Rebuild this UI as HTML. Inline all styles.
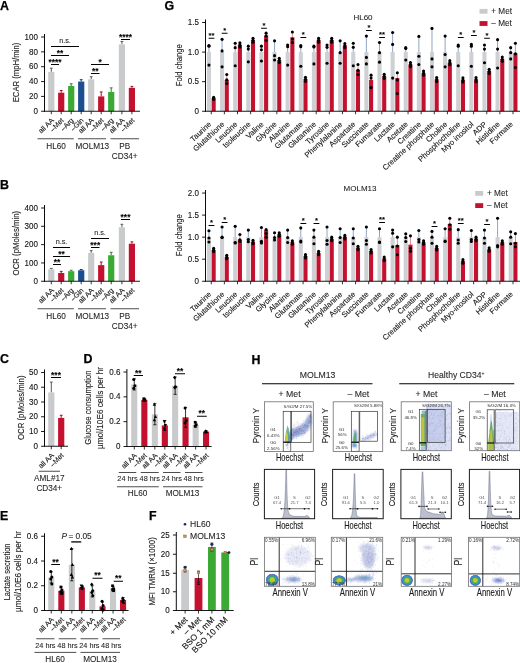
<!DOCTYPE html>
<html><head><meta charset="utf-8"><title>Figure</title>
<style>
html,body{margin:0;padding:0;background:#fff}
svg{display:block}
svg{font-family:"Liberation Sans",sans-serif;fill:#231f20}
</style></head><body>
<svg width="520" height="663" viewBox="0 0 520 663">
<rect width="520" height="663" fill="#fff"/>
<text transform="translate(0.1 10.4)" font-size="12.4" font-weight="bold" fill="#000" stroke="#000" stroke-width="0.25">A</text>
<line x1="51.3" y1="68.19" x2="51.3" y2="71.9" stroke="#58595b" stroke-width="1"/>
<line x1="49.9" y1="68.19" x2="52.7" y2="68.19" stroke="#58595b" stroke-width="1"/>
<rect x="48.2" y="71.9" width="6.2" height="39.35" fill="#c9cacc"/>
<line x1="61.2" y1="90.46" x2="61.2" y2="92.69" stroke="#9d0e26" stroke-width="1"/>
<line x1="59.8" y1="90.46" x2="62.6" y2="90.46" stroke="#9d0e26" stroke-width="1"/>
<rect x="58.1" y="92.69" width="6.2" height="18.56" fill="#c4112f"/>
<line x1="71.2" y1="83.78" x2="71.2" y2="86" stroke="#2c8229" stroke-width="1"/>
<line x1="69.8" y1="83.78" x2="72.6" y2="83.78" stroke="#2c8229" stroke-width="1"/>
<rect x="68.1" y="86" width="6.2" height="25.25" fill="#3aaa35"/>
<line x1="81.2" y1="79.69" x2="81.2" y2="81.55" stroke="#143c70" stroke-width="1"/>
<line x1="79.8" y1="79.69" x2="82.6" y2="79.69" stroke="#143c70" stroke-width="1"/>
<rect x="78.1" y="81.55" width="6.2" height="29.7" fill="#1b4f91"/>
<line x1="91.2" y1="76.72" x2="91.2" y2="79.32" stroke="#58595b" stroke-width="1"/>
<line x1="89.8" y1="76.72" x2="92.6" y2="76.72" stroke="#58595b" stroke-width="1"/>
<rect x="88.1" y="79.32" width="6.2" height="31.93" fill="#c9cacc"/>
<line x1="101.2" y1="91.95" x2="101.2" y2="96.4" stroke="#9d0e26" stroke-width="1"/>
<line x1="99.8" y1="91.95" x2="102.6" y2="91.95" stroke="#9d0e26" stroke-width="1"/>
<rect x="98.1" y="96.4" width="6.2" height="14.85" fill="#c4112f"/>
<line x1="111.2" y1="87.86" x2="111.2" y2="91.94" stroke="#2c8229" stroke-width="1"/>
<line x1="109.8" y1="87.86" x2="112.6" y2="87.86" stroke="#2c8229" stroke-width="1"/>
<rect x="108.1" y="91.94" width="6.2" height="19.31" fill="#3aaa35"/>
<line x1="121.9" y1="41.45" x2="121.9" y2="44.42" stroke="#58595b" stroke-width="1"/>
<line x1="120.5" y1="41.45" x2="123.3" y2="41.45" stroke="#58595b" stroke-width="1"/>
<rect x="118.8" y="44.42" width="6.2" height="66.83" fill="#c9cacc"/>
<line x1="131.9" y1="86.38" x2="131.9" y2="87.86" stroke="#9d0e26" stroke-width="1"/>
<line x1="130.5" y1="86.38" x2="133.3" y2="86.38" stroke="#9d0e26" stroke-width="1"/>
<rect x="128.8" y="87.86" width="6.2" height="23.39" fill="#c4112f"/>
<line x1="44.5" y1="34" x2="44.5" y2="111.7" stroke="#000" stroke-width="0.95"/>
<line x1="41.1" y1="111.25" x2="44.5" y2="111.25" stroke="#000" stroke-width="0.9"/>
<text transform="translate(38 113.9) scale(0.97 1)" font-size="8.3" text-anchor="end" fill="#111" stroke="#111" stroke-width="0.1">0</text>
<line x1="41.1" y1="96.4" x2="44.5" y2="96.4" stroke="#000" stroke-width="0.9"/>
<text transform="translate(38 99.05) scale(0.97 1)" font-size="8.3" text-anchor="end" fill="#111" stroke="#111" stroke-width="0.1">20</text>
<line x1="41.1" y1="81.55" x2="44.5" y2="81.55" stroke="#000" stroke-width="0.9"/>
<text transform="translate(38 84.2) scale(0.97 1)" font-size="8.3" text-anchor="end" fill="#111" stroke="#111" stroke-width="0.1">40</text>
<line x1="41.1" y1="66.7" x2="44.5" y2="66.7" stroke="#000" stroke-width="0.9"/>
<text transform="translate(38 69.35) scale(0.97 1)" font-size="8.3" text-anchor="end" fill="#111" stroke="#111" stroke-width="0.1">60</text>
<line x1="41.1" y1="51.85" x2="44.5" y2="51.85" stroke="#000" stroke-width="0.9"/>
<text transform="translate(38 54.5) scale(0.97 1)" font-size="8.3" text-anchor="end" fill="#111" stroke="#111" stroke-width="0.1">80</text>
<line x1="41.1" y1="37" x2="44.5" y2="37" stroke="#000" stroke-width="0.9"/>
<text transform="translate(38 39.65) scale(0.97 1)" font-size="8.3" text-anchor="end" fill="#111" stroke="#111" stroke-width="0.1">100</text>
<line x1="44.05" y1="111.25" x2="140" y2="111.25" stroke="#000" stroke-width="0.9"/>
<line x1="51.3" y1="111.25" x2="51.3" y2="114.25" stroke="#000" stroke-width="0.8"/>
<line x1="61.2" y1="111.25" x2="61.2" y2="114.25" stroke="#000" stroke-width="0.8"/>
<line x1="71.2" y1="111.25" x2="71.2" y2="114.25" stroke="#000" stroke-width="0.8"/>
<line x1="81.2" y1="111.25" x2="81.2" y2="114.25" stroke="#000" stroke-width="0.8"/>
<line x1="91.2" y1="111.25" x2="91.2" y2="114.25" stroke="#000" stroke-width="0.8"/>
<line x1="101.2" y1="111.25" x2="101.2" y2="114.25" stroke="#000" stroke-width="0.8"/>
<line x1="111.2" y1="111.25" x2="111.2" y2="114.25" stroke="#000" stroke-width="0.8"/>
<line x1="121.9" y1="111.25" x2="121.9" y2="114.25" stroke="#000" stroke-width="0.8"/>
<line x1="131.9" y1="111.25" x2="131.9" y2="114.25" stroke="#000" stroke-width="0.8"/>
<text transform="translate(54.3 120.85) rotate(-45)" font-size="7.2" text-anchor="end" fill="#111" stroke="#111" stroke-width="0.1">all AA</text>
<text transform="translate(64.2 120.85) rotate(-45)" font-size="7.2" text-anchor="end" fill="#111" stroke="#111" stroke-width="0.1">–Met</text>
<text transform="translate(74.2 120.85) rotate(-45)" font-size="7.2" text-anchor="end" fill="#111" stroke="#111" stroke-width="0.1">–Arg</text>
<text transform="translate(84.2 120.85) rotate(-45)" font-size="7.2" text-anchor="end" fill="#111" stroke="#111" stroke-width="0.1">–Gln</text>
<text transform="translate(94.2 120.85) rotate(-45)" font-size="7.2" text-anchor="end" fill="#111" stroke="#111" stroke-width="0.1">all AA</text>
<text transform="translate(104.2 120.85) rotate(-45)" font-size="7.2" text-anchor="end" fill="#111" stroke="#111" stroke-width="0.1">–Met</text>
<text transform="translate(114.2 120.85) rotate(-45)" font-size="7.2" text-anchor="end" fill="#111" stroke="#111" stroke-width="0.1">–Arg</text>
<text transform="translate(124.9 120.85) rotate(-45)" font-size="7.2" text-anchor="end" fill="#111" stroke="#111" stroke-width="0.1">all AA</text>
<text transform="translate(134.9 120.85) rotate(-45)" font-size="7.2" text-anchor="end" fill="#111" stroke="#111" stroke-width="0.1">–Met</text>
<line x1="37.5" y1="138.75" x2="73.75" y2="138.75" stroke="#000" stroke-width="0.7"/>
<line x1="78" y1="138.75" x2="106" y2="138.75" stroke="#000" stroke-width="0.7"/>
<line x1="110.5" y1="138.75" x2="139" y2="138.75" stroke="#000" stroke-width="0.7"/>
<text transform="translate(56 148.65)" font-size="8.2" text-anchor="middle" stroke="#231f20" stroke-width="0.09">HL60</text>
<text transform="translate(92.3 148.65)" font-size="8.2" text-anchor="middle" stroke="#231f20" stroke-width="0.09">MOLM13</text>
<text transform="translate(124.7 148.65)" font-size="8.2" text-anchor="middle" stroke="#231f20" stroke-width="0.09">PB</text>
<text transform="translate(124.7 158.65)" font-size="8.2" text-anchor="middle" stroke="#231f20" stroke-width="0.09">CD34+</text>
<text transform="translate(18.85 72.53) rotate(-90) scale(0.83 1)" font-size="9.3" text-anchor="middle" fill="#1a1a1a" stroke="#1a1a1a" stroke-width="0.12">ECAR (mpH/min)</text>
<line x1="51" y1="64.5" x2="59" y2="64.5" stroke="#000" stroke-width="1"/>
<text transform="translate(55 64.6)" font-size="8.4" text-anchor="middle" font-weight="bold" fill="#000" stroke="#000" stroke-width="0.09">****</text>
<line x1="51" y1="55.5" x2="69" y2="55.5" stroke="#000" stroke-width="1"/>
<text transform="translate(60 55.6)" font-size="8.4" text-anchor="middle" font-weight="bold" fill="#000" stroke="#000" stroke-width="0.09">**</text>
<line x1="51" y1="46.5" x2="79" y2="46.5" stroke="#000" stroke-width="1"/>
<text transform="translate(65 43.4)" font-size="7.3" text-anchor="middle" stroke="#231f20" stroke-width="0.09">n.s.</text>
<line x1="91" y1="73.5" x2="99.5" y2="73.5" stroke="#000" stroke-width="1"/>
<text transform="translate(95.25 73.6)" font-size="8.4" text-anchor="middle" font-weight="bold" fill="#000" stroke="#000" stroke-width="0.09">**</text>
<line x1="91" y1="64.5" x2="109" y2="64.5" stroke="#000" stroke-width="1"/>
<text transform="translate(100 64.6)" font-size="8.4" text-anchor="middle" font-weight="bold" fill="#000" stroke="#000" stroke-width="0.09">*</text>
<line x1="121" y1="39.5" x2="130" y2="39.5" stroke="#000" stroke-width="1"/>
<text transform="translate(125.5 39.6)" font-size="8.4" text-anchor="middle" font-weight="bold" fill="#000" stroke="#000" stroke-width="0.09">****</text>
<text transform="translate(0.1 189)" font-size="12.4" font-weight="bold" fill="#000" stroke="#000" stroke-width="0.25">B</text>
<line x1="51.3" y1="268.43" x2="51.3" y2="269.35" stroke="#58595b" stroke-width="1"/>
<line x1="49.9" y1="268.43" x2="52.7" y2="268.43" stroke="#58595b" stroke-width="1"/>
<rect x="48.2" y="269.35" width="6.2" height="11.9" fill="#c9cacc"/>
<line x1="61.2" y1="271.36" x2="61.2" y2="273.01" stroke="#9d0e26" stroke-width="1"/>
<line x1="59.8" y1="271.36" x2="62.6" y2="271.36" stroke="#9d0e26" stroke-width="1"/>
<rect x="58.1" y="273.01" width="6.2" height="8.24" fill="#c4112f"/>
<line x1="71.2" y1="270.26" x2="71.2" y2="271.18" stroke="#2c8229" stroke-width="1"/>
<line x1="69.8" y1="270.26" x2="72.6" y2="270.26" stroke="#2c8229" stroke-width="1"/>
<rect x="68.1" y="271.18" width="6.2" height="10.07" fill="#3aaa35"/>
<line x1="81.2" y1="269.53" x2="81.2" y2="270.26" stroke="#143c70" stroke-width="1"/>
<line x1="79.8" y1="269.53" x2="82.6" y2="269.53" stroke="#143c70" stroke-width="1"/>
<rect x="78.1" y="270.26" width="6.2" height="10.99" fill="#1b4f91"/>
<line x1="91.2" y1="250.67" x2="91.2" y2="252.87" stroke="#58595b" stroke-width="1"/>
<line x1="89.8" y1="250.67" x2="92.6" y2="250.67" stroke="#58595b" stroke-width="1"/>
<rect x="88.1" y="252.87" width="6.2" height="28.38" fill="#c9cacc"/>
<line x1="101.2" y1="262.02" x2="101.2" y2="265.13" stroke="#9d0e26" stroke-width="1"/>
<line x1="99.8" y1="262.02" x2="102.6" y2="262.02" stroke="#9d0e26" stroke-width="1"/>
<rect x="98.1" y="265.13" width="6.2" height="16.12" fill="#c4112f"/>
<line x1="111.2" y1="252.32" x2="111.2" y2="255.25" stroke="#2c8229" stroke-width="1"/>
<line x1="109.8" y1="252.32" x2="112.6" y2="252.32" stroke="#2c8229" stroke-width="1"/>
<rect x="108.1" y="255.25" width="6.2" height="26" fill="#3aaa35"/>
<line x1="121.9" y1="224.3" x2="121.9" y2="227.23" stroke="#58595b" stroke-width="1"/>
<line x1="120.5" y1="224.3" x2="123.3" y2="224.3" stroke="#58595b" stroke-width="1"/>
<rect x="118.8" y="227.23" width="6.2" height="54.02" fill="#c9cacc"/>
<line x1="131.9" y1="241.88" x2="131.9" y2="243.71" stroke="#9d0e26" stroke-width="1"/>
<line x1="130.5" y1="241.88" x2="133.3" y2="241.88" stroke="#9d0e26" stroke-width="1"/>
<rect x="128.8" y="243.71" width="6.2" height="37.54" fill="#c4112f"/>
<line x1="44.5" y1="205" x2="44.5" y2="281.7" stroke="#000" stroke-width="0.95"/>
<line x1="41.1" y1="281.25" x2="44.5" y2="281.25" stroke="#000" stroke-width="0.9"/>
<text transform="translate(38 283.9) scale(0.97 1)" font-size="8.3" text-anchor="end" fill="#111" stroke="#111" stroke-width="0.1">0</text>
<line x1="41.1" y1="262.94" x2="44.5" y2="262.94" stroke="#000" stroke-width="0.9"/>
<text transform="translate(38 265.58) scale(0.97 1)" font-size="8.3" text-anchor="end" fill="#111" stroke="#111" stroke-width="0.1">100</text>
<line x1="41.1" y1="244.62" x2="44.5" y2="244.62" stroke="#000" stroke-width="0.9"/>
<text transform="translate(38 247.27) scale(0.97 1)" font-size="8.3" text-anchor="end" fill="#111" stroke="#111" stroke-width="0.1">200</text>
<line x1="41.1" y1="226.31" x2="44.5" y2="226.31" stroke="#000" stroke-width="0.9"/>
<text transform="translate(38 228.96) scale(0.97 1)" font-size="8.3" text-anchor="end" fill="#111" stroke="#111" stroke-width="0.1">300</text>
<line x1="41.1" y1="208" x2="44.5" y2="208" stroke="#000" stroke-width="0.9"/>
<text transform="translate(38 210.65) scale(0.97 1)" font-size="8.3" text-anchor="end" fill="#111" stroke="#111" stroke-width="0.1">400</text>
<line x1="44.05" y1="281.25" x2="140" y2="281.25" stroke="#000" stroke-width="0.9"/>
<line x1="51.3" y1="281.25" x2="51.3" y2="284.25" stroke="#000" stroke-width="0.8"/>
<line x1="61.2" y1="281.25" x2="61.2" y2="284.25" stroke="#000" stroke-width="0.8"/>
<line x1="71.2" y1="281.25" x2="71.2" y2="284.25" stroke="#000" stroke-width="0.8"/>
<line x1="81.2" y1="281.25" x2="81.2" y2="284.25" stroke="#000" stroke-width="0.8"/>
<line x1="91.2" y1="281.25" x2="91.2" y2="284.25" stroke="#000" stroke-width="0.8"/>
<line x1="101.2" y1="281.25" x2="101.2" y2="284.25" stroke="#000" stroke-width="0.8"/>
<line x1="111.2" y1="281.25" x2="111.2" y2="284.25" stroke="#000" stroke-width="0.8"/>
<line x1="121.9" y1="281.25" x2="121.9" y2="284.25" stroke="#000" stroke-width="0.8"/>
<line x1="131.9" y1="281.25" x2="131.9" y2="284.25" stroke="#000" stroke-width="0.8"/>
<text transform="translate(54.3 290.85) rotate(-45)" font-size="7.2" text-anchor="end" fill="#111" stroke="#111" stroke-width="0.1">all AA</text>
<text transform="translate(64.2 290.85) rotate(-45)" font-size="7.2" text-anchor="end" fill="#111" stroke="#111" stroke-width="0.1">–Met</text>
<text transform="translate(74.2 290.85) rotate(-45)" font-size="7.2" text-anchor="end" fill="#111" stroke="#111" stroke-width="0.1">–Arg</text>
<text transform="translate(84.2 290.85) rotate(-45)" font-size="7.2" text-anchor="end" fill="#111" stroke="#111" stroke-width="0.1">–Gln</text>
<text transform="translate(94.2 290.85) rotate(-45)" font-size="7.2" text-anchor="end" fill="#111" stroke="#111" stroke-width="0.1">all AA</text>
<text transform="translate(104.2 290.85) rotate(-45)" font-size="7.2" text-anchor="end" fill="#111" stroke="#111" stroke-width="0.1">–Met</text>
<text transform="translate(114.2 290.85) rotate(-45)" font-size="7.2" text-anchor="end" fill="#111" stroke="#111" stroke-width="0.1">–Arg</text>
<text transform="translate(124.9 290.85) rotate(-45)" font-size="7.2" text-anchor="end" fill="#111" stroke="#111" stroke-width="0.1">all AA</text>
<text transform="translate(134.9 290.85) rotate(-45)" font-size="7.2" text-anchor="end" fill="#111" stroke="#111" stroke-width="0.1">–Met</text>
<line x1="37.5" y1="308.75" x2="73.75" y2="308.75" stroke="#000" stroke-width="0.7"/>
<line x1="78" y1="308.75" x2="106" y2="308.75" stroke="#000" stroke-width="0.7"/>
<line x1="110.5" y1="308.75" x2="139" y2="308.75" stroke="#000" stroke-width="0.7"/>
<text transform="translate(56 318.65)" font-size="8.2" text-anchor="middle" stroke="#231f20" stroke-width="0.09">HL60</text>
<text transform="translate(92.3 318.65)" font-size="8.2" text-anchor="middle" stroke="#231f20" stroke-width="0.09">MOLM13</text>
<text transform="translate(124.7 318.65)" font-size="8.2" text-anchor="middle" stroke="#231f20" stroke-width="0.09">PB</text>
<text transform="translate(124.7 328.65)" font-size="8.2" text-anchor="middle" stroke="#231f20" stroke-width="0.09">CD34+</text>
<text transform="translate(18.85 243.12) rotate(-90) scale(0.84 1)" font-size="9.3" text-anchor="middle" fill="#1a1a1a" stroke="#1a1a1a" stroke-width="0.12">OCR (pMoles/min)</text>
<line x1="53" y1="264.5" x2="61" y2="264.5" stroke="#000" stroke-width="1"/>
<text transform="translate(57 264.6)" font-size="8.4" text-anchor="middle" font-weight="bold" fill="#000" stroke="#000" stroke-width="0.09">**</text>
<line x1="53" y1="256.5" x2="70" y2="256.5" stroke="#000" stroke-width="1"/>
<text transform="translate(61.5 256.6)" font-size="8.4" text-anchor="middle" font-weight="bold" fill="#000" stroke="#000" stroke-width="0.09">**</text>
<line x1="53" y1="247.5" x2="70" y2="247.5" stroke="#000" stroke-width="1"/>
<text transform="translate(61.5 244.4)" font-size="7.3" text-anchor="middle" stroke="#231f20" stroke-width="0.09">n.s.</text>
<line x1="91" y1="247.5" x2="99.5" y2="247.5" stroke="#000" stroke-width="1"/>
<text transform="translate(95.25 247.6)" font-size="8.4" text-anchor="middle" font-weight="bold" fill="#000" stroke="#000" stroke-width="0.09">***</text>
<line x1="91" y1="238.5" x2="109" y2="238.5" stroke="#000" stroke-width="1"/>
<text transform="translate(100 235.4)" font-size="7.3" text-anchor="middle" stroke="#231f20" stroke-width="0.09">n.s.</text>
<line x1="121" y1="219.5" x2="130" y2="219.5" stroke="#000" stroke-width="1"/>
<text transform="translate(125.5 219.6)" font-size="8.4" text-anchor="middle" font-weight="bold" fill="#000" stroke="#000" stroke-width="0.09">***</text>
<text transform="translate(0.1 363.2)" font-size="12.4" font-weight="bold" fill="#000" stroke="#000" stroke-width="0.25">C</text>
<line x1="51.3" y1="382.09" x2="51.3" y2="392.41" stroke="#58595b" stroke-width="1"/>
<line x1="49.9" y1="382.09" x2="52.7" y2="382.09" stroke="#58595b" stroke-width="1"/>
<rect x="48.2" y="392.41" width="6.2" height="53.84" fill="#c9cacc"/>
<line x1="61.2" y1="415.28" x2="61.2" y2="417.93" stroke="#9d0e26" stroke-width="1"/>
<line x1="59.8" y1="415.28" x2="62.6" y2="415.28" stroke="#9d0e26" stroke-width="1"/>
<rect x="58.1" y="417.93" width="6.2" height="28.32" fill="#c4112f"/>
<line x1="44.5" y1="369.5" x2="44.5" y2="446.7" stroke="#000" stroke-width="0.95"/>
<line x1="41.1" y1="446.25" x2="44.5" y2="446.25" stroke="#000" stroke-width="0.9"/>
<text transform="translate(38 448.9) scale(0.97 1)" font-size="8.3" text-anchor="end" fill="#111" stroke="#111" stroke-width="0.1">0</text>
<line x1="41.1" y1="431.5" x2="44.5" y2="431.5" stroke="#000" stroke-width="0.9"/>
<text transform="translate(38 434.15) scale(0.97 1)" font-size="8.3" text-anchor="end" fill="#111" stroke="#111" stroke-width="0.1">10</text>
<line x1="41.1" y1="416.75" x2="44.5" y2="416.75" stroke="#000" stroke-width="0.9"/>
<text transform="translate(38 419.4) scale(0.97 1)" font-size="8.3" text-anchor="end" fill="#111" stroke="#111" stroke-width="0.1">20</text>
<line x1="41.1" y1="402" x2="44.5" y2="402" stroke="#000" stroke-width="0.9"/>
<text transform="translate(38 404.65) scale(0.97 1)" font-size="8.3" text-anchor="end" fill="#111" stroke="#111" stroke-width="0.1">30</text>
<line x1="41.1" y1="387.25" x2="44.5" y2="387.25" stroke="#000" stroke-width="0.9"/>
<text transform="translate(38 389.9) scale(0.97 1)" font-size="8.3" text-anchor="end" fill="#111" stroke="#111" stroke-width="0.1">40</text>
<line x1="41.1" y1="372.5" x2="44.5" y2="372.5" stroke="#000" stroke-width="0.9"/>
<text transform="translate(38 375.15) scale(0.97 1)" font-size="8.3" text-anchor="end" fill="#111" stroke="#111" stroke-width="0.1">50</text>
<line x1="44.05" y1="446.25" x2="68" y2="446.25" stroke="#000" stroke-width="0.9"/>
<line x1="51.3" y1="446.25" x2="51.3" y2="449.25" stroke="#000" stroke-width="0.8"/>
<line x1="61.2" y1="446.25" x2="61.2" y2="449.25" stroke="#000" stroke-width="0.8"/>
<text transform="translate(54.3 455.85) rotate(-45)" font-size="7.2" text-anchor="end" fill="#111" stroke="#111" stroke-width="0.1">all AA</text>
<text transform="translate(64.2 455.85) rotate(-45)" font-size="7.2" text-anchor="end" fill="#111" stroke="#111" stroke-width="0.1">–Met</text>
<line x1="38.75" y1="471.25" x2="60" y2="471.25" stroke="#000" stroke-width="0.7"/>
<text transform="translate(49.3 481)" font-size="8.2" text-anchor="middle" stroke="#231f20" stroke-width="0.09">AML#17</text>
<text transform="translate(49.3 490.8)" font-size="8.2" text-anchor="middle" stroke="#231f20" stroke-width="0.09">CD34+</text>
<text transform="translate(23.85 407.75) rotate(-90) scale(0.84 1)" font-size="9.3" text-anchor="middle" fill="#1a1a1a" stroke="#1a1a1a" stroke-width="0.12">OCR (pMoles/min)</text>
<line x1="51" y1="377.5" x2="61" y2="377.5" stroke="#000" stroke-width="1"/>
<text transform="translate(56 377.6)" font-size="8.4" text-anchor="middle" font-weight="bold" fill="#000" stroke="#000" stroke-width="0.09">***</text>
<text transform="translate(83.6 363.2)" font-size="12.4" font-weight="bold" fill="#000" stroke="#000" stroke-width="0.25">D</text>
<rect x="131.2" y="384.42" width="6.1" height="62.08" fill="#c9cacc"/>
<line x1="134.25" y1="378.83" x2="134.25" y2="390" stroke="#000" stroke-width="0.8"/>
<line x1="132.75" y1="378.83" x2="135.75" y2="378.83" stroke="#000" stroke-width="0.8"/>
<line x1="132.75" y1="390" x2="135.75" y2="390" stroke="#000" stroke-width="0.8"/>
<circle cx="133.75" cy="379.45" r="1.5" fill="#000"/>
<circle cx="134.85" cy="385.66" r="1.5" fill="#000"/>
<circle cx="133.75" cy="388.14" r="1.5" fill="#000"/>
<rect x="141.3" y="399.94" width="6.1" height="46.56" fill="#c4112f"/>
<line x1="144.35" y1="398.45" x2="144.35" y2="401.43" stroke="#000" stroke-width="0.8"/>
<line x1="142.85" y1="398.45" x2="145.85" y2="398.45" stroke="#000" stroke-width="0.8"/>
<line x1="142.85" y1="401.43" x2="145.85" y2="401.43" stroke="#000" stroke-width="0.8"/>
<rect x="142.5" y="397.35" width="2.7" height="2.7" fill="#000"/>
<rect x="143.6" y="398.59" width="2.7" height="2.7" fill="#000"/>
<rect x="142.5" y="399.21" width="2.7" height="2.7" fill="#000"/>
<rect x="151.8" y="414.22" width="6.1" height="32.28" fill="#c9cacc"/>
<line x1="154.85" y1="403.66" x2="154.85" y2="424.77" stroke="#000" stroke-width="0.8"/>
<line x1="153.35" y1="403.66" x2="156.35" y2="403.66" stroke="#000" stroke-width="0.8"/>
<line x1="153.35" y1="424.77" x2="156.35" y2="424.77" stroke="#000" stroke-width="0.8"/>
<path d="M154.35 402.48L156 405.63L152.7 405.63Z" fill="#000"/>
<path d="M155.45 414.9L157.1 418.05L153.8 418.05Z" fill="#000"/>
<path d="M154.35 418L156 421.15L152.7 421.15Z" fill="#000"/>
<rect x="161.8" y="425.39" width="6.1" height="21.11" fill="#c4112f"/>
<line x1="164.85" y1="420.43" x2="164.85" y2="430.36" stroke="#000" stroke-width="0.8"/>
<line x1="163.35" y1="420.43" x2="166.35" y2="420.43" stroke="#000" stroke-width="0.8"/>
<line x1="163.35" y1="430.36" x2="166.35" y2="430.36" stroke="#000" stroke-width="0.8"/>
<path d="M164.35 423.47L166 420.32L162.7 420.32Z" fill="#000"/>
<path d="M165.45 427.19L167.1 424.04L163.8 424.04Z" fill="#000"/>
<path d="M164.35 430.92L166 427.77L162.7 427.77Z" fill="#000"/>
<rect x="172.1" y="385.66" width="6.1" height="60.84" fill="#c9cacc"/>
<line x1="175.15" y1="376.97" x2="175.15" y2="394.35" stroke="#000" stroke-width="0.8"/>
<line x1="173.65" y1="376.97" x2="176.65" y2="376.97" stroke="#000" stroke-width="0.8"/>
<line x1="173.65" y1="394.35" x2="176.65" y2="394.35" stroke="#000" stroke-width="0.8"/>
<path d="M174.65 375.64L176.3 377.59L174.65 379.54L173 377.59Z" fill="#000"/>
<path d="M175.75 384.95L177.4 386.9L175.75 388.85L174.1 386.9Z" fill="#000"/>
<path d="M174.65 385.57L176.3 387.52L174.65 389.47L173 387.52Z" fill="#000"/>
<rect x="182.5" y="417.32" width="6.1" height="29.18" fill="#c4112f"/>
<line x1="185.55" y1="407.39" x2="185.55" y2="427.25" stroke="#000" stroke-width="0.8"/>
<line x1="184.05" y1="407.39" x2="187.05" y2="407.39" stroke="#000" stroke-width="0.8"/>
<line x1="184.05" y1="427.25" x2="187.05" y2="427.25" stroke="#000" stroke-width="0.8"/>
<circle cx="185.05" cy="408.01" r="1.5" fill="#000"/>
<circle cx="186.15" cy="420.43" r="1.5" fill="#000"/>
<circle cx="185.05" cy="422.91" r="1.5" fill="#000"/>
<rect x="192.6" y="424.77" width="6.1" height="21.73" fill="#c9cacc"/>
<line x1="195.65" y1="422.29" x2="195.65" y2="427.25" stroke="#000" stroke-width="0.8"/>
<line x1="194.15" y1="422.29" x2="197.15" y2="422.29" stroke="#000" stroke-width="0.8"/>
<line x1="194.15" y1="427.25" x2="197.15" y2="427.25" stroke="#000" stroke-width="0.8"/>
<rect x="193.8" y="420.94" width="2.7" height="2.7" fill="#000"/>
<rect x="194.9" y="423.42" width="2.7" height="2.7" fill="#000"/>
<rect x="193.8" y="424.66" width="2.7" height="2.7" fill="#000"/>
<rect x="203" y="431.6" width="6.1" height="14.9" fill="#c4112f"/>
<line x1="206.05" y1="430.61" x2="206.05" y2="432.59" stroke="#000" stroke-width="0.8"/>
<line x1="204.55" y1="430.61" x2="207.55" y2="430.61" stroke="#000" stroke-width="0.8"/>
<line x1="204.55" y1="432.59" x2="207.55" y2="432.59" stroke="#000" stroke-width="0.8"/>
<path d="M205.55 429.18L207.2 432.33L203.9 432.33Z" fill="#000"/>
<path d="M206.65 429.8L208.3 432.95L205 432.95Z" fill="#000"/>
<path d="M205.55 430.42L207.2 433.57L203.9 433.57Z" fill="#000"/>
<line x1="126.9" y1="369" x2="126.9" y2="446.95" stroke="#000" stroke-width="0.95"/>
<line x1="123.5" y1="446.5" x2="126.9" y2="446.5" stroke="#000" stroke-width="0.9"/>
<text transform="translate(120.4 449.15) scale(0.97 1)" font-size="8.3" text-anchor="end" fill="#111" stroke="#111" stroke-width="0.1">0</text>
<line x1="123.5" y1="421.67" x2="126.9" y2="421.67" stroke="#000" stroke-width="0.9"/>
<text transform="translate(120.4 424.31) scale(0.97 1)" font-size="8.3" text-anchor="end" fill="#111" stroke="#111" stroke-width="0.1">0.2</text>
<line x1="123.5" y1="396.83" x2="126.9" y2="396.83" stroke="#000" stroke-width="0.9"/>
<text transform="translate(120.4 399.48) scale(0.97 1)" font-size="8.3" text-anchor="end" fill="#111" stroke="#111" stroke-width="0.1">0.4</text>
<line x1="123.5" y1="372" x2="126.9" y2="372" stroke="#000" stroke-width="0.9"/>
<text transform="translate(120.4 374.65) scale(0.97 1)" font-size="8.3" text-anchor="end" fill="#111" stroke="#111" stroke-width="0.1">0.6</text>
<line x1="126.45" y1="446.5" x2="211.6" y2="446.5" stroke="#000" stroke-width="0.9"/>
<line x1="134.25" y1="446.5" x2="134.25" y2="449.5" stroke="#000" stroke-width="0.8"/>
<line x1="144.35" y1="446.5" x2="144.35" y2="449.5" stroke="#000" stroke-width="0.8"/>
<line x1="154.85" y1="446.5" x2="154.85" y2="449.5" stroke="#000" stroke-width="0.8"/>
<line x1="164.85" y1="446.5" x2="164.85" y2="449.5" stroke="#000" stroke-width="0.8"/>
<line x1="175.15" y1="446.5" x2="175.15" y2="449.5" stroke="#000" stroke-width="0.8"/>
<line x1="185.55" y1="446.5" x2="185.55" y2="449.5" stroke="#000" stroke-width="0.8"/>
<line x1="195.65" y1="446.5" x2="195.65" y2="449.5" stroke="#000" stroke-width="0.8"/>
<line x1="206.05" y1="446.5" x2="206.05" y2="449.5" stroke="#000" stroke-width="0.8"/>
<text transform="translate(137.25 456.1) rotate(-45)" font-size="7.2" text-anchor="end" fill="#111" stroke="#111" stroke-width="0.1">all AA</text>
<text transform="translate(147.35 456.1) rotate(-45)" font-size="7.2" text-anchor="end" fill="#111" stroke="#111" stroke-width="0.1">–Met</text>
<text transform="translate(157.85 456.1) rotate(-45)" font-size="7.2" text-anchor="end" fill="#111" stroke="#111" stroke-width="0.1">all AA</text>
<text transform="translate(167.85 456.1) rotate(-45)" font-size="7.2" text-anchor="end" fill="#111" stroke="#111" stroke-width="0.1">–Met</text>
<text transform="translate(178.15 456.1) rotate(-45)" font-size="7.2" text-anchor="end" fill="#111" stroke="#111" stroke-width="0.1">all AA</text>
<text transform="translate(188.55 456.1) rotate(-45)" font-size="7.2" text-anchor="end" fill="#111" stroke="#111" stroke-width="0.1">–Met</text>
<text transform="translate(198.65 456.1) rotate(-45)" font-size="7.2" text-anchor="end" fill="#111" stroke="#111" stroke-width="0.1">all AA</text>
<text transform="translate(209.05 456.1) rotate(-45)" font-size="7.2" text-anchor="end" fill="#111" stroke="#111" stroke-width="0.1">–Met</text>
<line x1="118.75" y1="472.5" x2="136.25" y2="472.5" stroke="#000" stroke-width="0.7"/>
<line x1="140.75" y1="472.5" x2="158.75" y2="472.5" stroke="#000" stroke-width="0.7"/>
<line x1="163" y1="472.5" x2="180.5" y2="472.5" stroke="#000" stroke-width="0.7"/>
<line x1="185" y1="472.5" x2="202.5" y2="472.5" stroke="#000" stroke-width="0.7"/>
<text transform="translate(127.5 481.4)" font-size="7.3" text-anchor="middle" stroke="#231f20" stroke-width="0.09">24 hrs</text>
<text transform="translate(149.75 481.4)" font-size="7.3" text-anchor="middle" stroke="#231f20" stroke-width="0.09">48 hrs</text>
<text transform="translate(171.75 481.4)" font-size="7.3" text-anchor="middle" stroke="#231f20" stroke-width="0.09">24 hrs</text>
<text transform="translate(193.75 481.4)" font-size="7.3" text-anchor="middle" stroke="#231f20" stroke-width="0.09">48 hrs</text>
<line x1="117" y1="486.75" x2="158.75" y2="486.75" stroke="#000" stroke-width="0.7"/>
<line x1="163" y1="486.75" x2="202.5" y2="486.75" stroke="#000" stroke-width="0.7"/>
<text transform="translate(137.5 495.95)" font-size="8.2" text-anchor="middle" stroke="#231f20" stroke-width="0.09">HL60</text>
<text transform="translate(182.5 495.95)" font-size="8.2" text-anchor="middle" stroke="#231f20" stroke-width="0.09">MOLM13</text>
<text transform="translate(90.8 407.6) rotate(-90) scale(0.8 1)" font-size="9.7" text-anchor="middle" fill="#1a1a1a" stroke="#1a1a1a" stroke-width="0.12">Glucose consumption</text>
<text transform="translate(102.9 408) rotate(-90) scale(0.85 1)" font-size="9.7" text-anchor="middle" fill="#1a1a1a" stroke="#1a1a1a" stroke-width="0.12">µmol/10E6 cells per hr</text>
<line x1="133.75" y1="375.5" x2="143" y2="375.5" stroke="#000" stroke-width="1"/>
<text transform="translate(138.38 375.6)" font-size="8.4" text-anchor="middle" font-weight="bold" fill="#000" stroke="#000" stroke-width="0.09">**</text>
<line x1="175" y1="373.75" x2="185" y2="373.75" stroke="#000" stroke-width="1"/>
<text transform="translate(180 373.85)" font-size="8.4" text-anchor="middle" font-weight="bold" fill="#000" stroke="#000" stroke-width="0.09">**</text>
<line x1="197" y1="416.25" x2="206.75" y2="416.25" stroke="#000" stroke-width="1"/>
<text transform="translate(201.88 416.35)" font-size="8.4" text-anchor="middle" font-weight="bold" fill="#000" stroke="#000" stroke-width="0.09">**</text>
<text transform="translate(0.1 519.6)" font-size="12.4" font-weight="bold" fill="#000" stroke="#000" stroke-width="0.25">E</text>
<rect x="48.2" y="577.46" width="6.1" height="33.04" fill="#c9cacc"/>
<line x1="51.25" y1="571.89" x2="51.25" y2="583.03" stroke="#000" stroke-width="0.8"/>
<line x1="49.75" y1="571.89" x2="52.75" y2="571.89" stroke="#000" stroke-width="0.8"/>
<line x1="49.75" y1="583.03" x2="52.75" y2="583.03" stroke="#000" stroke-width="0.8"/>
<circle cx="50.75" cy="571.52" r="1.5" fill="#000"/>
<circle cx="51.85" cy="577.09" r="1.5" fill="#000"/>
<circle cx="50.75" cy="578.94" r="1.5" fill="#000"/>
<circle cx="51.85" cy="583.89" r="1.5" fill="#000"/>
<rect x="58.3" y="590.7" width="6.1" height="19.8" fill="#c4112f"/>
<line x1="61.35" y1="586.99" x2="61.35" y2="594.41" stroke="#000" stroke-width="0.8"/>
<line x1="59.85" y1="586.99" x2="62.85" y2="586.99" stroke="#000" stroke-width="0.8"/>
<line x1="59.85" y1="594.41" x2="62.85" y2="594.41" stroke="#000" stroke-width="0.8"/>
<rect x="59.5" y="585.64" width="2.7" height="2.7" fill="#000"/>
<rect x="60.6" y="588.73" width="2.7" height="2.7" fill="#000"/>
<rect x="59.5" y="590.59" width="2.7" height="2.7" fill="#000"/>
<rect x="60.6" y="591.82" width="2.7" height="2.7" fill="#000"/>
<rect x="68.8" y="564.71" width="6.1" height="45.79" fill="#c9cacc"/>
<line x1="71.85" y1="548.62" x2="71.85" y2="580.8" stroke="#000" stroke-width="0.8"/>
<line x1="70.35" y1="548.62" x2="73.35" y2="548.62" stroke="#000" stroke-width="0.8"/>
<line x1="70.35" y1="580.8" x2="73.35" y2="580.8" stroke="#000" stroke-width="0.8"/>
<path d="M71.35 546.83L73 549.98L69.7 549.98Z" fill="#000"/>
<path d="M72.45 562.91L74.1 566.06L70.8 566.06Z" fill="#000"/>
<path d="M71.35 572.81L73 575.96L69.7 575.96Z" fill="#000"/>
<path d="M72.45 575.29L74.1 578.44L70.8 578.44Z" fill="#000"/>
<rect x="78.8" y="587.48" width="6.1" height="23.02" fill="#c4112f"/>
<line x1="81.85" y1="585.63" x2="81.85" y2="589.34" stroke="#000" stroke-width="0.8"/>
<line x1="80.35" y1="585.63" x2="83.35" y2="585.63" stroke="#000" stroke-width="0.8"/>
<line x1="80.35" y1="589.34" x2="83.35" y2="589.34" stroke="#000" stroke-width="0.8"/>
<path d="M81.35 587.55L83 584.4L79.7 584.4Z" fill="#000"/>
<path d="M82.45 588.79L84.1 585.64L80.8 585.64Z" fill="#000"/>
<path d="M81.35 590.02L83 586.88L79.7 586.88Z" fill="#000"/>
<path d="M82.45 590.64L84.1 587.49L80.8 587.49Z" fill="#000"/>
<rect x="89.2" y="591.32" width="6.1" height="19.18" fill="#c9cacc"/>
<line x1="92.25" y1="585.75" x2="92.25" y2="596.89" stroke="#000" stroke-width="0.8"/>
<line x1="90.75" y1="585.75" x2="93.75" y2="585.75" stroke="#000" stroke-width="0.8"/>
<line x1="90.75" y1="596.89" x2="93.75" y2="596.89" stroke="#000" stroke-width="0.8"/>
<path d="M91.75 582.56L93.4 584.51L91.75 586.46L90.1 584.51Z" fill="#000"/>
<path d="M92.85 588.75L94.5 590.7L92.85 592.65L91.2 590.7Z" fill="#000"/>
<path d="M91.75 590.61L93.4 592.56L91.75 594.51L90.1 592.56Z" fill="#000"/>
<path d="M92.85 593.7L94.5 595.65L92.85 597.6L91.2 595.65Z" fill="#000"/>
<rect x="99.5" y="606.29" width="6.1" height="4.21" fill="#c4112f"/>
<line x1="102.55" y1="601.96" x2="102.55" y2="610.62" stroke="#000" stroke-width="0.8"/>
<line x1="101.05" y1="601.96" x2="104.05" y2="601.96" stroke="#000" stroke-width="0.8"/>
<line x1="101.05" y1="610.62" x2="104.05" y2="610.62" stroke="#000" stroke-width="0.8"/>
<circle cx="102.05" cy="601.22" r="1.5" fill="#000"/>
<circle cx="103.15" cy="605.55" r="1.5" fill="#000"/>
<circle cx="102.05" cy="608.64" r="1.5" fill="#000"/>
<circle cx="103.15" cy="609.88" r="1.5" fill="#000"/>
<rect x="110" y="588.72" width="6.1" height="21.78" fill="#c9cacc"/>
<line x1="113.05" y1="586.25" x2="113.05" y2="591.2" stroke="#000" stroke-width="0.8"/>
<line x1="111.55" y1="586.25" x2="114.55" y2="586.25" stroke="#000" stroke-width="0.8"/>
<line x1="111.55" y1="591.2" x2="114.55" y2="591.2" stroke="#000" stroke-width="0.8"/>
<rect x="111.2" y="584.4" width="2.7" height="2.7" fill="#000"/>
<rect x="112.3" y="587.49" width="2.7" height="2.7" fill="#000"/>
<rect x="111.2" y="588.11" width="2.7" height="2.7" fill="#000"/>
<rect x="112.3" y="589.35" width="2.7" height="2.7" fill="#000"/>
<rect x="120" y="599.98" width="6.1" height="10.52" fill="#c4112f"/>
<line x1="123.05" y1="597.51" x2="123.05" y2="602.46" stroke="#000" stroke-width="0.8"/>
<line x1="121.55" y1="597.51" x2="124.55" y2="597.51" stroke="#000" stroke-width="0.8"/>
<line x1="121.55" y1="602.46" x2="124.55" y2="602.46" stroke="#000" stroke-width="0.8"/>
<path d="M122.55 596.33L124.2 599.48L120.9 599.48Z" fill="#000"/>
<path d="M123.65 597.56L125.3 600.71L122 600.71Z" fill="#000"/>
<path d="M122.55 598.8L124.2 601.95L120.9 601.95Z" fill="#000"/>
<path d="M123.65 600.66L125.3 603.81L122 603.81Z" fill="#000"/>
<line x1="44.5" y1="533.25" x2="44.5" y2="610.95" stroke="#000" stroke-width="0.95"/>
<line x1="41.1" y1="610.5" x2="44.5" y2="610.5" stroke="#000" stroke-width="0.9"/>
<text transform="translate(38 613.15) scale(0.97 1)" font-size="8.3" text-anchor="end" fill="#111" stroke="#111" stroke-width="0.1">0</text>
<line x1="41.1" y1="585.75" x2="44.5" y2="585.75" stroke="#000" stroke-width="0.9"/>
<text transform="translate(38 588.4) scale(0.97 1)" font-size="8.3" text-anchor="end" fill="#111" stroke="#111" stroke-width="0.1">0.2</text>
<line x1="41.1" y1="561" x2="44.5" y2="561" stroke="#000" stroke-width="0.9"/>
<text transform="translate(38 563.65) scale(0.97 1)" font-size="8.3" text-anchor="end" fill="#111" stroke="#111" stroke-width="0.1">0.4</text>
<line x1="41.1" y1="536.25" x2="44.5" y2="536.25" stroke="#000" stroke-width="0.9"/>
<text transform="translate(38 538.9) scale(0.97 1)" font-size="8.3" text-anchor="end" fill="#111" stroke="#111" stroke-width="0.1">0.6</text>
<line x1="44.05" y1="610.5" x2="128.6" y2="610.5" stroke="#000" stroke-width="0.9"/>
<line x1="51.25" y1="610.5" x2="51.25" y2="613.5" stroke="#000" stroke-width="0.8"/>
<line x1="61.35" y1="610.5" x2="61.35" y2="613.5" stroke="#000" stroke-width="0.8"/>
<line x1="71.85" y1="610.5" x2="71.85" y2="613.5" stroke="#000" stroke-width="0.8"/>
<line x1="81.85" y1="610.5" x2="81.85" y2="613.5" stroke="#000" stroke-width="0.8"/>
<line x1="92.25" y1="610.5" x2="92.25" y2="613.5" stroke="#000" stroke-width="0.8"/>
<line x1="102.55" y1="610.5" x2="102.55" y2="613.5" stroke="#000" stroke-width="0.8"/>
<line x1="113.05" y1="610.5" x2="113.05" y2="613.5" stroke="#000" stroke-width="0.8"/>
<line x1="123.05" y1="610.5" x2="123.05" y2="613.5" stroke="#000" stroke-width="0.8"/>
<text transform="translate(54.25 620.1) rotate(-45)" font-size="7.2" text-anchor="end" fill="#111" stroke="#111" stroke-width="0.1">all AA</text>
<text transform="translate(64.35 620.1) rotate(-45)" font-size="7.2" text-anchor="end" fill="#111" stroke="#111" stroke-width="0.1">–Met</text>
<text transform="translate(74.85 620.1) rotate(-45)" font-size="7.2" text-anchor="end" fill="#111" stroke="#111" stroke-width="0.1">all AA</text>
<text transform="translate(84.85 620.1) rotate(-45)" font-size="7.2" text-anchor="end" fill="#111" stroke="#111" stroke-width="0.1">–Met</text>
<text transform="translate(95.25 620.1) rotate(-45)" font-size="7.2" text-anchor="end" fill="#111" stroke="#111" stroke-width="0.1">all AA</text>
<text transform="translate(105.55 620.1) rotate(-45)" font-size="7.2" text-anchor="end" fill="#111" stroke="#111" stroke-width="0.1">–Met</text>
<text transform="translate(116.05 620.1) rotate(-45)" font-size="7.2" text-anchor="end" fill="#111" stroke="#111" stroke-width="0.1">all AA</text>
<text transform="translate(126.05 620.1) rotate(-45)" font-size="7.2" text-anchor="end" fill="#111" stroke="#111" stroke-width="0.1">–Met</text>
<line x1="36.25" y1="638.75" x2="54.5" y2="638.75" stroke="#000" stroke-width="0.7"/>
<line x1="58.75" y1="638.75" x2="76.25" y2="638.75" stroke="#000" stroke-width="0.7"/>
<line x1="80.5" y1="638.75" x2="98.25" y2="638.75" stroke="#000" stroke-width="0.7"/>
<line x1="102.5" y1="638.75" x2="120" y2="638.75" stroke="#000" stroke-width="0.7"/>
<text transform="translate(45.38 647.65)" font-size="7.3" text-anchor="middle" stroke="#231f20" stroke-width="0.09">24 hrs</text>
<text transform="translate(67.5 647.65)" font-size="7.3" text-anchor="middle" stroke="#231f20" stroke-width="0.09">48 hrs</text>
<text transform="translate(89.38 647.65)" font-size="7.3" text-anchor="middle" stroke="#231f20" stroke-width="0.09">24 hrs</text>
<text transform="translate(111.25 647.65)" font-size="7.3" text-anchor="middle" stroke="#231f20" stroke-width="0.09">48 hrs</text>
<line x1="34.5" y1="652.4" x2="76.25" y2="652.4" stroke="#000" stroke-width="0.7"/>
<line x1="80.5" y1="652.4" x2="120" y2="652.4" stroke="#000" stroke-width="0.7"/>
<text transform="translate(55 661.6)" font-size="8.2" text-anchor="middle" stroke="#231f20" stroke-width="0.09">HL60</text>
<text transform="translate(100 661.6)" font-size="8.2" text-anchor="middle" stroke="#231f20" stroke-width="0.09">MOLM13</text>
<text transform="translate(10.3 571.9) rotate(-90) scale(0.77 1)" font-size="9.7" text-anchor="middle" fill="#1a1a1a" stroke="#1a1a1a" stroke-width="0.12">Lactate secretion</text>
<text transform="translate(21.4 571.5) rotate(-90) scale(0.84 1)" font-size="9.7" text-anchor="middle" fill="#1a1a1a" stroke="#1a1a1a" stroke-width="0.12">µmol/10E6 cells per hr</text>
<line x1="51.25" y1="564.5" x2="60" y2="564.5" stroke="#000" stroke-width="1"/>
<text transform="translate(55.62 564.6)" font-size="8.4" text-anchor="middle" font-weight="bold" fill="#000" stroke="#000" stroke-width="0.09">**</text>
<line x1="92.5" y1="578.25" x2="102.5" y2="578.25" stroke="#000" stroke-width="1"/>
<text transform="translate(97.5 578.35)" font-size="8.4" text-anchor="middle" font-weight="bold" fill="#000" stroke="#000" stroke-width="0.09">**</text>
<line x1="113.75" y1="581.25" x2="123" y2="581.25" stroke="#000" stroke-width="1"/>
<text transform="translate(118.38 581.35)" font-size="8.4" text-anchor="middle" font-weight="bold" fill="#000" stroke="#000" stroke-width="0.09">**</text>
<line x1="71.25" y1="541.9" x2="81.25" y2="541.9" stroke="#000" stroke-width="1.3"/>
<text transform="translate(61.6 539.4)" font-size="8.3" font-style="italic" stroke="#231f20" stroke-width="0.09">P</text>
<text transform="translate(68.4 539.4)" font-size="8.3" stroke="#231f20" stroke-width="0.09">= 0.05</text>
<text transform="translate(148.9 519.6)" font-size="12.4" font-weight="bold" fill="#000" stroke="#000" stroke-width="0.25">F</text>
<rect x="181.2" y="570" width="7.8" height="40.5" fill="#c9cacc"/>
<rect x="194.6" y="578" width="7.8" height="32.5" fill="#c4112f"/>
<rect x="208" y="547" width="7.8" height="63.5" fill="#3aaa35"/>
<rect x="221.3" y="552.5" width="7.8" height="58" fill="#3aaa35"/>
<line x1="176.3" y1="532" x2="176.3" y2="610.95" stroke="#000" stroke-width="0.95"/>
<line x1="172.9" y1="610.5" x2="176.3" y2="610.5" stroke="#000" stroke-width="0.9"/>
<text transform="translate(169.8 613.15) scale(0.97 1)" font-size="8.3" text-anchor="end" fill="#111" stroke="#111" stroke-width="0.1">0</text>
<line x1="172.9" y1="591.75" x2="176.3" y2="591.75" stroke="#000" stroke-width="0.9"/>
<text transform="translate(169.8 594.4) scale(0.97 1)" font-size="8.3" text-anchor="end" fill="#111" stroke="#111" stroke-width="0.1">10</text>
<line x1="172.9" y1="573.25" x2="176.3" y2="573.25" stroke="#000" stroke-width="0.9"/>
<text transform="translate(169.8 575.9) scale(0.97 1)" font-size="8.3" text-anchor="end" fill="#111" stroke="#111" stroke-width="0.1">15</text>
<line x1="172.9" y1="554.25" x2="176.3" y2="554.25" stroke="#000" stroke-width="0.9"/>
<text transform="translate(169.8 556.9) scale(0.97 1)" font-size="8.3" text-anchor="end" fill="#111" stroke="#111" stroke-width="0.1">20</text>
<line x1="172.9" y1="535" x2="176.3" y2="535" stroke="#000" stroke-width="0.9"/>
<text transform="translate(169.8 537.65) scale(0.97 1)" font-size="8.3" text-anchor="end" fill="#111" stroke="#111" stroke-width="0.1">25</text>
<line x1="175.85" y1="610.5" x2="233.75" y2="610.5" stroke="#000" stroke-width="0.9"/>
<line x1="185.1" y1="610.5" x2="185.1" y2="613.5" stroke="#000" stroke-width="0.8"/>
<line x1="198.5" y1="610.5" x2="198.5" y2="613.5" stroke="#000" stroke-width="0.8"/>
<line x1="211.9" y1="610.5" x2="211.9" y2="613.5" stroke="#000" stroke-width="0.8"/>
<line x1="225.2" y1="610.5" x2="225.2" y2="613.5" stroke="#000" stroke-width="0.8"/>
<line x1="185.1" y1="566.5" x2="185.1" y2="572" stroke="#000" stroke-width="0.6"/>
<line x1="183.6" y1="566.5" x2="186.6" y2="566.5" stroke="#000" stroke-width="0.6"/>
<line x1="183.6" y1="572" x2="186.6" y2="572" stroke="#000" stroke-width="0.6"/>
<circle cx="185.1" cy="567.3" r="1.5" fill="#1c2557"/>
<rect x="183.8" y="568.9" width="2.6" height="2.6" fill="#d9924a" stroke="#6b5230" stroke-width="0.4"/>
<line x1="198.5" y1="571" x2="198.5" y2="584.5" stroke="#000" stroke-width="0.6"/>
<line x1="197" y1="571" x2="200" y2="571" stroke="#000" stroke-width="0.6"/>
<line x1="197" y1="584.5" x2="200" y2="584.5" stroke="#000" stroke-width="0.6"/>
<circle cx="198.5" cy="582.5" r="1.5" fill="#1c2557"/>
<rect x="197.2" y="571.2" width="2.6" height="2.6" fill="#d9924a" stroke="#6b5230" stroke-width="0.4"/>
<line x1="211.9" y1="543" x2="211.9" y2="551" stroke="#000" stroke-width="0.6"/>
<line x1="210.4" y1="543" x2="213.4" y2="543" stroke="#000" stroke-width="0.6"/>
<line x1="210.4" y1="551" x2="213.4" y2="551" stroke="#000" stroke-width="0.6"/>
<circle cx="211.9" cy="544.3" r="1.5" fill="#1c2557"/>
<rect x="210.6" y="548.2" width="2.6" height="2.6" fill="#d9924a" stroke="#6b5230" stroke-width="0.4"/>
<line x1="225.2" y1="552.5" x2="229.5" y2="552.5" stroke="#000" stroke-width="0.6"/>
<rect x="224" y="551.3" width="2.6" height="2.6" fill="#d9924a" stroke="#6b5230" stroke-width="0.4"/>
<circle cx="229" cy="552.6" r="1.4" fill="#1c2557"/>
<text transform="translate(188.3 620.3) rotate(-45)" font-size="8.6" text-anchor="end" fill="#111" stroke="#111" stroke-width="0.1">+ Met</text>
<text transform="translate(201.7 620.3) rotate(-45)" font-size="8.6" text-anchor="end" fill="#111" stroke="#111" stroke-width="0.1">– Met</text>
<text transform="translate(215.1 620.3) rotate(-45)" font-size="8.6" text-anchor="end" fill="#111" stroke="#111" stroke-width="0.1">BSO 1 mM</text>
<text transform="translate(228.4 620.3) rotate(-45)" font-size="8.6" text-anchor="end" fill="#111" stroke="#111" stroke-width="0.1">BSO 10 mM</text>
<text transform="translate(155.05 571.35) rotate(-90) scale(0.87 1)" font-size="9" text-anchor="middle" fill="#1a1a1a" stroke="#1a1a1a" stroke-width="0.12">MFI TMRM (×1000)</text>
<circle cx="185" cy="524.3" r="1.3" fill="#1c2557"/>
<text transform="translate(190 527.2)" font-size="8.6" stroke="#231f20" stroke-width="0.09">HL60</text>
<rect x="183.7" y="535" width="2.6" height="2.6" fill="#d9924a" stroke="#6b5230" stroke-width="0.4"/>
<text transform="translate(190 539.4)" font-size="8.6" stroke="#231f20" stroke-width="0.09">MOLM13</text>
<text transform="translate(164.6 10.2)" font-size="12.4" font-weight="bold" fill="#000" stroke="#000" stroke-width="0.25">G</text>
<rect x="206.9" y="52.08" width="4.1" height="59.17" fill="#cfd0d3"/>
<rect x="211.6" y="98.23" width="4.1" height="13.02" fill="#c4112f"/>
<line x1="208.95" y1="45.57" x2="208.95" y2="52.08" stroke="#5f7fa8" stroke-width="0.7"/>
<line x1="207.75" y1="45.57" x2="210.15" y2="45.57" stroke="#5f7fa8" stroke-width="0.7"/>
<line x1="213.65" y1="96.75" x2="213.65" y2="98.23" stroke="#c4112f" stroke-width="0.5"/>
<circle cx="208.95" cy="45.57" r="1.55" fill="#000"/>
<circle cx="208.95" cy="46.16" r="1.55" fill="#000"/>
<circle cx="208.95" cy="65.1" r="1.55" fill="#000"/>
<circle cx="213.65" cy="97.35" r="1.55" fill="#000"/>
<circle cx="213.65" cy="98.23" r="1.55" fill="#000"/>
<circle cx="213.65" cy="99.42" r="1.55" fill="#000"/>
<rect x="220.02" y="52.08" width="4.1" height="59.17" fill="#cfd0d3"/>
<rect x="224.72" y="79.89" width="4.1" height="31.36" fill="#c4112f"/>
<line x1="222.07" y1="39.36" x2="222.07" y2="52.08" stroke="#5f7fa8" stroke-width="0.7"/>
<line x1="220.87" y1="39.36" x2="223.27" y2="39.36" stroke="#5f7fa8" stroke-width="0.7"/>
<line x1="226.77" y1="73.96" x2="226.77" y2="79.89" stroke="#c4112f" stroke-width="0.5"/>
<circle cx="222.07" cy="39.36" r="1.55" fill="#000"/>
<circle cx="222.07" cy="50.9" r="1.55" fill="#000"/>
<circle cx="222.07" cy="66.87" r="1.55" fill="#000"/>
<circle cx="226.77" cy="74.56" r="1.55" fill="#000"/>
<circle cx="226.77" cy="79.89" r="1.55" fill="#000"/>
<circle cx="226.77" cy="83.44" r="1.55" fill="#000"/>
<rect x="233.14" y="52.08" width="4.1" height="59.17" fill="#cfd0d3"/>
<rect x="237.84" y="44.98" width="4.1" height="66.27" fill="#c4112f"/>
<line x1="235.19" y1="43.2" x2="235.19" y2="52.08" stroke="#5f7fa8" stroke-width="0.7"/>
<line x1="233.99" y1="43.2" x2="236.39" y2="43.2" stroke="#5f7fa8" stroke-width="0.7"/>
<line x1="239.89" y1="42.31" x2="239.89" y2="44.98" stroke="#c4112f" stroke-width="0.5"/>
<circle cx="235.19" cy="43.2" r="1.55" fill="#000"/>
<circle cx="235.19" cy="47.64" r="1.55" fill="#000"/>
<circle cx="235.19" cy="65.69" r="1.55" fill="#000"/>
<circle cx="239.89" cy="42.91" r="1.55" fill="#000"/>
<circle cx="239.89" cy="44.98" r="1.55" fill="#000"/>
<circle cx="239.89" cy="47.05" r="1.55" fill="#000"/>
<rect x="246.26" y="52.08" width="4.1" height="59.17" fill="#cfd0d3"/>
<rect x="250.96" y="40.25" width="4.1" height="71" fill="#c4112f"/>
<line x1="248.31" y1="46.16" x2="248.31" y2="52.08" stroke="#5f7fa8" stroke-width="0.7"/>
<line x1="247.11" y1="46.16" x2="249.51" y2="46.16" stroke="#5f7fa8" stroke-width="0.7"/>
<line x1="253.01" y1="37.58" x2="253.01" y2="40.25" stroke="#c4112f" stroke-width="0.5"/>
<circle cx="248.31" cy="46.16" r="1.55" fill="#000"/>
<circle cx="248.31" cy="49.12" r="1.55" fill="#000"/>
<circle cx="248.31" cy="61.84" r="1.55" fill="#000"/>
<circle cx="253.01" cy="38.18" r="1.55" fill="#000"/>
<circle cx="253.01" cy="40.25" r="1.55" fill="#000"/>
<circle cx="253.01" cy="42.32" r="1.55" fill="#000"/>
<rect x="259.38" y="52.08" width="4.1" height="59.17" fill="#cfd0d3"/>
<rect x="264.08" y="35.51" width="4.1" height="75.74" fill="#c4112f"/>
<line x1="261.43" y1="46.16" x2="261.43" y2="52.08" stroke="#5f7fa8" stroke-width="0.7"/>
<line x1="260.23" y1="46.16" x2="262.63" y2="46.16" stroke="#5f7fa8" stroke-width="0.7"/>
<line x1="266.13" y1="32.55" x2="266.13" y2="35.51" stroke="#c4112f" stroke-width="0.5"/>
<circle cx="261.43" cy="46.16" r="1.55" fill="#000"/>
<circle cx="261.43" cy="49.71" r="1.55" fill="#000"/>
<circle cx="261.43" cy="60.96" r="1.55" fill="#000"/>
<circle cx="266.13" cy="33.15" r="1.55" fill="#000"/>
<circle cx="266.13" cy="36.1" r="1.55" fill="#000"/>
<circle cx="266.13" cy="40.25" r="1.55" fill="#000"/>
<rect x="272.5" y="52.08" width="4.1" height="59.17" fill="#cfd0d3"/>
<rect x="277.2" y="60.36" width="4.1" height="50.89" fill="#c4112f"/>
<line x1="274.55" y1="40.84" x2="274.55" y2="52.08" stroke="#5f7fa8" stroke-width="0.7"/>
<line x1="273.35" y1="40.84" x2="275.75" y2="40.84" stroke="#5f7fa8" stroke-width="0.7"/>
<line x1="279.25" y1="57.69" x2="279.25" y2="60.36" stroke="#c4112f" stroke-width="0.5"/>
<circle cx="274.55" cy="40.84" r="1.55" fill="#000"/>
<circle cx="274.55" cy="55.63" r="1.55" fill="#000"/>
<circle cx="274.55" cy="60.07" r="1.55" fill="#000"/>
<circle cx="279.25" cy="58.29" r="1.55" fill="#000"/>
<circle cx="279.25" cy="60.36" r="1.55" fill="#000"/>
<circle cx="279.25" cy="62.43" r="1.55" fill="#000"/>
<rect x="285.62" y="52.08" width="4.1" height="59.17" fill="#cfd0d3"/>
<rect x="290.32" y="37.29" width="4.1" height="73.96" fill="#c4112f"/>
<line x1="287.67" y1="44.98" x2="287.67" y2="52.08" stroke="#5f7fa8" stroke-width="0.7"/>
<line x1="286.47" y1="44.98" x2="288.87" y2="44.98" stroke="#5f7fa8" stroke-width="0.7"/>
<line x1="292.37" y1="31.36" x2="292.37" y2="37.29" stroke="#c4112f" stroke-width="0.5"/>
<circle cx="287.67" cy="44.98" r="1.55" fill="#000"/>
<circle cx="287.67" cy="46.75" r="1.55" fill="#000"/>
<circle cx="287.67" cy="65.1" r="1.55" fill="#000"/>
<circle cx="292.37" cy="31.96" r="1.55" fill="#000"/>
<circle cx="292.37" cy="39.06" r="1.55" fill="#000"/>
<circle cx="292.37" cy="42.61" r="1.55" fill="#000"/>
<rect x="298.74" y="52.08" width="4.1" height="59.17" fill="#cfd0d3"/>
<rect x="303.44" y="79.3" width="4.1" height="31.95" fill="#c4112f"/>
<line x1="300.79" y1="45.57" x2="300.79" y2="52.08" stroke="#5f7fa8" stroke-width="0.7"/>
<line x1="299.59" y1="45.57" x2="301.99" y2="45.57" stroke="#5f7fa8" stroke-width="0.7"/>
<line x1="305.49" y1="76.63" x2="305.49" y2="79.3" stroke="#c4112f" stroke-width="0.5"/>
<circle cx="300.79" cy="45.57" r="1.55" fill="#000"/>
<circle cx="300.79" cy="46.75" r="1.55" fill="#000"/>
<circle cx="300.79" cy="66.28" r="1.55" fill="#000"/>
<circle cx="305.49" cy="77.23" r="1.55" fill="#000"/>
<circle cx="305.49" cy="79.3" r="1.55" fill="#000"/>
<circle cx="305.49" cy="81.37" r="1.55" fill="#000"/>
<rect x="311.86" y="52.08" width="4.1" height="59.17" fill="#cfd0d3"/>
<rect x="316.56" y="40.25" width="4.1" height="71" fill="#c4112f"/>
<line x1="313.91" y1="46.16" x2="313.91" y2="52.08" stroke="#5f7fa8" stroke-width="0.7"/>
<line x1="312.71" y1="46.16" x2="315.11" y2="46.16" stroke="#5f7fa8" stroke-width="0.7"/>
<line x1="318.61" y1="37.58" x2="318.61" y2="40.25" stroke="#c4112f" stroke-width="0.5"/>
<circle cx="313.91" cy="46.16" r="1.55" fill="#000"/>
<circle cx="313.91" cy="47.05" r="1.55" fill="#000"/>
<circle cx="313.91" cy="63.91" r="1.55" fill="#000"/>
<circle cx="318.61" cy="38.18" r="1.55" fill="#000"/>
<circle cx="318.61" cy="40.25" r="1.55" fill="#000"/>
<circle cx="318.61" cy="42.32" r="1.55" fill="#000"/>
<rect x="324.98" y="52.08" width="4.1" height="59.17" fill="#cfd0d3"/>
<rect x="329.68" y="40.25" width="4.1" height="71" fill="#c4112f"/>
<line x1="327.03" y1="44.98" x2="327.03" y2="52.08" stroke="#5f7fa8" stroke-width="0.7"/>
<line x1="325.83" y1="44.98" x2="328.23" y2="44.98" stroke="#5f7fa8" stroke-width="0.7"/>
<line x1="331.73" y1="37.58" x2="331.73" y2="40.25" stroke="#c4112f" stroke-width="0.5"/>
<circle cx="327.03" cy="44.98" r="1.55" fill="#000"/>
<circle cx="327.03" cy="47.35" r="1.55" fill="#000"/>
<circle cx="327.03" cy="63.32" r="1.55" fill="#000"/>
<circle cx="331.73" cy="38.18" r="1.55" fill="#000"/>
<circle cx="331.73" cy="40.25" r="1.55" fill="#000"/>
<circle cx="331.73" cy="42.32" r="1.55" fill="#000"/>
<rect x="338.1" y="52.08" width="4.1" height="59.17" fill="#cfd0d3"/>
<rect x="342.8" y="45.57" width="4.1" height="65.68" fill="#c4112f"/>
<line x1="340.15" y1="40.84" x2="340.15" y2="52.08" stroke="#5f7fa8" stroke-width="0.7"/>
<line x1="338.95" y1="40.84" x2="341.35" y2="40.84" stroke="#5f7fa8" stroke-width="0.7"/>
<line x1="344.85" y1="42.9" x2="344.85" y2="45.57" stroke="#c4112f" stroke-width="0.5"/>
<circle cx="340.15" cy="40.84" r="1.55" fill="#000"/>
<circle cx="340.15" cy="52.67" r="1.55" fill="#000"/>
<circle cx="340.15" cy="63.32" r="1.55" fill="#000"/>
<circle cx="344.85" cy="43.5" r="1.55" fill="#000"/>
<circle cx="344.85" cy="45.57" r="1.55" fill="#000"/>
<circle cx="344.85" cy="47.64" r="1.55" fill="#000"/>
<rect x="351.22" y="52.08" width="4.1" height="59.17" fill="#cfd0d3"/>
<rect x="355.92" y="69.83" width="4.1" height="41.42" fill="#c4112f"/>
<line x1="353.27" y1="43.2" x2="353.27" y2="52.08" stroke="#5f7fa8" stroke-width="0.7"/>
<line x1="352.07" y1="43.2" x2="354.47" y2="43.2" stroke="#5f7fa8" stroke-width="0.7"/>
<line x1="357.97" y1="63.91" x2="357.97" y2="69.83" stroke="#c4112f" stroke-width="0.5"/>
<circle cx="353.27" cy="43.2" r="1.55" fill="#000"/>
<circle cx="353.27" cy="47.35" r="1.55" fill="#000"/>
<circle cx="353.27" cy="65.69" r="1.55" fill="#000"/>
<circle cx="357.97" cy="64.51" r="1.55" fill="#000"/>
<circle cx="357.97" cy="70.42" r="1.55" fill="#000"/>
<circle cx="357.97" cy="74.56" r="1.55" fill="#000"/>
<rect x="364.34" y="52.08" width="4.1" height="59.17" fill="#cfd0d3"/>
<rect x="369.04" y="79.89" width="4.1" height="31.36" fill="#c4112f"/>
<line x1="366.39" y1="36.1" x2="366.39" y2="52.08" stroke="#5f7fa8" stroke-width="0.7"/>
<line x1="365.19" y1="36.1" x2="367.59" y2="36.1" stroke="#5f7fa8" stroke-width="0.7"/>
<line x1="371.09" y1="74.56" x2="371.09" y2="79.89" stroke="#c4112f" stroke-width="0.5"/>
<circle cx="366.39" cy="36.1" r="1.55" fill="#000"/>
<circle cx="366.39" cy="57.41" r="1.55" fill="#000"/>
<circle cx="366.39" cy="63.91" r="1.55" fill="#000"/>
<circle cx="371.09" cy="75.16" r="1.55" fill="#000"/>
<circle cx="371.09" cy="78.11" r="1.55" fill="#000"/>
<circle cx="371.09" cy="87.58" r="1.55" fill="#000"/>
<rect x="377.46" y="52.08" width="4.1" height="59.17" fill="#cfd0d3"/>
<rect x="382.16" y="76.34" width="4.1" height="34.91" fill="#c4112f"/>
<line x1="379.51" y1="42.61" x2="379.51" y2="52.08" stroke="#5f7fa8" stroke-width="0.7"/>
<line x1="378.31" y1="42.61" x2="380.71" y2="42.61" stroke="#5f7fa8" stroke-width="0.7"/>
<line x1="384.21" y1="73.67" x2="384.21" y2="76.34" stroke="#c4112f" stroke-width="0.5"/>
<circle cx="379.51" cy="42.61" r="1.55" fill="#000"/>
<circle cx="379.51" cy="52.67" r="1.55" fill="#000"/>
<circle cx="379.51" cy="62.14" r="1.55" fill="#000"/>
<circle cx="384.21" cy="74.27" r="1.55" fill="#000"/>
<circle cx="384.21" cy="76.34" r="1.55" fill="#000"/>
<circle cx="384.21" cy="78.41" r="1.55" fill="#000"/>
<rect x="390.58" y="52.08" width="4.1" height="59.17" fill="#cfd0d3"/>
<rect x="395.28" y="78.11" width="4.1" height="33.14" fill="#c4112f"/>
<line x1="392.63" y1="32.55" x2="392.63" y2="52.08" stroke="#5f7fa8" stroke-width="0.7"/>
<line x1="391.43" y1="32.55" x2="393.83" y2="32.55" stroke="#5f7fa8" stroke-width="0.7"/>
<line x1="397.33" y1="72.19" x2="397.33" y2="78.11" stroke="#c4112f" stroke-width="0.5"/>
<circle cx="392.63" cy="32.55" r="1.55" fill="#000"/>
<circle cx="392.63" cy="44.39" r="1.55" fill="#000"/>
<circle cx="392.63" cy="78.11" r="1.55" fill="#000"/>
<circle cx="397.33" cy="72.79" r="1.55" fill="#000"/>
<circle cx="397.33" cy="79.89" r="1.55" fill="#000"/>
<circle cx="397.33" cy="93.5" r="1.55" fill="#000"/>
<rect x="403.7" y="52.08" width="4.1" height="59.17" fill="#cfd0d3"/>
<rect x="408.4" y="64.51" width="4.1" height="46.74" fill="#c4112f"/>
<line x1="405.75" y1="47.64" x2="405.75" y2="52.08" stroke="#5f7fa8" stroke-width="0.7"/>
<line x1="404.55" y1="47.64" x2="406.95" y2="47.64" stroke="#5f7fa8" stroke-width="0.7"/>
<line x1="410.45" y1="61.83" x2="410.45" y2="64.51" stroke="#c4112f" stroke-width="0.5"/>
<circle cx="405.75" cy="47.64" r="1.55" fill="#000"/>
<circle cx="405.75" cy="48.53" r="1.55" fill="#000"/>
<circle cx="405.75" cy="60.07" r="1.55" fill="#000"/>
<circle cx="410.45" cy="62.43" r="1.55" fill="#000"/>
<circle cx="410.45" cy="64.51" r="1.55" fill="#000"/>
<circle cx="410.45" cy="66.58" r="1.55" fill="#000"/>
<rect x="416.82" y="52.08" width="4.1" height="59.17" fill="#cfd0d3"/>
<rect x="421.52" y="73.09" width="4.1" height="38.16" fill="#c4112f"/>
<line x1="418.87" y1="36.4" x2="418.87" y2="52.08" stroke="#5f7fa8" stroke-width="0.7"/>
<line x1="417.67" y1="36.4" x2="420.07" y2="36.4" stroke="#5f7fa8" stroke-width="0.7"/>
<line x1="423.57" y1="70.41" x2="423.57" y2="73.09" stroke="#c4112f" stroke-width="0.5"/>
<circle cx="418.87" cy="36.4" r="1.55" fill="#000"/>
<circle cx="418.87" cy="56.22" r="1.55" fill="#000"/>
<circle cx="418.87" cy="64.51" r="1.55" fill="#000"/>
<circle cx="423.57" cy="71.01" r="1.55" fill="#000"/>
<circle cx="423.57" cy="73.09" r="1.55" fill="#000"/>
<circle cx="423.57" cy="75.16" r="1.55" fill="#000"/>
<rect x="429.94" y="52.08" width="4.1" height="59.17" fill="#cfd0d3"/>
<rect x="434.64" y="79.53" width="4.1" height="31.72" fill="#c4112f"/>
<line x1="431.99" y1="28.41" x2="431.99" y2="52.08" stroke="#5f7fa8" stroke-width="0.7"/>
<line x1="430.79" y1="28.41" x2="433.19" y2="28.41" stroke="#5f7fa8" stroke-width="0.7"/>
<line x1="436.69" y1="76.86" x2="436.69" y2="79.53" stroke="#c4112f" stroke-width="0.5"/>
<circle cx="431.99" cy="28.41" r="1.55" fill="#000"/>
<circle cx="431.99" cy="58.88" r="1.55" fill="#000"/>
<circle cx="431.99" cy="66.87" r="1.55" fill="#000"/>
<circle cx="436.69" cy="77.46" r="1.55" fill="#000"/>
<circle cx="436.69" cy="79.53" r="1.55" fill="#000"/>
<circle cx="436.69" cy="81.61" r="1.55" fill="#000"/>
<rect x="443.06" y="52.08" width="4.1" height="59.17" fill="#cfd0d3"/>
<rect x="447.76" y="62.73" width="4.1" height="48.52" fill="#c4112f"/>
<line x1="445.11" y1="36.1" x2="445.11" y2="52.08" stroke="#5f7fa8" stroke-width="0.7"/>
<line x1="443.91" y1="36.1" x2="446.31" y2="36.1" stroke="#5f7fa8" stroke-width="0.7"/>
<line x1="449.81" y1="60.06" x2="449.81" y2="62.73" stroke="#c4112f" stroke-width="0.5"/>
<circle cx="445.11" cy="36.1" r="1.55" fill="#000"/>
<circle cx="445.11" cy="54.45" r="1.55" fill="#000"/>
<circle cx="445.11" cy="66.87" r="1.55" fill="#000"/>
<circle cx="449.81" cy="60.66" r="1.55" fill="#000"/>
<circle cx="449.81" cy="62.73" r="1.55" fill="#000"/>
<circle cx="449.81" cy="64.8" r="1.55" fill="#000"/>
<rect x="456.18" y="52.08" width="4.1" height="59.17" fill="#cfd0d3"/>
<rect x="460.88" y="79.89" width="4.1" height="31.36" fill="#c4112f"/>
<line x1="458.23" y1="44.98" x2="458.23" y2="52.08" stroke="#5f7fa8" stroke-width="0.7"/>
<line x1="457.03" y1="44.98" x2="459.43" y2="44.98" stroke="#5f7fa8" stroke-width="0.7"/>
<line x1="462.93" y1="77.22" x2="462.93" y2="79.89" stroke="#c4112f" stroke-width="0.5"/>
<circle cx="458.23" cy="44.98" r="1.55" fill="#000"/>
<circle cx="458.23" cy="46.16" r="1.55" fill="#000"/>
<circle cx="458.23" cy="65.69" r="1.55" fill="#000"/>
<circle cx="462.93" cy="77.82" r="1.55" fill="#000"/>
<circle cx="462.93" cy="79.89" r="1.55" fill="#000"/>
<circle cx="462.93" cy="81.96" r="1.55" fill="#000"/>
<rect x="469.3" y="52.08" width="4.1" height="59.17" fill="#cfd0d3"/>
<rect x="474" y="79.59" width="4.1" height="31.66" fill="#c4112f"/>
<line x1="471.35" y1="44.39" x2="471.35" y2="52.08" stroke="#5f7fa8" stroke-width="0.7"/>
<line x1="470.15" y1="44.39" x2="472.55" y2="44.39" stroke="#5f7fa8" stroke-width="0.7"/>
<line x1="476.05" y1="76.92" x2="476.05" y2="79.59" stroke="#c4112f" stroke-width="0.5"/>
<circle cx="471.35" cy="44.39" r="1.55" fill="#000"/>
<circle cx="471.35" cy="46.16" r="1.55" fill="#000"/>
<circle cx="471.35" cy="66.28" r="1.55" fill="#000"/>
<circle cx="476.05" cy="77.52" r="1.55" fill="#000"/>
<circle cx="476.05" cy="79.59" r="1.55" fill="#000"/>
<circle cx="476.05" cy="81.66" r="1.55" fill="#000"/>
<rect x="482.42" y="52.08" width="4.1" height="59.17" fill="#cfd0d3"/>
<rect x="487.12" y="71.31" width="4.1" height="39.94" fill="#c4112f"/>
<line x1="484.47" y1="44.98" x2="484.47" y2="52.08" stroke="#5f7fa8" stroke-width="0.7"/>
<line x1="483.27" y1="44.98" x2="485.67" y2="44.98" stroke="#5f7fa8" stroke-width="0.7"/>
<line x1="489.17" y1="68.64" x2="489.17" y2="71.31" stroke="#c4112f" stroke-width="0.5"/>
<circle cx="484.47" cy="44.98" r="1.55" fill="#000"/>
<circle cx="484.47" cy="49.12" r="1.55" fill="#000"/>
<circle cx="484.47" cy="62.73" r="1.55" fill="#000"/>
<circle cx="489.17" cy="69.24" r="1.55" fill="#000"/>
<circle cx="489.17" cy="71.31" r="1.55" fill="#000"/>
<circle cx="489.17" cy="73.38" r="1.55" fill="#000"/>
<rect x="495.54" y="52.08" width="4.1" height="59.17" fill="#cfd0d3"/>
<rect x="500.24" y="59.18" width="4.1" height="52.07" fill="#c4112f"/>
<line x1="497.59" y1="39.65" x2="497.59" y2="52.08" stroke="#5f7fa8" stroke-width="0.7"/>
<line x1="496.39" y1="39.65" x2="498.79" y2="39.65" stroke="#5f7fa8" stroke-width="0.7"/>
<line x1="502.29" y1="56.51" x2="502.29" y2="59.18" stroke="#c4112f" stroke-width="0.5"/>
<circle cx="497.59" cy="39.65" r="1.55" fill="#000"/>
<circle cx="497.59" cy="49.12" r="1.55" fill="#000"/>
<circle cx="497.59" cy="68.06" r="1.55" fill="#000"/>
<circle cx="502.29" cy="57.11" r="1.55" fill="#000"/>
<circle cx="502.29" cy="59.18" r="1.55" fill="#000"/>
<circle cx="502.29" cy="61.25" r="1.55" fill="#000"/>
<rect x="508.66" y="52.08" width="4.1" height="59.17" fill="#cfd0d3"/>
<rect x="513.36" y="53.26" width="4.1" height="57.99" fill="#c4112f"/>
<line x1="510.71" y1="47.64" x2="510.71" y2="52.08" stroke="#5f7fa8" stroke-width="0.7"/>
<line x1="509.51" y1="47.64" x2="511.91" y2="47.64" stroke="#5f7fa8" stroke-width="0.7"/>
<line x1="515.41" y1="42.6" x2="515.41" y2="53.26" stroke="#c4112f" stroke-width="0.5"/>
<circle cx="510.71" cy="47.64" r="1.55" fill="#000"/>
<circle cx="510.71" cy="52.67" r="1.55" fill="#000"/>
<circle cx="510.71" cy="58.88" r="1.55" fill="#000"/>
<circle cx="515.41" cy="43.2" r="1.55" fill="#000"/>
<circle cx="515.41" cy="53.86" r="1.55" fill="#000"/>
<circle cx="515.41" cy="67.46" r="1.55" fill="#000"/>
<line x1="205.5" y1="19.5" x2="205.5" y2="111.7" stroke="#000" stroke-width="0.95"/>
<line x1="202.1" y1="111.25" x2="205.5" y2="111.25" stroke="#000" stroke-width="0.9"/>
<text transform="translate(199 113.9) scale(0.97 1)" font-size="8.3" text-anchor="end" fill="#111" stroke="#111" stroke-width="0.1">0</text>
<line x1="202.1" y1="81.66" x2="205.5" y2="81.66" stroke="#000" stroke-width="0.9"/>
<text transform="translate(199 84.31) scale(0.97 1)" font-size="8.3" text-anchor="end" fill="#111" stroke="#111" stroke-width="0.1">0.5</text>
<line x1="202.1" y1="52.08" x2="205.5" y2="52.08" stroke="#000" stroke-width="0.9"/>
<text transform="translate(199 54.73) scale(0.97 1)" font-size="8.3" text-anchor="end" fill="#111" stroke="#111" stroke-width="0.1">1.0</text>
<line x1="202.1" y1="22.5" x2="205.5" y2="22.5" stroke="#000" stroke-width="0.9"/>
<text transform="translate(199 25.14) scale(0.97 1)" font-size="8.3" text-anchor="end" fill="#111" stroke="#111" stroke-width="0.1">1.5</text>
<line x1="205.05" y1="111.25" x2="520" y2="111.25" stroke="#000" stroke-width="0.9"/>
<line x1="211.25" y1="111.25" x2="211.25" y2="114.25" stroke="#000" stroke-width="0.8"/>
<line x1="224.37" y1="111.25" x2="224.37" y2="114.25" stroke="#000" stroke-width="0.8"/>
<line x1="237.49" y1="111.25" x2="237.49" y2="114.25" stroke="#000" stroke-width="0.8"/>
<line x1="250.61" y1="111.25" x2="250.61" y2="114.25" stroke="#000" stroke-width="0.8"/>
<line x1="263.73" y1="111.25" x2="263.73" y2="114.25" stroke="#000" stroke-width="0.8"/>
<line x1="276.85" y1="111.25" x2="276.85" y2="114.25" stroke="#000" stroke-width="0.8"/>
<line x1="289.97" y1="111.25" x2="289.97" y2="114.25" stroke="#000" stroke-width="0.8"/>
<line x1="303.09" y1="111.25" x2="303.09" y2="114.25" stroke="#000" stroke-width="0.8"/>
<line x1="316.21" y1="111.25" x2="316.21" y2="114.25" stroke="#000" stroke-width="0.8"/>
<line x1="329.33" y1="111.25" x2="329.33" y2="114.25" stroke="#000" stroke-width="0.8"/>
<line x1="342.45" y1="111.25" x2="342.45" y2="114.25" stroke="#000" stroke-width="0.8"/>
<line x1="355.57" y1="111.25" x2="355.57" y2="114.25" stroke="#000" stroke-width="0.8"/>
<line x1="368.69" y1="111.25" x2="368.69" y2="114.25" stroke="#000" stroke-width="0.8"/>
<line x1="381.81" y1="111.25" x2="381.81" y2="114.25" stroke="#000" stroke-width="0.8"/>
<line x1="394.93" y1="111.25" x2="394.93" y2="114.25" stroke="#000" stroke-width="0.8"/>
<line x1="408.05" y1="111.25" x2="408.05" y2="114.25" stroke="#000" stroke-width="0.8"/>
<line x1="421.17" y1="111.25" x2="421.17" y2="114.25" stroke="#000" stroke-width="0.8"/>
<line x1="434.29" y1="111.25" x2="434.29" y2="114.25" stroke="#000" stroke-width="0.8"/>
<line x1="447.41" y1="111.25" x2="447.41" y2="114.25" stroke="#000" stroke-width="0.8"/>
<line x1="460.53" y1="111.25" x2="460.53" y2="114.25" stroke="#000" stroke-width="0.8"/>
<line x1="473.65" y1="111.25" x2="473.65" y2="114.25" stroke="#000" stroke-width="0.8"/>
<line x1="486.77" y1="111.25" x2="486.77" y2="114.25" stroke="#000" stroke-width="0.8"/>
<line x1="499.89" y1="111.25" x2="499.89" y2="114.25" stroke="#000" stroke-width="0.8"/>
<line x1="513.01" y1="111.25" x2="513.01" y2="114.25" stroke="#000" stroke-width="0.8"/>
<text transform="translate(211.65 124.95) rotate(-43)" font-size="7.7" text-anchor="end" fill="#111" stroke="#111" stroke-width="0.1">Taurine</text>
<text transform="translate(224.77 124.95) rotate(-43)" font-size="7.7" text-anchor="end" fill="#111" stroke="#111" stroke-width="0.1">Glutathione</text>
<text transform="translate(237.89 124.95) rotate(-43)" font-size="7.7" text-anchor="end" fill="#111" stroke="#111" stroke-width="0.1">Leucine</text>
<text transform="translate(251.01 124.95) rotate(-43)" font-size="7.7" text-anchor="end" fill="#111" stroke="#111" stroke-width="0.1">Isoleucine</text>
<text transform="translate(264.13 124.95) rotate(-43)" font-size="7.7" text-anchor="end" fill="#111" stroke="#111" stroke-width="0.1">Valine</text>
<text transform="translate(277.25 124.95) rotate(-43)" font-size="7.7" text-anchor="end" fill="#111" stroke="#111" stroke-width="0.1">Glycine</text>
<text transform="translate(290.37 124.95) rotate(-43)" font-size="7.7" text-anchor="end" fill="#111" stroke="#111" stroke-width="0.1">Alanine</text>
<text transform="translate(303.49 124.95) rotate(-43)" font-size="7.7" text-anchor="end" fill="#111" stroke="#111" stroke-width="0.1">Glutamate</text>
<text transform="translate(316.61 124.95) rotate(-43)" font-size="7.7" text-anchor="end" fill="#111" stroke="#111" stroke-width="0.1">Glutamine</text>
<text transform="translate(329.73 124.95) rotate(-43)" font-size="7.7" text-anchor="end" fill="#111" stroke="#111" stroke-width="0.1">Tyrosine</text>
<text transform="translate(342.85 124.95) rotate(-43)" font-size="7.7" text-anchor="end" fill="#111" stroke="#111" stroke-width="0.1">Phenylalanine</text>
<text transform="translate(355.97 124.95) rotate(-43)" font-size="7.7" text-anchor="end" fill="#111" stroke="#111" stroke-width="0.1">Aspartate</text>
<text transform="translate(369.09 124.95) rotate(-43)" font-size="7.7" text-anchor="end" fill="#111" stroke="#111" stroke-width="0.1">Succinate</text>
<text transform="translate(382.21 124.95) rotate(-43)" font-size="7.7" text-anchor="end" fill="#111" stroke="#111" stroke-width="0.1">Fumarate</text>
<text transform="translate(395.33 124.95) rotate(-43)" font-size="7.7" text-anchor="end" fill="#111" stroke="#111" stroke-width="0.1">Lactate</text>
<text transform="translate(408.45 124.95) rotate(-43)" font-size="7.7" text-anchor="end" fill="#111" stroke="#111" stroke-width="0.1">Acetate</text>
<text transform="translate(421.57 124.95) rotate(-43)" font-size="7.7" text-anchor="end" fill="#111" stroke="#111" stroke-width="0.1">Creatine</text>
<text transform="translate(434.69 124.95) rotate(-43)" font-size="7.7" text-anchor="end" fill="#111" stroke="#111" stroke-width="0.1">Creatine phosphate</text>
<text transform="translate(447.81 124.95) rotate(-43)" font-size="7.7" text-anchor="end" fill="#111" stroke="#111" stroke-width="0.1">Choline</text>
<text transform="translate(460.93 124.95) rotate(-43)" font-size="7.7" text-anchor="end" fill="#111" stroke="#111" stroke-width="0.1">Phosphocholine</text>
<text transform="translate(474.05 124.95) rotate(-43)" font-size="7.7" text-anchor="end" fill="#111" stroke="#111" stroke-width="0.1">Myo inositol</text>
<text transform="translate(487.17 124.95) rotate(-43)" font-size="7.7" text-anchor="end" fill="#111" stroke="#111" stroke-width="0.1">ADP</text>
<text transform="translate(500.29 124.95) rotate(-43)" font-size="7.7" text-anchor="end" fill="#111" stroke="#111" stroke-width="0.1">Histidine</text>
<text transform="translate(513.41 124.95) rotate(-43)" font-size="7.7" text-anchor="end" fill="#111" stroke="#111" stroke-width="0.1">Formate</text>
<text transform="translate(363 20.1)" font-size="8" text-anchor="middle" stroke="#231f20" stroke-width="0.09">HL60</text>
<text transform="translate(181.8 65.25) rotate(-90) scale(0.82 1)" font-size="9.3" text-anchor="middle" fill="#1a1a1a" stroke="#1a1a1a" stroke-width="0.12">Fold change</text>
<line x1="208.6" y1="38.25" x2="214.4" y2="38.25" stroke="#000" stroke-width="1"/>
<text transform="translate(211.5 37.95)" font-size="7.6" text-anchor="middle" font-weight="bold" fill="#000" stroke="#000" stroke-width="0.09">**</text>
<line x1="221.72" y1="33.25" x2="227.52" y2="33.25" stroke="#000" stroke-width="1"/>
<text transform="translate(224.62 32.95)" font-size="7.6" text-anchor="middle" font-weight="bold" fill="#000" stroke="#000" stroke-width="0.09">*</text>
<line x1="261.08" y1="28.25" x2="266.88" y2="28.25" stroke="#000" stroke-width="1"/>
<text transform="translate(263.98 27.95)" font-size="7.6" text-anchor="middle" font-weight="bold" fill="#000" stroke="#000" stroke-width="0.09">*</text>
<line x1="300.44" y1="37.5" x2="306.24" y2="37.5" stroke="#000" stroke-width="1"/>
<text transform="translate(303.34 37.2)" font-size="7.6" text-anchor="middle" font-weight="bold" fill="#000" stroke="#000" stroke-width="0.09">*</text>
<line x1="366.04" y1="30.5" x2="371.84" y2="30.5" stroke="#000" stroke-width="1"/>
<text transform="translate(368.94 30.2)" font-size="7.6" text-anchor="middle" font-weight="bold" fill="#000" stroke="#000" stroke-width="0.09">*</text>
<line x1="379.16" y1="37.5" x2="384.96" y2="37.5" stroke="#000" stroke-width="1"/>
<text transform="translate(382.06 37.2)" font-size="7.6" text-anchor="middle" font-weight="bold" fill="#000" stroke="#000" stroke-width="0.09">**</text>
<line x1="457.88" y1="37.5" x2="463.68" y2="37.5" stroke="#000" stroke-width="1"/>
<text transform="translate(460.78 37.2)" font-size="7.6" text-anchor="middle" font-weight="bold" fill="#000" stroke="#000" stroke-width="0.09">*</text>
<line x1="471" y1="35.5" x2="476.8" y2="35.5" stroke="#000" stroke-width="1"/>
<text transform="translate(473.9 35.2)" font-size="7.6" text-anchor="middle" font-weight="bold" fill="#000" stroke="#000" stroke-width="0.09">*</text>
<line x1="484.12" y1="38.25" x2="489.92" y2="38.25" stroke="#000" stroke-width="1"/>
<text transform="translate(487.02 37.95)" font-size="7.6" text-anchor="middle" font-weight="bold" fill="#000" stroke="#000" stroke-width="0.09">*</text>
<rect x="479.5" y="8.9" width="8" height="4.8" fill="#c9cacc"/>
<text transform="translate(491.3 13.7)" font-size="8.2" stroke="#231f20" stroke-width="0.09">+ Met</text>
<rect x="479.5" y="21.1" width="8" height="4.8" fill="#c4112f"/>
<text transform="translate(491.3 25.9)" font-size="8.2" stroke="#231f20" stroke-width="0.09">– Met</text>
<rect x="206.9" y="237.15" width="4.1" height="44.1" fill="#cfd0d3"/>
<rect x="211.6" y="249.94" width="4.1" height="31.31" fill="#c4112f"/>
<line x1="208.95" y1="230.76" x2="208.95" y2="237.15" stroke="#5f7fa8" stroke-width="0.7"/>
<line x1="207.75" y1="230.76" x2="210.15" y2="230.76" stroke="#5f7fa8" stroke-width="0.7"/>
<line x1="213.65" y1="247.58" x2="213.65" y2="249.94" stroke="#c4112f" stroke-width="0.5"/>
<circle cx="208.95" cy="230.76" r="1.55" fill="#000"/>
<circle cx="208.95" cy="238.03" r="1.55" fill="#000"/>
<circle cx="208.95" cy="242" r="1.55" fill="#000"/>
<circle cx="213.65" cy="248.18" r="1.55" fill="#000"/>
<circle cx="213.65" cy="249.94" r="1.55" fill="#000"/>
<circle cx="213.65" cy="251.7" r="1.55" fill="#000"/>
<rect x="220.02" y="237.15" width="4.1" height="44.1" fill="#cfd0d3"/>
<rect x="224.72" y="257" width="4.1" height="24.25" fill="#c4112f"/>
<line x1="222.07" y1="227.01" x2="222.07" y2="237.15" stroke="#5f7fa8" stroke-width="0.7"/>
<line x1="220.87" y1="227.01" x2="223.27" y2="227.01" stroke="#5f7fa8" stroke-width="0.7"/>
<line x1="226.77" y1="254.63" x2="226.77" y2="257" stroke="#c4112f" stroke-width="0.5"/>
<circle cx="222.07" cy="227.01" r="1.55" fill="#000"/>
<circle cx="222.07" cy="237.15" r="1.55" fill="#000"/>
<circle cx="222.07" cy="237.59" r="1.55" fill="#000"/>
<circle cx="226.77" cy="255.23" r="1.55" fill="#000"/>
<circle cx="226.77" cy="257" r="1.55" fill="#000"/>
<circle cx="226.77" cy="258.76" r="1.55" fill="#000"/>
<rect x="233.14" y="237.15" width="4.1" height="44.1" fill="#cfd0d3"/>
<rect x="237.84" y="239.58" width="4.1" height="41.67" fill="#c4112f"/>
<line x1="235.19" y1="226.35" x2="235.19" y2="237.15" stroke="#5f7fa8" stroke-width="0.7"/>
<line x1="233.99" y1="226.35" x2="236.39" y2="226.35" stroke="#5f7fa8" stroke-width="0.7"/>
<line x1="239.89" y1="233.9" x2="239.89" y2="239.58" stroke="#c4112f" stroke-width="0.5"/>
<circle cx="235.19" cy="226.35" r="1.55" fill="#000"/>
<circle cx="235.19" cy="242.44" r="1.55" fill="#000"/>
<circle cx="235.19" cy="242.88" r="1.55" fill="#000"/>
<circle cx="239.89" cy="234.5" r="1.55" fill="#000"/>
<circle cx="239.89" cy="239.8" r="1.55" fill="#000"/>
<circle cx="239.89" cy="241.56" r="1.55" fill="#000"/>
<rect x="246.26" y="237.15" width="4.1" height="44.1" fill="#cfd0d3"/>
<rect x="250.96" y="242" width="4.1" height="39.25" fill="#c4112f"/>
<line x1="248.31" y1="230.09" x2="248.31" y2="237.15" stroke="#5f7fa8" stroke-width="0.7"/>
<line x1="247.11" y1="230.09" x2="249.51" y2="230.09" stroke="#5f7fa8" stroke-width="0.7"/>
<line x1="253.01" y1="239.64" x2="253.01" y2="242" stroke="#c4112f" stroke-width="0.5"/>
<circle cx="248.31" cy="230.09" r="1.55" fill="#000"/>
<circle cx="248.31" cy="239.58" r="1.55" fill="#000"/>
<circle cx="248.31" cy="241.78" r="1.55" fill="#000"/>
<circle cx="253.01" cy="240.24" r="1.55" fill="#000"/>
<circle cx="253.01" cy="242" r="1.55" fill="#000"/>
<circle cx="253.01" cy="243.76" r="1.55" fill="#000"/>
<rect x="259.38" y="237.15" width="4.1" height="44.1" fill="#cfd0d3"/>
<rect x="264.08" y="230.09" width="4.1" height="51.16" fill="#c4112f"/>
<line x1="261.43" y1="227.45" x2="261.43" y2="237.15" stroke="#5f7fa8" stroke-width="0.7"/>
<line x1="260.23" y1="227.45" x2="262.63" y2="227.45" stroke="#5f7fa8" stroke-width="0.7"/>
<line x1="266.13" y1="229.05" x2="266.13" y2="230.09" stroke="#c4112f" stroke-width="0.5"/>
<circle cx="261.43" cy="227.45" r="1.55" fill="#000"/>
<circle cx="261.43" cy="241.34" r="1.55" fill="#000"/>
<circle cx="261.43" cy="242.88" r="1.55" fill="#000"/>
<circle cx="266.13" cy="229.65" r="1.55" fill="#000"/>
<circle cx="266.13" cy="233.62" r="1.55" fill="#000"/>
<circle cx="266.13" cy="237.15" r="1.55" fill="#000"/>
<rect x="272.5" y="237.15" width="4.1" height="44.1" fill="#cfd0d3"/>
<rect x="277.2" y="234.5" width="4.1" height="46.75" fill="#c4112f"/>
<line x1="274.55" y1="232.74" x2="274.55" y2="237.15" stroke="#5f7fa8" stroke-width="0.7"/>
<line x1="273.35" y1="232.74" x2="275.75" y2="232.74" stroke="#5f7fa8" stroke-width="0.7"/>
<line x1="279.25" y1="232.14" x2="279.25" y2="234.5" stroke="#c4112f" stroke-width="0.5"/>
<circle cx="274.55" cy="232.74" r="1.55" fill="#000"/>
<circle cx="274.55" cy="237.59" r="1.55" fill="#000"/>
<circle cx="274.55" cy="240.02" r="1.55" fill="#000"/>
<circle cx="279.25" cy="232.74" r="1.55" fill="#000"/>
<circle cx="279.25" cy="234.5" r="1.55" fill="#000"/>
<circle cx="279.25" cy="236.27" r="1.55" fill="#000"/>
<rect x="285.62" y="237.15" width="4.1" height="44.1" fill="#cfd0d3"/>
<rect x="290.32" y="242.44" width="4.1" height="38.81" fill="#c4112f"/>
<line x1="287.67" y1="230.09" x2="287.67" y2="237.15" stroke="#5f7fa8" stroke-width="0.7"/>
<line x1="286.47" y1="230.09" x2="288.87" y2="230.09" stroke="#5f7fa8" stroke-width="0.7"/>
<line x1="292.37" y1="240.08" x2="292.37" y2="242.44" stroke="#c4112f" stroke-width="0.5"/>
<circle cx="287.67" cy="230.09" r="1.55" fill="#000"/>
<circle cx="287.67" cy="237.59" r="1.55" fill="#000"/>
<circle cx="287.67" cy="242.44" r="1.55" fill="#000"/>
<circle cx="292.37" cy="240.68" r="1.55" fill="#000"/>
<circle cx="292.37" cy="242.44" r="1.55" fill="#000"/>
<circle cx="292.37" cy="244.21" r="1.55" fill="#000"/>
<rect x="298.74" y="237.15" width="4.1" height="44.1" fill="#cfd0d3"/>
<rect x="303.44" y="256.25" width="4.1" height="25" fill="#c4112f"/>
<line x1="300.79" y1="227.89" x2="300.79" y2="237.15" stroke="#5f7fa8" stroke-width="0.7"/>
<line x1="299.59" y1="227.89" x2="301.99" y2="227.89" stroke="#5f7fa8" stroke-width="0.7"/>
<line x1="305.49" y1="253.88" x2="305.49" y2="256.25" stroke="#c4112f" stroke-width="0.5"/>
<circle cx="300.79" cy="227.89" r="1.55" fill="#000"/>
<circle cx="300.79" cy="241.12" r="1.55" fill="#000"/>
<circle cx="300.79" cy="242" r="1.55" fill="#000"/>
<circle cx="305.49" cy="254.48" r="1.55" fill="#000"/>
<circle cx="305.49" cy="256.25" r="1.55" fill="#000"/>
<circle cx="305.49" cy="258.01" r="1.55" fill="#000"/>
<rect x="311.86" y="237.15" width="4.1" height="44.1" fill="#cfd0d3"/>
<rect x="316.56" y="253.03" width="4.1" height="28.22" fill="#c4112f"/>
<line x1="313.91" y1="230.09" x2="313.91" y2="237.15" stroke="#5f7fa8" stroke-width="0.7"/>
<line x1="312.71" y1="230.09" x2="315.11" y2="230.09" stroke="#5f7fa8" stroke-width="0.7"/>
<line x1="318.61" y1="250.66" x2="318.61" y2="253.03" stroke="#c4112f" stroke-width="0.5"/>
<circle cx="313.91" cy="230.09" r="1.55" fill="#000"/>
<circle cx="313.91" cy="237.15" r="1.55" fill="#000"/>
<circle cx="313.91" cy="243.76" r="1.55" fill="#000"/>
<circle cx="318.61" cy="251.26" r="1.55" fill="#000"/>
<circle cx="318.61" cy="253.03" r="1.55" fill="#000"/>
<circle cx="318.61" cy="254.79" r="1.55" fill="#000"/>
<rect x="324.98" y="237.15" width="4.1" height="44.1" fill="#cfd0d3"/>
<rect x="329.68" y="238.91" width="4.1" height="42.34" fill="#c4112f"/>
<line x1="327.03" y1="227.01" x2="327.03" y2="237.15" stroke="#5f7fa8" stroke-width="0.7"/>
<line x1="325.83" y1="227.01" x2="328.23" y2="227.01" stroke="#5f7fa8" stroke-width="0.7"/>
<line x1="331.73" y1="236.55" x2="331.73" y2="238.91" stroke="#c4112f" stroke-width="0.5"/>
<circle cx="327.03" cy="227.01" r="1.55" fill="#000"/>
<circle cx="327.03" cy="240.46" r="1.55" fill="#000"/>
<circle cx="327.03" cy="244.21" r="1.55" fill="#000"/>
<circle cx="331.73" cy="237.15" r="1.55" fill="#000"/>
<circle cx="331.73" cy="238.91" r="1.55" fill="#000"/>
<circle cx="331.73" cy="240.68" r="1.55" fill="#000"/>
<rect x="338.1" y="237.15" width="4.1" height="44.1" fill="#cfd0d3"/>
<rect x="342.8" y="237.15" width="4.1" height="44.1" fill="#c4112f"/>
<line x1="340.15" y1="228.77" x2="340.15" y2="237.15" stroke="#5f7fa8" stroke-width="0.7"/>
<line x1="338.95" y1="228.77" x2="341.35" y2="228.77" stroke="#5f7fa8" stroke-width="0.7"/>
<line x1="344.85" y1="234.79" x2="344.85" y2="237.15" stroke="#c4112f" stroke-width="0.5"/>
<circle cx="340.15" cy="228.77" r="1.55" fill="#000"/>
<circle cx="340.15" cy="237.59" r="1.55" fill="#000"/>
<circle cx="340.15" cy="242.44" r="1.55" fill="#000"/>
<circle cx="344.85" cy="235.39" r="1.55" fill="#000"/>
<circle cx="344.85" cy="237.15" r="1.55" fill="#000"/>
<circle cx="344.85" cy="238.91" r="1.55" fill="#000"/>
<rect x="351.22" y="237.15" width="4.1" height="44.1" fill="#cfd0d3"/>
<rect x="355.92" y="247.95" width="4.1" height="33.3" fill="#c4112f"/>
<line x1="353.27" y1="228.77" x2="353.27" y2="237.15" stroke="#5f7fa8" stroke-width="0.7"/>
<line x1="352.07" y1="228.77" x2="354.47" y2="228.77" stroke="#5f7fa8" stroke-width="0.7"/>
<line x1="357.97" y1="245.59" x2="357.97" y2="247.95" stroke="#c4112f" stroke-width="0.5"/>
<circle cx="353.27" cy="228.77" r="1.55" fill="#000"/>
<circle cx="353.27" cy="238.03" r="1.55" fill="#000"/>
<circle cx="353.27" cy="243.76" r="1.55" fill="#000"/>
<circle cx="357.97" cy="246.19" r="1.55" fill="#000"/>
<circle cx="357.97" cy="247.95" r="1.55" fill="#000"/>
<circle cx="357.97" cy="249.72" r="1.55" fill="#000"/>
<rect x="364.34" y="237.15" width="4.1" height="44.1" fill="#cfd0d3"/>
<rect x="369.04" y="251.26" width="4.1" height="29.99" fill="#c4112f"/>
<line x1="366.39" y1="227.01" x2="366.39" y2="237.15" stroke="#5f7fa8" stroke-width="0.7"/>
<line x1="365.19" y1="227.01" x2="367.59" y2="227.01" stroke="#5f7fa8" stroke-width="0.7"/>
<line x1="371.09" y1="248.9" x2="371.09" y2="251.26" stroke="#c4112f" stroke-width="0.5"/>
<circle cx="366.39" cy="227.01" r="1.55" fill="#000"/>
<circle cx="366.39" cy="240.46" r="1.55" fill="#000"/>
<circle cx="366.39" cy="244.21" r="1.55" fill="#000"/>
<circle cx="371.09" cy="249.5" r="1.55" fill="#000"/>
<circle cx="371.09" cy="251.26" r="1.55" fill="#000"/>
<circle cx="371.09" cy="253.03" r="1.55" fill="#000"/>
<rect x="377.46" y="237.15" width="4.1" height="44.1" fill="#cfd0d3"/>
<rect x="382.16" y="258.76" width="4.1" height="22.49" fill="#c4112f"/>
<line x1="379.51" y1="228.77" x2="379.51" y2="237.15" stroke="#5f7fa8" stroke-width="0.7"/>
<line x1="378.31" y1="228.77" x2="380.71" y2="228.77" stroke="#5f7fa8" stroke-width="0.7"/>
<line x1="384.21" y1="256.39" x2="384.21" y2="258.76" stroke="#c4112f" stroke-width="0.5"/>
<circle cx="379.51" cy="228.77" r="1.55" fill="#000"/>
<circle cx="379.51" cy="242" r="1.55" fill="#000"/>
<circle cx="379.51" cy="242.44" r="1.55" fill="#000"/>
<circle cx="384.21" cy="257" r="1.55" fill="#000"/>
<circle cx="384.21" cy="258.76" r="1.55" fill="#000"/>
<circle cx="384.21" cy="260.52" r="1.55" fill="#000"/>
<rect x="390.58" y="237.15" width="4.1" height="44.1" fill="#cfd0d3"/>
<rect x="395.28" y="245.09" width="4.1" height="36.16" fill="#c4112f"/>
<line x1="392.63" y1="230.09" x2="392.63" y2="237.15" stroke="#5f7fa8" stroke-width="0.7"/>
<line x1="391.43" y1="230.09" x2="393.83" y2="230.09" stroke="#5f7fa8" stroke-width="0.7"/>
<line x1="397.33" y1="236.55" x2="397.33" y2="245.09" stroke="#c4112f" stroke-width="0.5"/>
<circle cx="392.63" cy="230.09" r="1.55" fill="#000"/>
<circle cx="392.63" cy="233.18" r="1.55" fill="#000"/>
<circle cx="392.63" cy="246.85" r="1.55" fill="#000"/>
<circle cx="397.33" cy="237.15" r="1.55" fill="#000"/>
<circle cx="397.33" cy="245.97" r="1.55" fill="#000"/>
<circle cx="397.33" cy="254.79" r="1.55" fill="#000"/>
<rect x="403.7" y="237.15" width="4.1" height="44.1" fill="#cfd0d3"/>
<rect x="408.4" y="244.65" width="4.1" height="36.6" fill="#c4112f"/>
<line x1="405.75" y1="233.84" x2="405.75" y2="237.15" stroke="#5f7fa8" stroke-width="0.7"/>
<line x1="404.55" y1="233.84" x2="406.95" y2="233.84" stroke="#5f7fa8" stroke-width="0.7"/>
<line x1="410.45" y1="235.23" x2="410.45" y2="244.65" stroke="#c4112f" stroke-width="0.5"/>
<circle cx="405.75" cy="233.84" r="1.55" fill="#000"/>
<circle cx="405.75" cy="237.59" r="1.55" fill="#000"/>
<circle cx="405.75" cy="241.56" r="1.55" fill="#000"/>
<circle cx="410.45" cy="235.83" r="1.55" fill="#000"/>
<circle cx="410.45" cy="248.18" r="1.55" fill="#000"/>
<circle cx="410.45" cy="251.26" r="1.55" fill="#000"/>
<rect x="416.82" y="237.15" width="4.1" height="44.1" fill="#cfd0d3"/>
<rect x="421.52" y="242.44" width="4.1" height="38.81" fill="#c4112f"/>
<line x1="418.87" y1="230.53" x2="418.87" y2="237.15" stroke="#5f7fa8" stroke-width="0.7"/>
<line x1="417.67" y1="230.53" x2="420.07" y2="230.53" stroke="#5f7fa8" stroke-width="0.7"/>
<line x1="423.57" y1="240.08" x2="423.57" y2="242.44" stroke="#c4112f" stroke-width="0.5"/>
<circle cx="418.87" cy="230.53" r="1.55" fill="#000"/>
<circle cx="418.87" cy="239.58" r="1.55" fill="#000"/>
<circle cx="418.87" cy="242" r="1.55" fill="#000"/>
<circle cx="423.57" cy="240.68" r="1.55" fill="#000"/>
<circle cx="423.57" cy="242.44" r="1.55" fill="#000"/>
<circle cx="423.57" cy="244.21" r="1.55" fill="#000"/>
<rect x="429.94" y="237.15" width="4.1" height="44.1" fill="#cfd0d3"/>
<rect x="434.64" y="248.18" width="4.1" height="33.07" fill="#c4112f"/>
<line x1="431.99" y1="231.42" x2="431.99" y2="237.15" stroke="#5f7fa8" stroke-width="0.7"/>
<line x1="430.79" y1="231.42" x2="433.19" y2="231.42" stroke="#5f7fa8" stroke-width="0.7"/>
<line x1="436.69" y1="245.81" x2="436.69" y2="248.18" stroke="#c4112f" stroke-width="0.5"/>
<circle cx="431.99" cy="231.42" r="1.55" fill="#000"/>
<circle cx="431.99" cy="237.15" r="1.55" fill="#000"/>
<circle cx="431.99" cy="243.32" r="1.55" fill="#000"/>
<circle cx="436.69" cy="246.41" r="1.55" fill="#000"/>
<circle cx="436.69" cy="248.18" r="1.55" fill="#000"/>
<circle cx="436.69" cy="249.94" r="1.55" fill="#000"/>
<rect x="443.06" y="237.15" width="4.1" height="44.1" fill="#cfd0d3"/>
<rect x="447.76" y="223.92" width="4.1" height="57.33" fill="#c4112f"/>
<line x1="445.11" y1="228.77" x2="445.11" y2="237.15" stroke="#5f7fa8" stroke-width="0.7"/>
<line x1="443.91" y1="228.77" x2="446.31" y2="228.77" stroke="#5f7fa8" stroke-width="0.7"/>
<line x1="449.81" y1="217.59" x2="449.81" y2="223.92" stroke="#c4112f" stroke-width="0.5"/>
<circle cx="445.11" cy="228.77" r="1.55" fill="#000"/>
<circle cx="445.11" cy="241.12" r="1.55" fill="#000"/>
<circle cx="445.11" cy="241.56" r="1.55" fill="#000"/>
<circle cx="449.81" cy="218.19" r="1.55" fill="#000"/>
<circle cx="449.81" cy="224.8" r="1.55" fill="#000"/>
<circle cx="449.81" cy="229.21" r="1.55" fill="#000"/>
<rect x="456.18" y="237.15" width="4.1" height="44.1" fill="#cfd0d3"/>
<rect x="460.88" y="261.4" width="4.1" height="19.85" fill="#c4112f"/>
<line x1="458.23" y1="229.65" x2="458.23" y2="237.15" stroke="#5f7fa8" stroke-width="0.7"/>
<line x1="457.03" y1="229.65" x2="459.43" y2="229.65" stroke="#5f7fa8" stroke-width="0.7"/>
<line x1="462.93" y1="259.04" x2="462.93" y2="261.4" stroke="#c4112f" stroke-width="0.5"/>
<circle cx="458.23" cy="229.65" r="1.55" fill="#000"/>
<circle cx="458.23" cy="240.02" r="1.55" fill="#000"/>
<circle cx="458.23" cy="243.32" r="1.55" fill="#000"/>
<circle cx="462.93" cy="259.64" r="1.55" fill="#000"/>
<circle cx="462.93" cy="261.4" r="1.55" fill="#000"/>
<circle cx="462.93" cy="263.17" r="1.55" fill="#000"/>
<rect x="469.3" y="237.15" width="4.1" height="44.1" fill="#cfd0d3"/>
<rect x="474" y="238.91" width="4.1" height="42.34" fill="#c4112f"/>
<line x1="471.35" y1="230.53" x2="471.35" y2="237.15" stroke="#5f7fa8" stroke-width="0.7"/>
<line x1="470.15" y1="230.53" x2="472.55" y2="230.53" stroke="#5f7fa8" stroke-width="0.7"/>
<line x1="476.05" y1="236.55" x2="476.05" y2="238.91" stroke="#c4112f" stroke-width="0.5"/>
<circle cx="471.35" cy="230.53" r="1.55" fill="#000"/>
<circle cx="471.35" cy="239.58" r="1.55" fill="#000"/>
<circle cx="471.35" cy="241.56" r="1.55" fill="#000"/>
<circle cx="476.05" cy="237.15" r="1.55" fill="#000"/>
<circle cx="476.05" cy="238.91" r="1.55" fill="#000"/>
<circle cx="476.05" cy="240.68" r="1.55" fill="#000"/>
<rect x="482.42" y="237.15" width="4.1" height="44.1" fill="#cfd0d3"/>
<rect x="487.12" y="249.5" width="4.1" height="31.75" fill="#c4112f"/>
<line x1="484.47" y1="230.09" x2="484.47" y2="237.15" stroke="#5f7fa8" stroke-width="0.7"/>
<line x1="483.27" y1="230.09" x2="485.67" y2="230.09" stroke="#5f7fa8" stroke-width="0.7"/>
<line x1="489.17" y1="247.13" x2="489.17" y2="249.5" stroke="#c4112f" stroke-width="0.5"/>
<circle cx="484.47" cy="230.09" r="1.55" fill="#000"/>
<circle cx="484.47" cy="238.03" r="1.55" fill="#000"/>
<circle cx="484.47" cy="243.32" r="1.55" fill="#000"/>
<circle cx="489.17" cy="247.73" r="1.55" fill="#000"/>
<circle cx="489.17" cy="249.5" r="1.55" fill="#000"/>
<circle cx="489.17" cy="251.26" r="1.55" fill="#000"/>
<rect x="495.54" y="237.15" width="4.1" height="44.1" fill="#cfd0d3"/>
<rect x="500.24" y="242.44" width="4.1" height="38.81" fill="#c4112f"/>
<line x1="497.59" y1="218.19" x2="497.59" y2="237.15" stroke="#5f7fa8" stroke-width="0.7"/>
<line x1="496.39" y1="218.19" x2="498.79" y2="218.19" stroke="#5f7fa8" stroke-width="0.7"/>
<line x1="502.29" y1="240.08" x2="502.29" y2="242.44" stroke="#c4112f" stroke-width="0.5"/>
<circle cx="497.59" cy="218.19" r="1.55" fill="#000"/>
<circle cx="497.59" cy="245.53" r="1.55" fill="#000"/>
<circle cx="497.59" cy="246.85" r="1.55" fill="#000"/>
<circle cx="502.29" cy="240.68" r="1.55" fill="#000"/>
<circle cx="502.29" cy="242.44" r="1.55" fill="#000"/>
<circle cx="502.29" cy="244.21" r="1.55" fill="#000"/>
<rect x="508.66" y="237.15" width="4.1" height="44.1" fill="#cfd0d3"/>
<rect x="513.36" y="242" width="4.1" height="39.25" fill="#c4112f"/>
<line x1="510.71" y1="231.86" x2="510.71" y2="237.15" stroke="#5f7fa8" stroke-width="0.7"/>
<line x1="509.51" y1="231.86" x2="511.91" y2="231.86" stroke="#5f7fa8" stroke-width="0.7"/>
<line x1="515.41" y1="233.02" x2="515.41" y2="242" stroke="#c4112f" stroke-width="0.5"/>
<circle cx="510.71" cy="231.86" r="1.55" fill="#000"/>
<circle cx="510.71" cy="237.15" r="1.55" fill="#000"/>
<circle cx="510.71" cy="243.76" r="1.55" fill="#000"/>
<circle cx="515.41" cy="233.62" r="1.55" fill="#000"/>
<circle cx="515.41" cy="243.32" r="1.55" fill="#000"/>
<circle cx="515.41" cy="246.85" r="1.55" fill="#000"/>
<line x1="205.5" y1="190.05" x2="205.5" y2="281.7" stroke="#000" stroke-width="0.95"/>
<line x1="202.1" y1="281.25" x2="205.5" y2="281.25" stroke="#000" stroke-width="0.9"/>
<text transform="translate(199 283.9) scale(0.97 1)" font-size="8.3" text-anchor="end" fill="#111" stroke="#111" stroke-width="0.1">0</text>
<line x1="202.1" y1="259.2" x2="205.5" y2="259.2" stroke="#000" stroke-width="0.9"/>
<text transform="translate(199 261.85) scale(0.97 1)" font-size="8.3" text-anchor="end" fill="#111" stroke="#111" stroke-width="0.1">0.5</text>
<line x1="202.1" y1="237.15" x2="205.5" y2="237.15" stroke="#000" stroke-width="0.9"/>
<text transform="translate(199 239.8) scale(0.97 1)" font-size="8.3" text-anchor="end" fill="#111" stroke="#111" stroke-width="0.1">1.0</text>
<line x1="202.1" y1="215.1" x2="205.5" y2="215.1" stroke="#000" stroke-width="0.9"/>
<text transform="translate(199 217.75) scale(0.97 1)" font-size="8.3" text-anchor="end" fill="#111" stroke="#111" stroke-width="0.1">1.5</text>
<line x1="202.1" y1="193.05" x2="205.5" y2="193.05" stroke="#000" stroke-width="0.9"/>
<text transform="translate(199 195.7) scale(0.97 1)" font-size="8.3" text-anchor="end" fill="#111" stroke="#111" stroke-width="0.1">2.0</text>
<line x1="205.05" y1="281.25" x2="520" y2="281.25" stroke="#000" stroke-width="0.9"/>
<line x1="211.25" y1="281.25" x2="211.25" y2="284.25" stroke="#000" stroke-width="0.8"/>
<line x1="224.37" y1="281.25" x2="224.37" y2="284.25" stroke="#000" stroke-width="0.8"/>
<line x1="237.49" y1="281.25" x2="237.49" y2="284.25" stroke="#000" stroke-width="0.8"/>
<line x1="250.61" y1="281.25" x2="250.61" y2="284.25" stroke="#000" stroke-width="0.8"/>
<line x1="263.73" y1="281.25" x2="263.73" y2="284.25" stroke="#000" stroke-width="0.8"/>
<line x1="276.85" y1="281.25" x2="276.85" y2="284.25" stroke="#000" stroke-width="0.8"/>
<line x1="289.97" y1="281.25" x2="289.97" y2="284.25" stroke="#000" stroke-width="0.8"/>
<line x1="303.09" y1="281.25" x2="303.09" y2="284.25" stroke="#000" stroke-width="0.8"/>
<line x1="316.21" y1="281.25" x2="316.21" y2="284.25" stroke="#000" stroke-width="0.8"/>
<line x1="329.33" y1="281.25" x2="329.33" y2="284.25" stroke="#000" stroke-width="0.8"/>
<line x1="342.45" y1="281.25" x2="342.45" y2="284.25" stroke="#000" stroke-width="0.8"/>
<line x1="355.57" y1="281.25" x2="355.57" y2="284.25" stroke="#000" stroke-width="0.8"/>
<line x1="368.69" y1="281.25" x2="368.69" y2="284.25" stroke="#000" stroke-width="0.8"/>
<line x1="381.81" y1="281.25" x2="381.81" y2="284.25" stroke="#000" stroke-width="0.8"/>
<line x1="394.93" y1="281.25" x2="394.93" y2="284.25" stroke="#000" stroke-width="0.8"/>
<line x1="408.05" y1="281.25" x2="408.05" y2="284.25" stroke="#000" stroke-width="0.8"/>
<line x1="421.17" y1="281.25" x2="421.17" y2="284.25" stroke="#000" stroke-width="0.8"/>
<line x1="434.29" y1="281.25" x2="434.29" y2="284.25" stroke="#000" stroke-width="0.8"/>
<line x1="447.41" y1="281.25" x2="447.41" y2="284.25" stroke="#000" stroke-width="0.8"/>
<line x1="460.53" y1="281.25" x2="460.53" y2="284.25" stroke="#000" stroke-width="0.8"/>
<line x1="473.65" y1="281.25" x2="473.65" y2="284.25" stroke="#000" stroke-width="0.8"/>
<line x1="486.77" y1="281.25" x2="486.77" y2="284.25" stroke="#000" stroke-width="0.8"/>
<line x1="499.89" y1="281.25" x2="499.89" y2="284.25" stroke="#000" stroke-width="0.8"/>
<line x1="513.01" y1="281.25" x2="513.01" y2="284.25" stroke="#000" stroke-width="0.8"/>
<text transform="translate(211.65 294.95) rotate(-43)" font-size="7.7" text-anchor="end" fill="#111" stroke="#111" stroke-width="0.1">Taurine</text>
<text transform="translate(224.77 294.95) rotate(-43)" font-size="7.7" text-anchor="end" fill="#111" stroke="#111" stroke-width="0.1">Glutathione</text>
<text transform="translate(237.89 294.95) rotate(-43)" font-size="7.7" text-anchor="end" fill="#111" stroke="#111" stroke-width="0.1">Leucine</text>
<text transform="translate(251.01 294.95) rotate(-43)" font-size="7.7" text-anchor="end" fill="#111" stroke="#111" stroke-width="0.1">Isoleucine</text>
<text transform="translate(264.13 294.95) rotate(-43)" font-size="7.7" text-anchor="end" fill="#111" stroke="#111" stroke-width="0.1">Valine</text>
<text transform="translate(277.25 294.95) rotate(-43)" font-size="7.7" text-anchor="end" fill="#111" stroke="#111" stroke-width="0.1">Glycine</text>
<text transform="translate(290.37 294.95) rotate(-43)" font-size="7.7" text-anchor="end" fill="#111" stroke="#111" stroke-width="0.1">Alanine</text>
<text transform="translate(303.49 294.95) rotate(-43)" font-size="7.7" text-anchor="end" fill="#111" stroke="#111" stroke-width="0.1">Glutamate</text>
<text transform="translate(316.61 294.95) rotate(-43)" font-size="7.7" text-anchor="end" fill="#111" stroke="#111" stroke-width="0.1">Glutamine</text>
<text transform="translate(329.73 294.95) rotate(-43)" font-size="7.7" text-anchor="end" fill="#111" stroke="#111" stroke-width="0.1">Tyrosine</text>
<text transform="translate(342.85 294.95) rotate(-43)" font-size="7.7" text-anchor="end" fill="#111" stroke="#111" stroke-width="0.1">Phenylalanine</text>
<text transform="translate(355.97 294.95) rotate(-43)" font-size="7.7" text-anchor="end" fill="#111" stroke="#111" stroke-width="0.1">Aspartate</text>
<text transform="translate(369.09 294.95) rotate(-43)" font-size="7.7" text-anchor="end" fill="#111" stroke="#111" stroke-width="0.1">Succinate</text>
<text transform="translate(382.21 294.95) rotate(-43)" font-size="7.7" text-anchor="end" fill="#111" stroke="#111" stroke-width="0.1">Fumarate</text>
<text transform="translate(395.33 294.95) rotate(-43)" font-size="7.7" text-anchor="end" fill="#111" stroke="#111" stroke-width="0.1">Lactate</text>
<text transform="translate(408.45 294.95) rotate(-43)" font-size="7.7" text-anchor="end" fill="#111" stroke="#111" stroke-width="0.1">Acetate</text>
<text transform="translate(421.57 294.95) rotate(-43)" font-size="7.7" text-anchor="end" fill="#111" stroke="#111" stroke-width="0.1">Creatine</text>
<text transform="translate(434.69 294.95) rotate(-43)" font-size="7.7" text-anchor="end" fill="#111" stroke="#111" stroke-width="0.1">Creatine phosphate</text>
<text transform="translate(447.81 294.95) rotate(-43)" font-size="7.7" text-anchor="end" fill="#111" stroke="#111" stroke-width="0.1">Choline</text>
<text transform="translate(460.93 294.95) rotate(-43)" font-size="7.7" text-anchor="end" fill="#111" stroke="#111" stroke-width="0.1">Phosphocholine</text>
<text transform="translate(474.05 294.95) rotate(-43)" font-size="7.7" text-anchor="end" fill="#111" stroke="#111" stroke-width="0.1">Myo-inositol</text>
<text transform="translate(487.17 294.95) rotate(-43)" font-size="7.7" text-anchor="end" fill="#111" stroke="#111" stroke-width="0.1">ADP</text>
<text transform="translate(500.29 294.95) rotate(-43)" font-size="7.7" text-anchor="end" fill="#111" stroke="#111" stroke-width="0.1">Histidine</text>
<text transform="translate(513.41 294.95) rotate(-43)" font-size="7.7" text-anchor="end" fill="#111" stroke="#111" stroke-width="0.1">Formate</text>
<text transform="translate(360 191.3)" font-size="8" text-anchor="middle" stroke="#231f20" stroke-width="0.09">MOLM13</text>
<text transform="translate(181.8 235.25) rotate(-90) scale(0.82 1)" font-size="9.3" text-anchor="middle" fill="#1a1a1a" stroke="#1a1a1a" stroke-width="0.12">Fold change</text>
<line x1="208.6" y1="225.5" x2="214.4" y2="225.5" stroke="#000" stroke-width="1"/>
<text transform="translate(211.5 225.2)" font-size="7.6" text-anchor="middle" font-weight="bold" fill="#000" stroke="#000" stroke-width="0.09">*</text>
<line x1="221.72" y1="222.5" x2="227.52" y2="222.5" stroke="#000" stroke-width="1"/>
<text transform="translate(224.62 222.2)" font-size="7.6" text-anchor="middle" font-weight="bold" fill="#000" stroke="#000" stroke-width="0.09">*</text>
<line x1="300.44" y1="223.5" x2="306.24" y2="223.5" stroke="#000" stroke-width="1"/>
<text transform="translate(303.34 223.2)" font-size="7.6" text-anchor="middle" font-weight="bold" fill="#000" stroke="#000" stroke-width="0.09">*</text>
<line x1="313.56" y1="223.5" x2="319.36" y2="223.5" stroke="#000" stroke-width="1"/>
<text transform="translate(316.46 223.2)" font-size="7.6" text-anchor="middle" font-weight="bold" fill="#000" stroke="#000" stroke-width="0.09">*</text>
<line x1="379.16" y1="222.5" x2="384.96" y2="222.5" stroke="#000" stroke-width="1"/>
<text transform="translate(382.06 222.2)" font-size="7.6" text-anchor="middle" font-weight="bold" fill="#000" stroke="#000" stroke-width="0.09">**</text>
<line x1="431.64" y1="226.5" x2="437.44" y2="226.5" stroke="#000" stroke-width="1"/>
<text transform="translate(434.54 226.2)" font-size="7.6" text-anchor="middle" font-weight="bold" fill="#000" stroke="#000" stroke-width="0.09">*</text>
<line x1="457.88" y1="223.5" x2="463.68" y2="223.5" stroke="#000" stroke-width="1"/>
<text transform="translate(460.78 223.2)" font-size="7.6" text-anchor="middle" font-weight="bold" fill="#000" stroke="#000" stroke-width="0.09">**</text>
<line x1="484.12" y1="224.5" x2="489.92" y2="224.5" stroke="#000" stroke-width="1"/>
<text transform="translate(487.02 224.2)" font-size="7.6" text-anchor="middle" font-weight="bold" fill="#000" stroke="#000" stroke-width="0.09">*</text>
<rect x="475.2" y="191" width="8" height="4.8" fill="#c9cacc"/>
<text transform="translate(487 195.8)" font-size="8.2" stroke="#231f20" stroke-width="0.09">+ Met</text>
<rect x="475.2" y="203.2" width="8" height="4.8" fill="#c4112f"/>
<text transform="translate(487 208)" font-size="8.2" stroke="#231f20" stroke-width="0.09">– Met</text>
<text transform="translate(251.6 363.8)" font-size="12.4" font-weight="bold" fill="#000" stroke="#000" stroke-width="0.25">H</text>
<text transform="translate(317.5 378)" font-size="8.7" text-anchor="middle" stroke="#231f20" stroke-width="0.09">MOLM13</text>
<line x1="262" y1="383.75" x2="372.5" y2="383.75" stroke="#000" stroke-width="1"/>
<text transform="translate(456.3 378)" font-size="8.6" text-anchor="middle" stroke="#231f20" stroke-width="0.09">Healthy CD34<tspan font-size="5" dy="-3.2">+</tspan></text>
<line x1="399.25" y1="383.75" x2="514.25" y2="383.75" stroke="#000" stroke-width="1"/>
<text transform="translate(289.6 396.8)" font-size="8.7" text-anchor="middle" stroke="#231f20" stroke-width="0.09">+ Met</text>
<text transform="translate(358.4 396.8)" font-size="8.7" text-anchor="middle" stroke="#231f20" stroke-width="0.09">– Met</text>
<text transform="translate(426.4 396.8)" font-size="8.7" text-anchor="middle" stroke="#231f20" stroke-width="0.09">+ Met</text>
<text transform="translate(494.8 396.8)" font-size="8.7" text-anchor="middle" stroke="#231f20" stroke-width="0.09">– Met</text>
<defs>
<radialGradient id="gb"><stop offset="0" stop-color="#d8b436"/><stop offset="0.18" stop-color="#c4cc34"/><stop offset="0.36" stop-color="#9cc83c"/><stop offset="0.5" stop-color="#44a24e"/><stop offset="0.64" stop-color="#2fa6b6"/><stop offset="0.8" stop-color="#4470cc"/><stop offset="0.92" stop-color="#4a58b0" stop-opacity="0.7"/><stop offset="1" stop-color="#4a58b0" stop-opacity="0"/></radialGradient>
<filter id="b1" x="-40%" y="-40%" width="180%" height="180%"><feGaussianBlur stdDeviation="0.55"/></filter>
<filter id="b2" x="-40%" y="-40%" width="180%" height="180%"><feGaussianBlur stdDeviation="1.2"/></filter>
<filter id="b3" x="-40%" y="-40%" width="180%" height="180%"><feGaussianBlur stdDeviation="2"/></filter>
</defs>
<text transform="translate(289.6 461.3) scale(0.71 1)" font-size="10.5" text-anchor="middle" fill="#1a1a1a" stroke="#1a1a1a" stroke-width="0.12">Hoechst</text>
<text transform="translate(258.7 425.6) rotate(-90) scale(0.83 1)" font-size="9.8" text-anchor="middle" fill="#1a1a1a" stroke="#1a1a1a" stroke-width="0.12">Pyronin Y</text>
<text transform="translate(358.4 461.3) scale(0.71 1)" font-size="10.5" text-anchor="middle" fill="#1a1a1a" stroke="#1a1a1a" stroke-width="0.12">Hoechst</text>
<text transform="translate(327.5 425.6) rotate(-90) scale(0.83 1)" font-size="9.8" text-anchor="middle" fill="#1a1a1a" stroke="#1a1a1a" stroke-width="0.12">Pyronin Y</text>
<text transform="translate(426.4 461.3) scale(0.71 1)" font-size="10.5" text-anchor="middle" fill="#1a1a1a" stroke="#1a1a1a" stroke-width="0.12">Hoechst</text>
<text transform="translate(395.5 425.6) rotate(-90) scale(0.83 1)" font-size="9.8" text-anchor="middle" fill="#1a1a1a" stroke="#1a1a1a" stroke-width="0.12">Pyronin Y</text>
<text transform="translate(494.8 461.3) scale(0.71 1)" font-size="10.5" text-anchor="middle" fill="#1a1a1a" stroke="#1a1a1a" stroke-width="0.12">Hoechst</text>
<text transform="translate(463.9 425.6) rotate(-90) scale(0.83 1)" font-size="9.8" text-anchor="middle" fill="#1a1a1a" stroke="#1a1a1a" stroke-width="0.12">Pyronin Y</text>
<clipPath id="c1"><rect x="264.4" y="401.8" width="48.9" height="49.7"/></clipPath>
<g clip-path="url(#c1)">
<g filter="url(#b2)"><path d="M286.5 436 L291 429.5 L297 427 L302.5 424.5 L306 420 L308.5 414.5 L311.5 415 L311.5 423 L309 429.5 L304.5 433.5 L298.5 436 L293 438 L289 443 L286.5 445Z" fill="#7288c6" opacity="0.62"/></g>
<path d="M295.4 435h0.55M288.8 441.5h0.55M300.5 429.4h0.55M299.8 431.3h0.55M287.8 437.8h0.55M289.3 437.5h0.55M297.8 432.1h0.55M292.9 431.7h0.55M302.6 433.4h0.55M297.2 430.1h0.55M310.5 422.1h0.55M294.5 434.4h0.55M290.8 437.2h0.55M306.9 427.1h0.55M291.8 429.8h0.55M296.6 429.5h0.55M300.8 431.1h0.55M292.4 433.8h0.55M303.8 425.7h0.55M301.6 431h0.55M298.5 429.2h0.55M304.2 433.4h0.55M293.4 429.4h0.55M308.2 420.6h0.55M304.9 425h0.55M290.1 445h0.55M297.7 431.4h0.55M299.4 428.7h0.55M287.8 436.1h0.55M301.3 424.9h0.55M308.2 420.4h0.55M301.8 434.3h0.55M301.5 423.7h0.55M309.8 419.9h0.55M299 430.2h0.55M304.3 426.8h0.55M303.1 435.2h0.55M294.4 432.3h0.55M296.9 431.3h0.55M298.7 430.3h0.55M291.4 435.2h0.55M305.8 427h0.55M290.4 435.7h0.55M308.1 425.9h0.55M289 433.4h0.55M308.4 423.2h0.55M307 426.9h0.55M297.6 429.3h0.55M296.2 438.1h0.55M291 429.4h0.55M291.6 434.4h0.55M299.3 433.1h0.55M301.7 429.7h0.55M297.7 431.6h0.55M296.5 424.3h0.55M304.1 424.7h0.55M300 426.7h0.55M288.3 435h0.55M308.8 422.3h0.55M306.5 419h0.55M297.1 430.3h0.55M302.8 430.2h0.55M288.5 440.1h0.55M291.3 435.5h0.55M295.8 432.1h0.55M291 434.9h0.55M289.6 436.1h0.55M308.2 423h0.55M302.3 430.9h0.55M296 434h0.55M296.4 436.4h0.55M310.8 419h0.55M298.8 429.5h0.55M289.6 436.7h0.55M295.8 431.5h0.55M291.2 440.7h0.55M287.3 443.3h0.55M290.9 433.8h0.55M300.6 434.1h0.55M310.5 416.3h0.55M308 422.2h0.55M296.4 429.4h0.55M291.4 434.9h0.55M306.1 422h0.55M295.5 433.2h0.55M310.7 421.1h0.55M307.7 425.7h0.55M305.2 421.2h0.55M292.9 430.1h0.55M287.5 438.9h0.55M287.5 438.8h0.55M304.1 430.5h0.55M310 410h0.55M310.7 417.4h0.55M310 415.9h0.55M292.9 434.9h0.55M292.2 434.8h0.55M308.8 425.4h0.55M307.5 419.5h0.55M306.5 426.2h0.55M289.2 433.3h0.55M306.1 419.8h0.55M305.4 424.6h0.55M306.3 426.1h0.55M295.6 434.9h0.55M297.1 423.2h0.55M297.3 436.5h0.55M291.5 432.5h0.55M290.3 439.9h0.55M306.7 431.2h0.55M290.8 439.4h0.55M303.3 420.6h0.55M296 430.3h0.55M287 439.3h0.55M310.4 413.8h0.55M309.5 415.8h0.55M298.1 435.4h0.55M292.5 428.9h0.55M293.6 432.3h0.55M301.7 432.1h0.55M293.8 431.3h0.55M309 421.3h0.55M296.1 427.7h0.55M308.9 421.9h0.55M297.7 434.7h0.55M300.4 428.3h0.55M300.2 433.8h0.55M291.8 434.3h0.55M286.7 440.9h0.55M299 428.9h0.55M304.8 424.5h0.55M300.1 429.3h0.55M300.9 430.3h0.55M301 428.4h0.55M293.5 432h0.55M299.8 436.1h0.55M301.1 430.4h0.55M298.3 423.8h0.55M302.3 425.5h0.55M304.1 427.9h0.55M298.5 427.3h0.55M309.7 417.7h0.55M304.3 433.5h0.55M293.8 427.3h0.55M301 435.9h0.55M290.6 433.2h0.55M290.2 434.7h0.55M293.3 433.5h0.55M288.8 434.8h0.55M308.7 416.1h0.55M291.1 433.8h0.55M290.8 430.4h0.55M308.4 424.2h0.55M310 417.1h0.55M297.2 421.5h0.55M307.3 425.5h0.55M291.2 431h0.55M295.8 433.7h0.55M292.1 431.3h0.55M287.2 444.4h0.55M300.9 429.4h0.55M295.6 432.4h0.55M302.5 428.2h0.55M310.7 415h0.55M306.3 427.3h0.55M293.9 432.5h0.55M287.8 439.3h0.55M290.4 433.1h0.55M297.8 436.5h0.55M293.8 429.6h0.55M290.9 438.7h0.55M304.3 425.7h0.55M289.3 441.7h0.55M297.9 433h0.55M288.8 442h0.55M306.6 423.8h0.55M289.1 438h0.55M308 422.1h0.55M298.5 428.8h0.55M309.4 423.1h0.55M294 435.5h0.55M293.2 436h0.55M289.8 436.9h0.55M292.3 434.3h0.55M295.1 430.5h0.55M294.5 437.8h0.55M299.6 431.9h0.55M287.2 442.4h0.55M293.5 438.3h0.55M300.8 430.6h0.55M292 426h0.55M289.8 437.7h0.55M307 421.6h0.55M307.3 426.2h0.55M297.1 426.5h0.55M310.6 415.1h0.55M295.8 434.6h0.55M302.8 424.7h0.55M297.4 430.8h0.55M290.4 436.5h0.55M288.8 437.6h0.55M291.3 432h0.55M289.2 440.8h0.55M303.6 422.9h0.55M294.3 432.8h0.55M298.7 433.7h0.55M291.1 432.3h0.55M310.2 417.8h0.55M310.4 413.7h0.55M310.2 415.9h0.55M295 432.3h0.55M296.8 431.8h0.55M299 428.6h0.55M299.7 430.4h0.55M286.7 440.1h0.55M297.2 432.9h0.55M287.9 441.6h0.55M293.1 433.5h0.55M301.6 424.3h0.55M303.3 427.8h0.55M304.6 429.8h0.55M295.4 429.9h0.55M310.7 418.3h0.55M303 433.4h0.55M288 442.2h0.55M302.6 423.3h0.55M305 427.7h0.55M300.2 428.6h0.55M299.7 433.5h0.55M307.1 419.8h0.55M301.6 433.6h0.55M304.1 424.9h0.55M293 434.9h0.55M296.3 432.2h0.55M289.7 438.7h0.55M302.6 425.7h0.55M302.6 427.7h0.55M286.6 436.9h0.55M306.5 425.6h0.55M300.5 426.3h0.55M303.3 433.7h0.55M293.6 435.1h0.55M288.9 437h0.55M292.4 438.7h0.55M305.2 430.7h0.55M296.8 431.1h0.55M299.1 428.5h0.55M302.4 424.3h0.55M303 430.8h0.55M293.6 433.8h0.55M305.3 425.4h0.55M287 443.9h0.55M288.5 437.5h0.55M304.1 432.9h0.55M303.7 427.4h0.55M298.8 434.7h0.55M298.8 436h0.55M292.2 438.2h0.55M310.5 416.2h0.55M298.7 430.7h0.55M307 428.6h0.55M294 432h0.55M292.5 435.5h0.55M301.5 429h0.55M290.7 427.2h0.55M290.5 434.3h0.55M307 418.2h0.55M304.3 427.4h0.55M293.1 436.2h0.55M287.4 437.1h0.55M286.7 436.7h0.55M294.8 432.6h0.55M290.7 433.7h0.55M307.4 426.7h0.55M286.6 440.4h0.55M290.1 429.7h0.55M309.4 417.9h0.55M294.5 425.6h0.55M296.6 422.3h0.55M301.7 437.2h0.55M296.3 429.5h0.55M288.1 439.7h0.55M289.6 438h0.55M309.6 416.6h0.55M293.5 432.6h0.55M292 437.6h0.55M296.6 438.3h0.55M306.8 423.4h0.55M302.7 436h0.55M300.8 426h0.55M304.7 432.5h0.55M298.5 432.6h0.55M305.5 425h0.55M288.1 436.4h0.55M309.4 422.2h0.55M295.9 434.7h0.55M294.7 431.9h0.55M293.8 423.8h0.55M303.3 427.5h0.55M297.1 435.6h0.55M291.4 435.6h0.55M308.9 422.6h0.55M299.6 431.9h0.55M310.9 421.3h0.55M298.4 432.4h0.55M289.3 438.6h0.55M295.8 434.1h0.55M293.7 434.2h0.55M301.3 434h0.55M297.5 427.8h0.55M297.6 428.2h0.55M295.7 431.6h0.55M288.5 436.5h0.55M290.3 444.3h0.55M299.7 426h0.55M292.7 428.5h0.55M294.1 432.8h0.55M298.3 434.4h0.55M310 421.4h0.55M287.3 434.1h0.55M287.6 437.4h0.55M299 424h0.55M301.7 433h0.55M309.4 419.6h0.55M307.1 430.4h0.55M293.5 426h0.55M289.8 438.6h0.55M303.9 431.5h0.55M309.7 417.6h0.55M305.7 421.7h0.55M298.6 430.1h0.55M306.1 425.7h0.55M293.1 437.3h0.55M294.9 430.1h0.55M290.4 435.6h0.55M304.2 432.6h0.55M289.9 439.9h0.55M301.6 431.5h0.55M297 432.4h0.55M286.9 444.4h0.55M294.8 424.4h0.55M303 431.1h0.55M308.4 419.5h0.55M293.5 433.3h0.55M310.1 416.2h0.55M287.3 436.8h0.55M299.6 429h0.55M293.7 429.8h0.55M303.5 430.7h0.55M287.7 438h0.55M295.7 427.7h0.55M292.2 435.9h0.55M306.5 425.4h0.55M292.4 429.5h0.55M310.3 414h0.55M293 438.8h0.55M292.8 433.4h0.55M309.9 414.9h0.55M299.5 431.5h0.55M297.7 433.5h0.55M303.5 430.4h0.55M297.1 431h0.55M292.6 435.1h0.55M288.2 438.1h0.55M288.5 432.6h0.55M308.4 426.3h0.55M305 434.7h0.55M295.5 432.1h0.55M291.9 438.8h0.55M287.6 437h0.55M303.5 426.3h0.55M295.6 434.4h0.55M291.5 437h0.55M296.1 432h0.55M310 423.5h0.55M292.4 439.3h0.55M296.2 434.6h0.55M298 425.7h0.55M288.1 435.3h0.55M309.2 420.5h0.55M292.1 428.9h0.55M287.6 444.5h0.55M297.5 433.5h0.55M287.9 433.6h0.55M287.7 445.9h0.55M293.7 435.7h0.55M305.3 429.2h0.55M294.1 430.9h0.55M310.1 415.3h0.55M304.7 425.7h0.55M295.2 432.2h0.55M305.5 426.8h0.55M309.1 414.8h0.55M287.4 433.5h0.55M293.1 424.9h0.55M310 418.8h0.55M296.9 431.6h0.55M299.5 434.1h0.55M309.4 421.9h0.55M305.1 432.4h0.55M288.1 443.4h0.55M286 445.4h0.55M286.4 448.2h0.55M287.1 445.7h0.55M287.8 449.7h0.55M287 447.2h0.55M288.9 447h0.55M290.3 442.5h0.55M286.9 447.3h0.55M288.4 447.8h0.55M286.6 444.4h0.55M287.2 448.6h0.55M285.4 444.4h0.55M287 442.6h0.55M286.6 445.6h0.55M287.7 445.1h0.55M285.7 445.7h0.55M286.9 445.2h0.55M287 448h0.55M288.8 449.9h0.55M285.8 445.7h0.55M283.3 450.3h0.55M285.9 446.4h0.55M287.8 443.8h0.55" stroke="#5563b4" stroke-width="0.55" fill="none" opacity="0.5"/>
<g filter="url(#b1)"><path d="M284.8 441.6 L285.8 433 L287.3 425.5 L288.6 428 L289.6 435 L289.9 441.6Z" fill="#4fa486" opacity="0.8"/><path d="M285.1 441.4 L285.9 435 L286.9 431.6 L287.8 435 L288.1 441.4Z" fill="#cfcf3c" opacity="0.95"/></g>
</g>
<rect x="283.2" y="411.3" width="7.6" height="40" fill="none" stroke="#262626" stroke-width="0.65"/>
<rect x="291.5" y="411.3" width="19.5" height="31" fill="none" stroke="#262626" stroke-width="0.65"/>
<line x1="283.2" y1="442.2" x2="290.8" y2="442.2" stroke="#0a0a0a" stroke-width="1.3"/>
<text transform="translate(283.6 407.6)" font-size="4.4" fill="#2e2e2e">S/G2/M 27.5%</text>
<text transform="translate(273.1 430.8)" font-size="4.4" text-anchor="middle" fill="#2e2e2e">G1</text>
<text transform="translate(273.3 436.7)" font-size="4.4" text-anchor="middle" fill="#2e2e2e">6.43%</text>
<text transform="translate(273.1 444.1)" font-size="4.4" text-anchor="middle" fill="#2e2e2e">G0</text>
<text transform="translate(273.3 449.5)" font-size="4.4" text-anchor="middle" fill="#2e2e2e">2.56%</text>
<rect x="264.4" y="401.8" width="48.9" height="49.7" fill="none" stroke="#6d6e71" stroke-width="0.8"/>
<clipPath id="c2"><rect x="333.2" y="401.8" width="49.5" height="49.7"/></clipPath>
<g clip-path="url(#c2)">
<g filter="url(#b2)"><path d="M360.5 440 L366 437.5 L372 434 L375.5 432 L376 435.5 L371 438.5 L364 440.5Z" fill="#a9b0de" opacity="0.8"/><path d="M353 441 L354.6 429 L356.8 432 L357.4 441Z" fill="#5f86c8" opacity="0.9"/><rect x="352.2" y="442.8" width="4.2" height="4.2" fill="#4f90c0" opacity="0.9"/></g>
<path d="M376.4 434.5h0.55M373.6 435.4h0.55M373.9 434.5h0.55M365.2 437.7h0.55M362.4 440.8h0.55M369.8 439.9h0.55M375.4 431.3h0.55M367.7 439.2h0.55M364.7 438.9h0.55M362.2 435.5h0.55M370 435h0.55M366.4 436.7h0.55M362.8 439.4h0.55M370.1 437h0.55M370.9 435.5h0.55M365.7 437.9h0.55M371.4 435.8h0.55M363.8 439.8h0.55M373.2 433.9h0.55M362.1 439.1h0.55M366.8 435.1h0.55M362 438.7h0.55M363.1 438.3h0.55M365 436.5h0.55M365.4 439.2h0.55M369.6 435.6h0.55M366.2 434.7h0.55M376.4 434.6h0.55M366.3 438.3h0.55M363.8 441h0.55M360.6 441.3h0.55M373.6 433.3h0.55M367 438.5h0.55M363.1 437.7h0.55M360.7 437.7h0.55M375.1 432.9h0.55M361.9 438.3h0.55M368.6 435.4h0.55M362.8 438.6h0.55M375.3 435.4h0.55M362.2 436.4h0.55M376 433.4h0.55M363.7 441.3h0.55M376.1 435.9h0.55M368.2 440.1h0.55M366.7 438.5h0.55M375 431.5h0.55M363.1 436.8h0.55M373.1 434.8h0.55M374 435.7h0.55M373.8 434.7h0.55M366.9 438.2h0.55M368.8 435.8h0.55M364.5 438.8h0.55M372.1 435.3h0.55M369.5 435.8h0.55M372.6 437.7h0.55M362.4 439.9h0.55M370.1 433.7h0.55M365.4 437.2h0.55M367.2 435.6h0.55M371 434.6h0.55M367.6 436.6h0.55M370.4 435.8h0.55M368.3 436.8h0.55M373 437.2h0.55M367.8 437.6h0.55M362.2 440.9h0.55M362.6 438.5h0.55M367.6 437.2h0.55M354.6 446.5h0.55M354.6 445.9h0.55M354.7 443.1h0.55M354.5 446.5h0.55M353.5 446.5h0.55M355.8 446.2h0.55M358.1 441.3h0.55M354.7 442.8h0.55M351.2 446.8h0.55M355.8 445.9h0.55M355.8 442h0.55M356.3 447.2h0.55M355 445.3h0.55M356 445.5h0.55M355.3 445.5h0.55M351.6 446.4h0.55M355.3 448h0.55M353.7 446.4h0.55M355.9 446.8h0.55M356.9 450.5h0.55M353.6 442.7h0.55M356.3 449.6h0.55M356.4 448.1h0.55M354.1 445.1h0.55M356.1 430.4h0.55M352.8 430h0.55M358 441.7h0.55M354.2 431.1h0.55M355.3 431h0.55M356.6 433.7h0.55M353.7 439.2h0.55M354.3 434.9h0.55M355 432.7h0.55M355.4 431.2h0.55M352.8 425.2h0.55M353.5 431h0.55M355 434.2h0.55M355.7 434.5h0.55M354 431.2h0.55M352.5 433.3h0.55M355.6 436.1h0.55M354.9 433.3h0.55M356.1 434.1h0.55M355.9 436.3h0.55" stroke="#5563b4" stroke-width="0.55" fill="none" opacity="0.45"/>
<g filter="url(#b1)"><path d="M353.1 441.6 L353.8 436 L354.9 432.2 L356 436 L356.5 441.6Z" fill="#58b060"/></g>
</g>
<rect x="351.3" y="411.3" width="7.8" height="40" fill="none" stroke="#262626" stroke-width="0.65"/>
<rect x="359.8" y="411.3" width="17.6" height="29.9" fill="none" stroke="#262626" stroke-width="0.65"/>
<line x1="351.3" y1="442.2" x2="359.1" y2="442.2" stroke="#0a0a0a" stroke-width="1.3"/>
<text transform="translate(354 407.2)" font-size="4.4" fill="#2e2e2e">S/G2/M 5.88%</text>
<text transform="translate(341.6 430.8)" font-size="4.4" text-anchor="middle" fill="#2e2e2e">G1</text>
<text transform="translate(342.2 436.3)" font-size="4.4" text-anchor="middle" fill="#2e2e2e">56%</text>
<text transform="translate(341.6 443.8)" font-size="4.4" text-anchor="middle" fill="#2e2e2e">G0</text>
<text transform="translate(341.6 449)" font-size="4.4" text-anchor="middle" fill="#2e2e2e">25.6%</text>
<rect x="333.2" y="401.8" width="49.5" height="49.7" fill="none" stroke="#6d6e71" stroke-width="0.8"/>
<clipPath id="c3"><rect x="401.2" y="401.8" width="50.1" height="48.9"/></clipPath>
<g clip-path="url(#c3)">
<rect x="426" y="404" width="25" height="47" fill="#dde1f4"/>
<rect x="427.3" y="409.3" width="17.8" height="33" fill="#c9d0ed"/>
<path d="M430 431h0.55M438.8 412.8h0.55M439.8 425.8h0.55M428.3 448h0.55M430.4 410.2h0.55M427.7 433.6h0.55M447 440.5h0.55M434 415.7h0.55M426.6 434h0.55M438.1 419.8h0.55M440.4 424.3h0.55M449 438.2h0.55M430.5 446.4h0.55M426.9 428.5h0.55M434.1 414.4h0.55M427.1 440.4h0.55M426.6 429.4h0.55M449.1 409.8h0.55M429.5 432.2h0.55M436.6 433.8h0.55M445.2 411.4h0.55M431.8 417.4h0.55M427 445.7h0.55M444.3 437.3h0.55M426.5 443.5h0.55M443.2 425.3h0.55M443.1 424.7h0.55M430 408.1h0.55M430.2 404.9h0.55M432.4 439h0.55M441.8 443.6h0.55M442.2 415.8h0.55M437.9 423.9h0.55M444.5 428.1h0.55M430.9 433.8h0.55M449.9 413.4h0.55M447.3 403.7h0.55M430.8 414.3h0.55M443.2 448.3h0.55M443.2 418.7h0.55M447.3 418.8h0.55M430.3 446.6h0.55M440 436.3h0.55M440.9 450h0.55M435.7 443.3h0.55M441.8 444.2h0.55M434.9 437.8h0.55M438.3 417.8h0.55M429.8 432.9h0.55M427.4 446.7h0.55M428.5 404.3h0.55M427.8 447.6h0.55M432.6 409.8h0.55M426.7 405h0.55M441.7 433.4h0.55M441.8 438.4h0.55M427.2 431.3h0.55M433.1 442.2h0.55M445.4 445.8h0.55M427.2 444.7h0.55M448.3 448.3h0.55M427.8 412.9h0.55M427.9 404.7h0.55M446.3 442h0.55M440.1 442.6h0.55M440 416.8h0.55M427.7 407.7h0.55M443.6 412.8h0.55M432.1 423.3h0.55M426.7 415.3h0.55M431.2 437.4h0.55M433.2 418.4h0.55M449.9 427.2h0.55M446.4 432.7h0.55M426.8 422.8h0.55M434.8 440.1h0.55M432.7 436.8h0.55M437.4 413.4h0.55M446.7 407.4h0.55M445.4 411.2h0.55M426.5 412.7h0.55M443.7 449.9h0.55M426.5 426.6h0.55M436.2 441.2h0.55M429.2 426.7h0.55M432.7 442.9h0.55M430.8 448.3h0.55M431.3 413.3h0.55M441.9 426.9h0.55M427.9 433.6h0.55M427.4 440.8h0.55M441.8 440.8h0.55M439.9 420.1h0.55M434 421.9h0.55M447.6 407.1h0.55M447.5 404.2h0.55M429.6 415.6h0.55M447.9 427.1h0.55M433.4 445.4h0.55M430.2 425.1h0.55M437.3 439.2h0.55M443.4 434h0.55M432.7 418.7h0.55M428.7 443.5h0.55M440.8 438.6h0.55M428.9 424.1h0.55M444 430.8h0.55M428.2 425.2h0.55M447.4 414.4h0.55M429.4 417.5h0.55M442 443.5h0.55M428.7 410.5h0.55M430.5 418.7h0.55M437 410.7h0.55M432.3 412.1h0.55M427.8 449.2h0.55M427.8 421.4h0.55M442.9 423.9h0.55M429.4 433.6h0.55M427.8 412.9h0.55M433.7 404.6h0.55M433.9 441h0.55M441.7 427h0.55M440 425.2h0.55M428.4 432h0.55M434.1 438.6h0.55M448.1 423.6h0.55M438.4 439h0.55M434.5 414h0.55M442.5 445.2h0.55M444.1 436.6h0.55M446.4 435.6h0.55M440.3 424.8h0.55M431.9 433.2h0.55M427.7 423.1h0.55M444.3 437.2h0.55M439.9 415h0.55M434.5 424.8h0.55M439.7 422.6h0.55M441.2 447.6h0.55M429.2 434.4h0.55M444.2 421.7h0.55M436.2 449.8h0.55M426.9 429.1h0.55M428.8 440.5h0.55M449.1 427.9h0.55M427.7 430.6h0.55M437.5 437.4h0.55M436.8 433.7h0.55M445.7 428h0.55M434.2 448.5h0.55M429.7 435.8h0.55M433.8 439.6h0.55M432.9 405.7h0.55M431.1 422.2h0.55M426.6 423.1h0.55M434.4 436.5h0.55M432.8 415.7h0.55M430 438.6h0.55M449.1 428.3h0.55M429.9 441.5h0.55M433.8 413.2h0.55M428.2 440.3h0.55M445.1 433.4h0.55M435.7 430h0.55M430 449.3h0.55M432.8 433.7h0.55M445.4 442.2h0.55M435.6 417.1h0.55M437.7 409h0.55M445.8 420h0.55M446.4 415.8h0.55M433.4 415.2h0.55M434.6 411.9h0.55M426.5 437.6h0.55M431.2 414.8h0.55M431.7 426h0.55M434.6 433.6h0.55M440.8 420.4h0.55M448.8 444h0.55M427.1 442.7h0.55M448 440.6h0.55M428.4 442.9h0.55M440 403.7h0.55M426.6 448.7h0.55M440.7 415h0.55M427.8 409.9h0.55M430.2 440.3h0.55M432.7 410.3h0.55M448 441h0.55M428.9 445.8h0.55M439.3 440.5h0.55M441 445.9h0.55M444.5 443.3h0.55M429.5 436.3h0.55M437.3 438.6h0.55M434.9 445.4h0.55M437.9 415.7h0.55M430.2 409.7h0.55M436.3 405.8h0.55M435.6 409.9h0.55M436.2 426.9h0.55M437.5 444.4h0.55M426.5 443.4h0.55M435.6 430h0.55M440.9 443.3h0.55M433.3 423.1h0.55M449.8 406.6h0.55M440.1 433.5h0.55M426.7 432.3h0.55M441.4 447.7h0.55M436.7 426.3h0.55M447.8 404.6h0.55M442.4 433h0.55M432.5 444.4h0.55M433.1 425.8h0.55M437.1 440h0.55M429.7 423.9h0.55M434.5 429.6h0.55M445.6 417.1h0.55M445.7 422.4h0.55M436.5 416h0.55M436.6 449.8h0.55M440.6 441h0.55M432.3 418.2h0.55M431.6 431.1h0.55M440.1 440.6h0.55M426.9 437.7h0.55M447.4 429.2h0.55M427 417.4h0.55M426.5 412.1h0.55M448.5 432.2h0.55M440.7 440.9h0.55M448.2 432.4h0.55M439.6 433.1h0.55M441.8 431.6h0.55M441.4 413.2h0.55M441 425h0.55M443.7 407.9h0.55M429.2 404.8h0.55M444.1 446.9h0.55M440.7 420.7h0.55M445.5 440.8h0.55M438.1 415.4h0.55M431.7 423.2h0.55M432 423.7h0.55M440.3 447.8h0.55M427.1 430.2h0.55M426.9 408.7h0.55M445.1 430.6h0.55M448.4 424.4h0.55M426.6 421.6h0.55M438.9 448h0.55M434.2 407.9h0.55M440.3 413.2h0.55M428.6 403.7h0.55M426.5 435.8h0.55M428.1 449.4h0.55M427.5 444.7h0.55M428.2 403.9h0.55M442.5 414.6h0.55M442.9 412h0.55M427 440.2h0.55M442.3 444.1h0.55M442.8 407h0.55M439.9 437h0.55M435.4 447.8h0.55M430.6 449.3h0.55M442.4 403.5h0.55M426.6 434.2h0.55M445.3 406.8h0.55M431.9 438h0.55M428.9 444.3h0.55M436.1 405.9h0.55M433.2 430.6h0.55M434.9 435.5h0.55M428.5 441.3h0.55M433.1 434h0.55M439.9 423.1h0.55M433.6 440.7h0.55M449.3 440.7h0.55M438.2 417h0.55M427.1 449.7h0.55M442 442.7h0.55M432.3 432.1h0.55M439.1 417.8h0.55M434.6 445.6h0.55M433.4 435.9h0.55M439.2 446h0.55M445.1 416.6h0.55M426.5 415.6h0.55M434.5 431.2h0.55M445.3 445.6h0.55M426.9 443h0.55M445.2 444.6h0.55M438.3 416.1h0.55M446.4 441.7h0.55M441.5 446.9h0.55M432.7 407.1h0.55M437.9 441.3h0.55M429.5 439h0.55M448.8 414.2h0.55M439.3 435.5h0.55M435.6 412.9h0.55M430.6 439.1h0.55M444.6 425.1h0.55M427.5 441.7h0.55M444 414.2h0.55M438.6 446.1h0.55M447.4 428h0.55M435.8 431.3h0.55M429.3 412.2h0.55M429.1 436.7h0.55M433.1 430.1h0.55M434 427.8h0.55M428.6 405.1h0.55M427.8 433.4h0.55M444.5 410.5h0.55M439 419.6h0.55M437 404h0.55M446.8 426.3h0.55M438.2 415.6h0.55M444.2 423.4h0.55M449.3 439.8h0.55M445.4 449.2h0.55M430.6 404.8h0.55M429.5 411.7h0.55M427.5 405.4h0.55M438 444.8h0.55M435.4 448.5h0.55M448.2 406.1h0.55M439.1 422.1h0.55M428.1 449h0.55M430.7 430.1h0.55M440.2 448.9h0.55M441 421.9h0.55M435.1 410.7h0.55M430 404.9h0.55M430.7 419.9h0.55M447.9 446.4h0.55M445.9 405.3h0.55M444.4 437.1h0.55M427.1 410h0.55M443.5 448.1h0.55M441.3 417.3h0.55M438.9 439.4h0.55M427.8 418.5h0.55M430.7 409h0.55M436 411.1h0.55M430.3 409.9h0.55M441.3 403.6h0.55M442.4 412.4h0.55M426.8 447.5h0.55M429.9 447.8h0.55M446.8 445.7h0.55M428.4 424.5h0.55M427.7 447.6h0.55M446.1 433.2h0.55M435.2 419.3h0.55M445.5 425.9h0.55M439.9 409.9h0.55M430 405.7h0.55M442.3 429.6h0.55M428.5 444.8h0.55M430.9 422.8h0.55M428.7 416h0.55M446 419.1h0.55M428.9 426.6h0.55M432 446.4h0.55M428 450h0.55M427.1 446h0.55M441 413.1h0.55M435.9 416.7h0.55M430.7 412.7h0.55M427.7 416.9h0.55M447.7 405.8h0.55M442.7 417.1h0.55M445 419.4h0.55M428.4 403.1h0.55M445.8 428.3h0.55M429.2 423.9h0.55M448.2 413.5h0.55M438.3 409.6h0.55M429.1 440h0.55M442.2 412.4h0.55M427.4 407.2h0.55M439.3 426.8h0.55M431.1 412.9h0.55M439.5 437h0.55M445.2 431h0.55M429.6 406.2h0.55M442.9 422.6h0.55M442.5 405.7h0.55M445.1 419.1h0.55M446.1 444.5h0.55M436.3 403.7h0.55M448.2 425.9h0.55M447 415.8h0.55M429.3 442.9h0.55M433.2 410.8h0.55M433.3 431.6h0.55M426.5 428h0.55M435.1 427.8h0.55M428.1 437.3h0.55M445.3 444.5h0.55M432.1 437.1h0.55M433.5 439.1h0.55M427.1 444.9h0.55M449.5 426.8h0.55M436.8 428.5h0.55M437.4 404h0.55M450 413.7h0.55M429.2 407.9h0.55M430.6 442.2h0.55M426.8 407.6h0.55M441.9 412.4h0.55M426.6 431.8h0.55M438.5 428.1h0.55M442 407.9h0.55M446.9 437.4h0.55M426.9 408.9h0.55M436.3 427h0.55M431.2 408.9h0.55M434.1 409.6h0.55M438.9 444.3h0.55M428.5 430.5h0.55M443.3 410.9h0.55M445.6 448h0.55M433.7 423.2h0.55M446 428.2h0.55M433.8 448.2h0.55M444.1 419.3h0.55M430.3 419.1h0.55M445 446.8h0.55M445.3 443.7h0.55M427 427.8h0.55M449.7 447.8h0.55M430.5 423.3h0.55M440 420.5h0.55M437.3 406.3h0.55M434.8 427.2h0.55M426.7 409.7h0.55M450 440.3h0.55M449 433.4h0.55M445.1 445.4h0.55M447.4 404.6h0.55M440.3 415.8h0.55M441.3 416.1h0.55M437.6 447.4h0.55M439.7 415h0.55M437 423.8h0.55M449.4 416.8h0.55M431.7 434.1h0.55M428.1 431.5h0.55M449.6 427.7h0.55M430.9 425.4h0.55M437.3 410.1h0.55M428.1 409.3h0.55M431.5 422.5h0.55M431.4 414.7h0.55M427.5 429.2h0.55M446 432.3h0.55M438.3 434.2h0.55M429.5 437.1h0.55M435.5 429.3h0.55M439.5 425.5h0.55M431.9 414.6h0.55M430 427.6h0.55M433.5 431.1h0.55M426.6 419.9h0.55M446.7 414.4h0.55M437.9 426.6h0.55M431.5 440.1h0.55M428.7 406.2h0.55M447 424.1h0.55M427.2 421.6h0.55M434.9 438.3h0.55M427.9 413.8h0.55M449.7 438.5h0.55M428.7 419.2h0.55M432.8 435.4h0.55M439.6 443.8h0.55M445.5 427.9h0.55M443 438.7h0.55M443.6 425.8h0.55M444.4 437h0.55M448.3 409.1h0.55M447 403.2h0.55M443.8 431.1h0.55M436.4 449.2h0.55M438.4 423.1h0.55M444.3 444.9h0.55M439.3 421.2h0.55M435.2 425h0.55M442.6 417.1h0.55M433.7 429.7h0.55M433.6 418.5h0.55M444.4 443.8h0.55M436.4 424.3h0.55M429.2 417.6h0.55M428.5 430.6h0.55M438.6 407.2h0.55M448.5 418.5h0.55M446.1 443.2h0.55M449.7 412.8h0.55" stroke="#7d89c8" stroke-width="0.55" fill="none" opacity="0.5"/>
<g filter="url(#b1)"><rect x="421.6" y="410.5" width="3.6" height="5" fill="#6a9fd0" opacity="0.7"/><rect x="420.8" y="414" width="4.4" height="28.4" fill="#6fae68"/><rect x="421.2" y="417.5" width="3.3" height="24.6" fill="#c3c23c"/><rect x="424.7" y="411" width="1.4" height="39" fill="#4a9aa6" opacity="0.8"/><rect x="420.6" y="443.6" width="5" height="2.6" fill="#5fae62"/><rect x="420.6" y="446.4" width="5" height="4" fill="#a9c6e2"/></g>
</g>
<rect x="419.3" y="409.3" width="6.9" height="41.3" fill="none" stroke="#262626" stroke-width="0.65"/>
<rect x="427.3" y="409.3" width="17.8" height="33" fill="none" stroke="#262626" stroke-width="0.65"/>
<line x1="419.3" y1="442.8" x2="426.2" y2="442.8" stroke="#0c2010" stroke-width="1.5"/>
<text transform="translate(421.9 407.1)" font-size="4.4" fill="#2e2e2e">S/G2/M 26.7%</text>
<text transform="translate(410.6 413.1)" font-size="4.4" text-anchor="middle" fill="#2e2e2e">G1</text>
<text transform="translate(410.6 418.5)" font-size="4.4" text-anchor="middle" fill="#2e2e2e">46.8%</text>
<text transform="translate(410.6 445.2)" font-size="4.4" text-anchor="middle" fill="#2e2e2e">G0</text>
<text transform="translate(410.6 449.9)" font-size="4.4" text-anchor="middle" fill="#2e2e2e">7.4%</text>
<rect x="401.2" y="401.8" width="50.1" height="48.9" fill="none" stroke="#6d6e71" stroke-width="0.8"/>
<clipPath id="c4"><rect x="469.6" y="401.8" width="50.1" height="48.9"/></clipPath>
<g clip-path="url(#c4)">
<rect x="494.5" y="412" width="24" height="39" fill="#e4e7f6"/>
<path d="M502.4 409.3h0.55M505.9 434.2h0.55M516 418.3h0.55M505.2 403.1h0.55M504.7 433.1h0.55M509.2 439.3h0.55M500.8 429h0.55M500.7 406.7h0.55M508.9 432.7h0.55M495.7 440h0.55M501.8 430.8h0.55M506.2 411.4h0.55M517.4 434.7h0.55M502.8 427.3h0.55M518.4 441.3h0.55M505 415.6h0.55M496.9 442.4h0.55M517.8 415h0.55M504.6 449.2h0.55M515.3 423.5h0.55M513.1 403.7h0.55M515.1 437.9h0.55M496.7 443.5h0.55M504.5 433.8h0.55M497.2 447.3h0.55M507.7 428.5h0.55M500.7 403.4h0.55M502.1 417.4h0.55M499.7 423.4h0.55M494.5 442.9h0.55M513.7 429.5h0.55M508.7 446.8h0.55M504.2 431.2h0.55M498.8 426h0.55M505.1 403.2h0.55M506.2 438.3h0.55M496 448h0.55M511.3 449.3h0.55M495.7 447.6h0.55M504.8 415.2h0.55M507.2 416.2h0.55M511.6 442.2h0.55M510 440.9h0.55M496.9 444.4h0.55M495.7 409.8h0.55M506.4 441.1h0.55M503 439.5h0.55M495 410.7h0.55M506.4 405.9h0.55M502.7 427.6h0.55M516.4 413.1h0.55M499.8 410.1h0.55M512.9 443h0.55M506.9 405.8h0.55M504.1 406.6h0.55M498.3 439.3h0.55M510.1 446h0.55M499.7 411.7h0.55M503.9 417.1h0.55M498.3 447.5h0.55M500.8 447.1h0.55M517.6 443.5h0.55M505.8 449.1h0.55M505.1 439.5h0.55M496.1 415h0.55M500.7 445.2h0.55M497.3 443.8h0.55M508.6 441.4h0.55M496.6 422.5h0.55M495.6 444.3h0.55M513.5 448.8h0.55M502.8 414.3h0.55M512.6 448h0.55M500.7 421.5h0.55M501.2 406h0.55M497.6 406.5h0.55M504.4 445.8h0.55M503.1 448.7h0.55M509.8 444.6h0.55M515.4 429.4h0.55M501 445.1h0.55M507.1 446.3h0.55M514.6 448.9h0.55M504.6 431.8h0.55M498.9 418.5h0.55M501.4 425.4h0.55M506 442.7h0.55M501.6 449.8h0.55M497 413.3h0.55M500 425.1h0.55M495.8 430.8h0.55M500.9 434h0.55M499.8 445.8h0.55M496.1 421.9h0.55M499.1 438.7h0.55M515.7 418.3h0.55M514.9 412.6h0.55M496.2 444h0.55M494.7 424.1h0.55M508.6 441h0.55M502.1 425.3h0.55M509.6 445.1h0.55M513.8 441h0.55M507.6 447.3h0.55M495.9 409.1h0.55M510.6 422.1h0.55M496.8 446.8h0.55M499.6 439.7h0.55M494.9 442.7h0.55M507.9 447.3h0.55M513.6 430.3h0.55M510.1 444.8h0.55M502.6 423.8h0.55M513.5 418.2h0.55M514.1 428.3h0.55M495 445.2h0.55M495.9 417.2h0.55M497.7 409h0.55M511 449.8h0.55M509.4 439.1h0.55M510.9 414.8h0.55M499.1 449.7h0.55M516.8 437.7h0.55M516.3 423.4h0.55M510.7 414.7h0.55M507.6 436.4h0.55M495 423h0.55M502.5 433.4h0.55M516.3 448.8h0.55M509.7 416.3h0.55M498.7 431.6h0.55M517.6 426.6h0.55M505.4 445h0.55M495.1 440.7h0.55M502.1 446.7h0.55M499.7 448.6h0.55M509.8 424.7h0.55M498.2 445.3h0.55M504.6 436.7h0.55M516.5 441h0.55M499.5 411.1h0.55M496.4 430.7h0.55M500.3 415.7h0.55M505.5 419.2h0.55M496.9 424.9h0.55M506.8 436h0.55M511.5 414.6h0.55M495.9 443.5h0.55M500.9 446.5h0.55M495.1 443.9h0.55M497.4 422.8h0.55M503 449.2h0.55M500.1 435.6h0.55M500.9 447.7h0.55M518.3 419.8h0.55M495.5 421.8h0.55M517.9 430.7h0.55M495.8 434.6h0.55M502.6 447h0.55M516 426.2h0.55M507.6 407.6h0.55M508.3 444.9h0.55M498.4 448.5h0.55M494.7 418.3h0.55M513.6 443.3h0.55M497.2 426.5h0.55M513.8 408.2h0.55M496.9 417.6h0.55M513.3 420.3h0.55M500.1 447.2h0.55M513.2 442.3h0.55M501.1 431.4h0.55M501.1 414.6h0.55M506 427.1h0.55M513 422.6h0.55M515.6 406.9h0.55M504.1 434.1h0.55M496.7 443.1h0.55M506.4 449.9h0.55M509.3 447.8h0.55M502.8 405.2h0.55M502.7 447h0.55M513.7 413h0.55M512.1 437.7h0.55M499.2 425.2h0.55M504.6 437.9h0.55M500.4 437.1h0.55M508.7 415h0.55M515.5 447.8h0.55M499.4 436.8h0.55M505.9 441.1h0.55M497.4 449.8h0.55M500 436h0.55M517.6 409.4h0.55M514.4 404.8h0.55M517.3 427.6h0.55M508.9 428.2h0.55M499.5 430.3h0.55M517 435h0.55M508.1 443.1h0.55M500.5 411h0.55M494.7 447.1h0.55M509 436.6h0.55M495.5 425.2h0.55M501.1 429.8h0.55M502.2 432.5h0.55M505.9 439h0.55M495.9 447.3h0.55M515.1 431.5h0.55M495.9 412.6h0.55M498.5 449.6h0.55M505 444.9h0.55M504 431.2h0.55M498 430.2h0.55M495.9 433.4h0.55M506.5 449.9h0.55M502.7 412.5h0.55M505.5 422h0.55M511.2 449.1h0.55M518.2 421.6h0.55M495.7 414.7h0.55M501.6 447.6h0.55M517.3 430.7h0.55M511.7 448.6h0.55M498.2 440.1h0.55M494.6 429h0.55M497.7 443.1h0.55M509.8 437.7h0.55M515.1 427.5h0.55M514.6 430.7h0.55M516 412h0.55M496.9 420.1h0.55M500.4 419h0.55M509.1 415h0.55M496.1 440.1h0.55M510.6 406.7h0.55M507 449.5h0.55M505.5 416.5h0.55M495.9 408.3h0.55M508.9 444.8h0.55M497.3 436.7h0.55M513.6 429.7h0.55M495.9 416.6h0.55M497.2 431.2h0.55M499.3 423.7h0.55M501.3 448.4h0.55M514.7 432h0.55M509.3 416.1h0.55M500.5 448.2h0.55M504.3 411.8h0.55M497.1 415.5h0.55M509 439.2h0.55M503.6 448h0.55M513.8 439.2h0.55M514.6 428.1h0.55M495.3 441.9h0.55M497.8 410.4h0.55M496.9 440.6h0.55M503.4 430h0.55M501.5 440.9h0.55M494.5 429.8h0.55M503.2 404h0.55M494.9 448.3h0.55M508.8 444.2h0.55M498.9 434h0.55M498.7 430.4h0.55M505 406.1h0.55M505.8 418.5h0.55M514.6 418.3h0.55M507.7 426.7h0.55M500.9 443.8h0.55M512.3 411.9h0.55M516.6 424h0.55M499.6 419h0.55M510.7 433.6h0.55M507.8 441h0.55M505.6 438.6h0.55M495.1 441.6h0.55M500 403.8h0.55M503.8 440.3h0.55M498.3 445.5h0.55M500.6 448.6h0.55M494.5 412h0.55M503.1 436.7h0.55M506 443h0.55M499.5 442.8h0.55M510.3 431.4h0.55M516.6 441.5h0.55M516.1 429.6h0.55M495.4 447.4h0.55M506.3 403.9h0.55M500.8 418.3h0.55M502.5 412.2h0.55M495.2 434.8h0.55M515.4 444h0.55M496.8 444.3h0.55M509.7 446.1h0.55M501.8 446.7h0.55M506.9 412.4h0.55M508.2 446.8h0.55M510.6 405.6h0.55M506.9 449.9h0.55" stroke="#7d89c8" stroke-width="0.55" fill="none" opacity="0.5"/>
<g filter="url(#b1)"><path d="M490.6 414 L491.4 414 L492.6 432 L489.2 432Z" fill="#8098d4" opacity="0.45"/><path d="M490.9 421.5 L491.9 421.5 L493.8 442.2 L488.3 442.2Z" fill="#62ae66"/><path d="M490.6 430 L491.8 430 L492.8 442 L489.4 442Z" fill="#bfc23e"/><rect x="488.2" y="443.8" width="5.2" height="6.2" fill="#a9c244"/><rect x="493.2" y="430" width="1.4" height="20" fill="#5878c4" opacity="0.5"/></g>
</g>
<rect x="487.2" y="409.8" width="6.9" height="40.8" fill="none" stroke="#262626" stroke-width="0.65"/>
<rect x="495.1" y="409.8" width="18.6" height="33.2" fill="none" stroke="#262626" stroke-width="0.65"/>
<line x1="487.2" y1="443" x2="494.1" y2="443" stroke="#0c2010" stroke-width="1.5"/>
<text transform="translate(487.2 406.7)" font-size="4.4" fill="#2e2e2e">S/G2/M 16.3%</text>
<text transform="translate(478.3 413.1)" font-size="4.4" text-anchor="middle" fill="#2e2e2e">G1</text>
<text transform="translate(479 418.5)" font-size="4.4" text-anchor="middle" fill="#2e2e2e">35.2%</text>
<text transform="translate(478.3 445.2)" font-size="4.4" text-anchor="middle" fill="#2e2e2e">G0</text>
<text transform="translate(478.8 449.6)" font-size="4.4" text-anchor="middle" fill="#2e2e2e">52%</text>
<rect x="469.6" y="401.8" width="50.1" height="48.9" fill="none" stroke="#6d6e71" stroke-width="0.8"/>
<path d="M281.7 518.2 C284.18 517.6 285.2 508.2 285.9 469.6 L286.5 469.6 C287.2 506.2 287.6 511.6 289.5 514.6 L293 516.3 L304.5 516.5 L306 515.8 L307.2 515.4 L308.3 516.2 L309.8 518.2 Z" fill="#bcbfce" stroke="#6c7086" stroke-width="0.5" stroke-linejoin="round"/>
<line x1="281.2" y1="508.7" x2="289.5" y2="508.7" stroke="#1a1a1a" stroke-width="0.6"/>
<circle cx="281.2" cy="508.7" r="0.8" fill="#1a1a1a"/>
<circle cx="289.5" cy="508.7" r="0.8" fill="#1a1a1a"/>
<line x1="289.5" y1="508.7" x2="304.5" y2="508.7" stroke="#1a1a1a" stroke-width="0.6"/>
<circle cx="289.5" cy="508.7" r="0.8" fill="#1a1a1a"/>
<circle cx="304.5" cy="508.7" r="0.8" fill="#1a1a1a"/>
<line x1="304.5" y1="508.7" x2="309" y2="508.7" stroke="#1a1a1a" stroke-width="0.6"/>
<circle cx="304.5" cy="508.7" r="0.8" fill="#1a1a1a"/>
<circle cx="309" cy="508.7" r="0.8" fill="#1a1a1a"/>
<text transform="translate(277 498.8)" font-size="4.2" text-anchor="middle" fill="#555">G1</text>
<text transform="translate(277 504.4)" font-size="4.2" text-anchor="middle" fill="#555">67.4</text>
<text transform="translate(294.5 498.8)" font-size="4.2" text-anchor="middle" fill="#555">S</text>
<text transform="translate(294.5 504.4)" font-size="4.2" text-anchor="middle" fill="#555">21.7</text>
<text transform="translate(307.8 498.8)" font-size="4.2" text-anchor="middle" fill="#555">G2</text>
<text transform="translate(307.8 504.4)" font-size="4.2" text-anchor="middle" fill="#555">7.4</text>
<rect x="264.4" y="469.4" width="50.2" height="49.3" fill="none" stroke="#1c1c1c" stroke-width="1"/>
<text transform="translate(289.5 528.8) scale(0.71 1)" font-size="10.5" text-anchor="middle" fill="#1a1a1a" stroke="#1a1a1a" stroke-width="0.12">Hoechst</text>
<text transform="translate(258.7 494.4) rotate(-90) scale(0.77 1)" font-size="9.8" text-anchor="middle" fill="#1a1a1a" stroke="#1a1a1a" stroke-width="0.12">Counts</text>
<path d="M350 518.2 C352.48 517.6 353.5 508.2 354.2 473.75 L354.8 473.75 C355.5 506.2 355.9 513.6 357.3 516.6 L360 517.4 L375 517.6 L376.5 517.3 L378 518.2 Z" fill="#bcbfce" stroke="#6c7086" stroke-width="0.5" stroke-linejoin="round"/>
<line x1="350" y1="508.7" x2="357.5" y2="508.7" stroke="#1a1a1a" stroke-width="0.6"/>
<circle cx="350" cy="508.7" r="0.8" fill="#1a1a1a"/>
<circle cx="357.5" cy="508.7" r="0.8" fill="#1a1a1a"/>
<line x1="357.5" y1="508.7" x2="372.5" y2="508.7" stroke="#1a1a1a" stroke-width="0.6"/>
<circle cx="357.5" cy="508.7" r="0.8" fill="#1a1a1a"/>
<circle cx="372.5" cy="508.7" r="0.8" fill="#1a1a1a"/>
<line x1="372.5" y1="508.7" x2="377.5" y2="508.7" stroke="#1a1a1a" stroke-width="0.6"/>
<circle cx="372.5" cy="508.7" r="0.8" fill="#1a1a1a"/>
<circle cx="377.5" cy="508.7" r="0.8" fill="#1a1a1a"/>
<text transform="translate(345.8 498.8)" font-size="4.2" text-anchor="middle" fill="#555">G1</text>
<text transform="translate(345.8 504.4)" font-size="4.2" text-anchor="middle" fill="#555">91.6</text>
<text transform="translate(363 498.8)" font-size="4.2" text-anchor="middle" fill="#555">S</text>
<text transform="translate(363 504.4)" font-size="4.2" text-anchor="middle" fill="#555">5.5</text>
<text transform="translate(376.3 498.8)" font-size="4.2" text-anchor="middle" fill="#555">G2</text>
<text transform="translate(376.3 504.4)" font-size="4.2" text-anchor="middle" fill="#555">1.0</text>
<rect x="332.6" y="469.4" width="50.6" height="49.3" fill="none" stroke="#1c1c1c" stroke-width="1"/>
<text transform="translate(357.9 528.8) scale(0.71 1)" font-size="10.5" text-anchor="middle" fill="#1a1a1a" stroke="#1a1a1a" stroke-width="0.12">Hoechst</text>
<text transform="translate(326.9 494.4) rotate(-90) scale(0.77 1)" font-size="9.8" text-anchor="middle" fill="#1a1a1a" stroke="#1a1a1a" stroke-width="0.12">Counts</text>
<path d="M419.5 518.2 C421.15 517.6 420.8 508.2 422.2 471.9 L422.8 471.9 C424.2 506.2 424.6 505.9 424.9 508.9 L427 511.6 L433.5 513.8 L440 514.4 L441.6 513.4 L442.7 512.8 L443.8 513.8 L445.6 518.2 Z" fill="#bcbfce" stroke="#6c7086" stroke-width="0.5" stroke-linejoin="round"/>
<line x1="419" y1="506.4" x2="427" y2="506.4" stroke="#1a1a1a" stroke-width="0.6"/>
<circle cx="419" cy="506.4" r="0.8" fill="#1a1a1a"/>
<circle cx="427" cy="506.4" r="0.8" fill="#1a1a1a"/>
<line x1="428.1" y1="509" x2="438.9" y2="509" stroke="#1a1a1a" stroke-width="0.6"/>
<circle cx="428.1" cy="509" r="0.8" fill="#1a1a1a"/>
<circle cx="438.9" cy="509" r="0.8" fill="#1a1a1a"/>
<line x1="440" y1="512.3" x2="445.4" y2="512.3" stroke="#1a1a1a" stroke-width="0.6"/>
<circle cx="440" cy="512.3" r="0.8" fill="#1a1a1a"/>
<circle cx="445.4" cy="512.3" r="0.8" fill="#1a1a1a"/>
<text transform="translate(413.4 498.8)" font-size="4.2" text-anchor="middle" fill="#555">G1</text>
<text transform="translate(413.4 504.4)" font-size="4.2" text-anchor="middle" fill="#555">61.3</text>
<text transform="translate(432.2 498.8)" font-size="4.2" text-anchor="middle" fill="#555">S</text>
<text transform="translate(432.2 504.4)" font-size="4.2" text-anchor="middle" fill="#555">21.3</text>
<text transform="translate(444.5 498.8)" font-size="4.2" text-anchor="middle" fill="#555">G2</text>
<text transform="translate(444.5 504.4)" font-size="4.2" text-anchor="middle" fill="#555">10.1</text>
<rect x="400.9" y="469.4" width="50.4" height="49.3" fill="none" stroke="#1c1c1c" stroke-width="1"/>
<text transform="translate(426.1 528.8) scale(0.71 1)" font-size="10.5" text-anchor="middle" fill="#1a1a1a" stroke="#1a1a1a" stroke-width="0.12">Hoechst</text>
<text transform="translate(395.2 494.4) rotate(-90) scale(0.77 1)" font-size="9.8" text-anchor="middle" fill="#1a1a1a" stroke="#1a1a1a" stroke-width="0.12">Counts</text>
<path d="M486.3 518.2 C488.06 517.6 488.3 508.2 489.2 471.25 L489.8 471.25 C490.7 506.2 491.1 511.8 492.3 514.8 L495 516 L506.5 516.3 L508 515.6 L509 515.2 L510.2 516 L512 518.2 Z" fill="#bcbfce" stroke="#6c7086" stroke-width="0.5" stroke-linejoin="round"/>
<line x1="487.5" y1="506.3" x2="492.5" y2="506.3" stroke="#1a1a1a" stroke-width="0.6"/>
<circle cx="487.5" cy="506.3" r="0.8" fill="#1a1a1a"/>
<circle cx="492.5" cy="506.3" r="0.8" fill="#1a1a1a"/>
<line x1="495" y1="509.2" x2="506.25" y2="509.2" stroke="#1a1a1a" stroke-width="0.6"/>
<circle cx="495" cy="509.2" r="0.8" fill="#1a1a1a"/>
<circle cx="506.25" cy="509.2" r="0.8" fill="#1a1a1a"/>
<line x1="507.5" y1="512" x2="511.25" y2="512" stroke="#1a1a1a" stroke-width="0.6"/>
<circle cx="507.5" cy="512" r="0.8" fill="#1a1a1a"/>
<circle cx="511.25" cy="512" r="0.8" fill="#1a1a1a"/>
<text transform="translate(482 498.8)" font-size="4.2" text-anchor="middle" fill="#555">G1</text>
<text transform="translate(482 504.4)" font-size="4.2" text-anchor="middle" fill="#555">71.4</text>
<text transform="translate(500 498.8)" font-size="4.2" text-anchor="middle" fill="#555">S</text>
<text transform="translate(500 504.4)" font-size="4.2" text-anchor="middle" fill="#555">16.2</text>
<text transform="translate(512.5 498.8)" font-size="4.2" text-anchor="middle" fill="#555">G2</text>
<text transform="translate(512.5 504.4)" font-size="4.2" text-anchor="middle" fill="#555">5.7</text>
<rect x="469.4" y="469.4" width="50.2" height="49.3" fill="none" stroke="#1c1c1c" stroke-width="1"/>
<text transform="translate(494.5 528.8) scale(0.71 1)" font-size="10.5" text-anchor="middle" fill="#1a1a1a" stroke="#1a1a1a" stroke-width="0.12">Hoechst</text>
<text transform="translate(463.7 494.4) rotate(-90) scale(0.77 1)" font-size="9.8" text-anchor="middle" fill="#1a1a1a" stroke="#1a1a1a" stroke-width="0.12">Counts</text>
<clipPath id="a1"><rect x="264.4" y="537.3" width="50.9" height="49"/></clipPath>
<g clip-path="url(#a1)">
<g filter="url(#b2)"><ellipse cx="293.2" cy="579.4" rx="8" ry="2.6" fill="#a3b2da" opacity="0.85"/><ellipse cx="293.5" cy="579.4" rx="3.5" ry="1.6" fill="#7f98d0" opacity="0.7"/><ellipse cx="298" cy="556" rx="13" ry="10" fill="#e6e8f5" opacity="0.9"/></g>
<path d="M296.6 575.2h0.55M291.8 580.4h0.55M295.4 581.9h0.55M297.9 577.2h0.55M296 578.7h0.55M289.7 582.6h0.55M290.4 577.6h0.55M291.4 577.6h0.55M297.7 580.2h0.55M299.4 580.3h0.55M290.5 581.6h0.55M290.3 578.4h0.55M292.5 579.5h0.55M298.5 578.1h0.55M294.8 579.3h0.55M287.6 577.1h0.55M292.2 580.3h0.55M294.6 580.4h0.55M293.4 578.5h0.55M295.1 577.3h0.55M287.2 578.7h0.55M286.9 578.3h0.55M289.9 578.2h0.55M293 577.7h0.55M291.3 575.8h0.55M293.8 577.5h0.55M295 573.4h0.55M289.6 579.9h0.55M282.4 578.6h0.55M293.6 579.6h0.55M286.6 579.9h0.55M293.9 577.3h0.55M296.5 579.3h0.55M293.3 578.4h0.55M295.6 579.6h0.55M298.2 580.4h0.55M290.5 578.9h0.55M297.3 578.6h0.55M294.9 580.5h0.55M292.4 574.5h0.55M293.8 579.9h0.55M293.8 577.8h0.55M298.6 579.1h0.55M290.4 577.9h0.55M294.8 577.1h0.55M288.7 583.7h0.55M299 581.6h0.55M299.3 580.7h0.55M285.7 581.9h0.55M298.7 580.4h0.55M284.5 582h0.55M299.3 578.4h0.55M293.8 581.1h0.55M292.8 581.7h0.55M293.6 580.9h0.55M293.6 576.2h0.55M294.4 582.2h0.55M298.3 583.1h0.55M295.7 578.1h0.55M293.3 575.3h0.55M292.4 581.3h0.55M283.6 579.8h0.55M296.9 582.2h0.55M289.1 578h0.55M284.8 577.2h0.55M295.6 583.8h0.55M288.1 582.3h0.55M295.1 578.3h0.55M303 574h0.55M292.9 579.9h0.55M302.7 583.2h0.55M303.3 579.7h0.55M297.6 582.3h0.55M295.5 580.2h0.55M292.4 578.5h0.55M287.7 583.6h0.55M291.2 575h0.55M294.4 579.3h0.55M294 583.3h0.55M297.1 553.9h0.55M291.8 555.8h0.55M294.4 557.6h0.55M290.9 571h0.55M305.1 562.4h0.55M303.9 562.4h0.55M303.6 567h0.55M306.3 566.5h0.55M293.8 556h0.55M292 563.5h0.55M304.9 552.4h0.55M302.8 576.4h0.55M308.2 547.3h0.55M297.2 560.9h0.55M297.7 559h0.55M307.8 558.6h0.55M288.9 561.6h0.55M297.2 556.9h0.55M293.3 545.2h0.55M287.7 553.2h0.55M307.5 547h0.55M292 560.1h0.55M278 566.5h0.55M291.6 561.1h0.55M294 558.4h0.55M298.9 556h0.55M282.9 544.5h0.55M297.7 567h0.55M293.5 560.1h0.55M299.3 559.8h0.55M306.2 544.3h0.55M300.3 554.6h0.55M295.4 549.3h0.55M291.5 548h0.55M288.9 575.6h0.55M312.1 556.1h0.55M304.1 548.4h0.55M275 541.8h0.55M299.2 567.2h0.55M297.7 548.2h0.55M296 548.2h0.55M286.4 554.2h0.55M294.7 549.7h0.55M290.7 548.7h0.55M300 566.9h0.55M296.3 573.4h0.55M284.6 558.1h0.55M288.4 554.7h0.55M298.8 560.4h0.55M307.4 551.7h0.55M287.7 554.5h0.55M300.4 550.6h0.55M305.4 569.1h0.55M286.2 558.8h0.55M306.4 541h0.55M299.7 554.2h0.55M286.2 566.3h0.55M299.8 552.3h0.55M301.7 561h0.55M304.4 560.5h0.55M301.4 546.8h0.55M294.5 557h0.55M275.1 572.6h0.55M294.9 547.8h0.55M282.9 557.9h0.55M298.3 551.4h0.55M294.5 549.1h0.55M291.8 555.2h0.55M292.7 561.3h0.55M296.8 557h0.55M301.4 565.9h0.55M303 557.8h0.55M296.6 549.7h0.55M295.2 561.3h0.55M299.9 553h0.55M287 544h0.55M300.7 564h0.55M301.1 545.3h0.55M296.2 557.7h0.55M290.4 558.7h0.55M296.3 549.5h0.55M287.7 562.3h0.55M301 549.1h0.55M289.6 562.9h0.55M302.9 553.6h0.55M311.2 553.7h0.55M289.3 564.5h0.55M296.4 558.7h0.55M298.3 548.2h0.55M288.2 554.5h0.55M309.6 548.2h0.55M309.2 557.7h0.55M288.8 558.1h0.55M302.7 549h0.55M280.4 558.8h0.55M288.8 559.4h0.55M282.2 554.9h0.55M291.3 544.5h0.55M296 557.3h0.55M293.4 546.8h0.55M299.8 542.4h0.55M302.4 559.8h0.55M311.9 562.9h0.55M300.9 558.1h0.55M298.2 545.7h0.55M310.1 560.1h0.55M295.6 547.1h0.55M310.3 560.1h0.55M288.2 561.2h0.55M313.7 555.8h0.55M301.3 552.8h0.55M292.8 564.3h0.55M297 562.2h0.55M295.5 561.7h0.55M304.8 548.1h0.55M289.1 555.4h0.55M304.9 558.2h0.55M308.2 545.3h0.55M302.1 551.2h0.55M298.8 558.5h0.55M290 554.2h0.55M288.4 558.1h0.55M291 552.2h0.55M299.8 550.9h0.55M307.5 551.1h0.55M305 558.2h0.55M289.5 554.3h0.55M291.1 553.2h0.55M295.8 570.1h0.55M294.5 568.2h0.55M301.7 545.9h0.55M278.9 561.3h0.55M281.6 561.6h0.55M306.5 559h0.55M296.3 554.1h0.55M300.1 553.7h0.55M293.6 553.1h0.55M307.6 551.2h0.55M301.1 547.1h0.55M292.1 545.4h0.55M296.4 561.3h0.55M300.5 552.2h0.55M303 553.3h0.55M301.1 558.1h0.55M287.3 562h0.55M297.1 573.4h0.55M296.1 551.7h0.55M310.3 560.3h0.55M313.6 559.9h0.55M296.3 561.6h0.55M291.5 552.5h0.55M293.4 554.3h0.55M304.4 552.3h0.55M300.6 552.1h0.55M296.3 557.3h0.55M289.1 563.8h0.55M299.8 565.9h0.55M305.9 561h0.55M296.8 547.6h0.55M296.2 552.4h0.55M300.1 552.4h0.55M307.6 552.4h0.55M296 563.2h0.55M298 546.6h0.55M284 579.1h0.55M278 579.9h0.55M280.5 578.1h0.55M284.2 580.1h0.55M282.3 583.7h0.55M284 578.3h0.55M283.6 579.3h0.55M277.7 576.5h0.55M279.6 583.5h0.55M282.6 579h0.55M281.6 581.4h0.55M283.1 582.8h0.55M284.9 582.7h0.55M282.7 580.2h0.55M282 579.2h0.55" stroke="#6f7cc0" stroke-width="0.55" fill="none" opacity="0.45"/>
<ellipse cx="272.2" cy="579.8" rx="6.7" ry="6.4" fill="url(#gb)"/>
</g>
<line x1="279.2" y1="537.3" x2="279.2" y2="586.3" stroke="#1a1a1a" stroke-width="0.9"/>
<line x1="264.4" y1="571.3" x2="315.3" y2="571.3" stroke="#1a1a1a" stroke-width="0.9"/>
<text transform="translate(265.1 541.6)" font-size="4.6" fill="#2e2e2e">0.55%</text>
<text transform="translate(314.8 541.6)" font-size="4.6" text-anchor="end" fill="#2e2e2e">6.96%</text>
<text transform="translate(265.1 585.6)" font-size="4.6" fill="#333">78.4%</text>
<text transform="translate(314.8 585.6)" font-size="4.6" text-anchor="end" fill="#2e2e2e">13.8%</text>
<rect x="264.4" y="537.3" width="50.9" height="49" fill="none" stroke="#6d6e71" stroke-width="0.8"/>
<text transform="translate(290.25 596.3) scale(0.74 1)" font-size="10.5" text-anchor="middle" fill="#1a1a1a" stroke="#1a1a1a" stroke-width="0.12">Annexin V</text>
<clipPath id="a2"><rect x="331.3" y="537.3" width="51.4" height="49"/></clipPath>
<g clip-path="url(#a2)">
<g filter="url(#b2)"><ellipse cx="363.4" cy="578.4" rx="10" ry="3" fill="#9fb0d8" opacity="0.9"/><ellipse cx="364.5" cy="577.8" rx="4" ry="1.7" fill="#5fa2c0" opacity="0.8"/><ellipse cx="350.5" cy="579.8" rx="5" ry="1.6" fill="#a5b4dc" opacity="0.8"/><ellipse cx="368.6" cy="556.5" rx="6.5" ry="12" fill="#c4cae6" opacity="0.95"/><ellipse cx="367" cy="548" rx="8.5" ry="4.5" fill="#cfd4ec" opacity="0.8"/></g>
<path d="M356 576.9h0.55M359.6 576.8h0.55M369.6 578.8h0.55M369.7 580.1h0.55M368.3 580.4h0.55M361.2 580h0.55M362.5 577h0.55M369.5 583h0.55M359.5 582.1h0.55M367.8 576.3h0.55M365.3 579h0.55M365.7 577.4h0.55M358.1 578.3h0.55M368 579.9h0.55M367.1 580.6h0.55M359.4 578.1h0.55M365.6 580.4h0.55M364.7 579.3h0.55M364.6 582.9h0.55M353.9 578.1h0.55M375.4 578.7h0.55M355.5 578.5h0.55M357.4 576.7h0.55M365 582h0.55M366.1 579.7h0.55M368.7 578.6h0.55M360 578h0.55M365.6 577.6h0.55M360.9 577.4h0.55M357.1 575.9h0.55M363.6 577.4h0.55M364.2 581.3h0.55M365.4 578.1h0.55M358.6 575.8h0.55M365.7 576.3h0.55M366 575.8h0.55M364.6 578h0.55M368.6 577.3h0.55M362.3 578.7h0.55M364.3 581.9h0.55M362.8 577h0.55M362.5 579.2h0.55M365.1 579.7h0.55M357.6 583.7h0.55M372.5 578.1h0.55M358.4 578.5h0.55M365.9 573.3h0.55M364.1 574.9h0.55M366.1 581.3h0.55M368.8 574.9h0.55M370.4 580.2h0.55M362.3 579.3h0.55M371 577.5h0.55M363.9 577h0.55M369.3 573.4h0.55M370.6 576.1h0.55M368.3 574.6h0.55M359.7 576.9h0.55M367.8 574.6h0.55M366.8 576.8h0.55M369.7 577.5h0.55M366.2 577.8h0.55M372.3 577.4h0.55M363.9 582.6h0.55M364.4 579.7h0.55M360.6 578.6h0.55M353.5 578.4h0.55M361 574.9h0.55M357.5 580.7h0.55M366 574.8h0.55M372.4 576.7h0.55M362.3 578.7h0.55M358.7 574.6h0.55M360.6 580.8h0.55M368.4 574.7h0.55M369.6 578.3h0.55M366.3 578.3h0.55M365.9 576h0.55M359.8 576.6h0.55M362.3 579.6h0.55M358.4 581.7h0.55M361.1 576.9h0.55M367.2 579.2h0.55M362.4 575.8h0.55M359.4 574.7h0.55M369.3 580.6h0.55M372.6 579.3h0.55M365.5 579.9h0.55M368.4 577.6h0.55M365.6 583h0.55M356.2 575.1h0.55M359.6 579.9h0.55M369.5 577.5h0.55M367.1 578.1h0.55M365.4 577h0.55M363.9 578.2h0.55M369.2 583.1h0.55M355.6 579.4h0.55M364 580.3h0.55M368.9 579.9h0.55M372.1 548.7h0.55M360.9 568.9h0.55M373.9 548.7h0.55M374.2 561.1h0.55M357.6 562.9h0.55M364.1 565h0.55M365.5 550.3h0.55M361.7 554.3h0.55M373 550.8h0.55M360.3 572.5h0.55M376.7 561.3h0.55M366.1 546.7h0.55M361.2 560.3h0.55M374.3 547.8h0.55M368.5 553.9h0.55M367.4 559.9h0.55M377.8 551.1h0.55M372.3 564.4h0.55M367.2 554.9h0.55M362.6 564.3h0.55M366.1 551h0.55M368.8 549.4h0.55M363.9 553.7h0.55M375.1 554.4h0.55M370.8 544.7h0.55M359.9 570h0.55M366.7 544.1h0.55M368 560.7h0.55M360.8 549.2h0.55M369.7 548.9h0.55M372 563.4h0.55M370.5 552.7h0.55M368.3 551.1h0.55M367.9 558.5h0.55M367.2 563.5h0.55M380 551.8h0.55M370 562.4h0.55M371.4 554.2h0.55M366.4 563.8h0.55M371.3 559.9h0.55M364.9 560.9h0.55M372 554.6h0.55M371.4 572.8h0.55M360.2 560.7h0.55M363.3 545.5h0.55M367.5 560.2h0.55M368.7 547h0.55M362.1 551.7h0.55M368.6 549.6h0.55M361.8 569.6h0.55M364.8 554.8h0.55M366.1 551.5h0.55M368.7 553.7h0.55M371.3 546.8h0.55M361.9 571.1h0.55M368.2 561.9h0.55M373.8 560.3h0.55M368.7 544h0.55M361.4 563.6h0.55M371.5 560.4h0.55M361.1 539.5h0.55M363.8 546.8h0.55M369.2 548.1h0.55M375.6 551.2h0.55M366 562.7h0.55M370 549h0.55M372.2 570.9h0.55M363 554.1h0.55M363.7 540.9h0.55M371.3 561.4h0.55M372.8 559.3h0.55M359.5 555.8h0.55M365.5 546.9h0.55M363.6 561.9h0.55M367.2 571.3h0.55M370.6 541.2h0.55M372.5 565.7h0.55M368.6 546.6h0.55M376.4 545.8h0.55M368.1 541.2h0.55M362.9 542.8h0.55M373.4 565.2h0.55M366.7 545.4h0.55M368.2 558.9h0.55M361.7 547h0.55M368 561.5h0.55M368.8 559.5h0.55M369.9 548.8h0.55M367.9 553.1h0.55M370.7 550h0.55M375 556.2h0.55M370.9 560.9h0.55M373.2 559.2h0.55M360.6 551.1h0.55M376.9 559.7h0.55M371 559.7h0.55M365.6 550.7h0.55M365.6 565.1h0.55M370.1 569.9h0.55M370.7 570.8h0.55M370.6 546.7h0.55M376.3 558.6h0.55M373.9 557.7h0.55M367 557.3h0.55M363.4 546.6h0.55M364.5 551.9h0.55M362.4 555.2h0.55M369.9 571.9h0.55M376.8 555.6h0.55M372.5 554.3h0.55M370.3 555.7h0.55M366.1 556.6h0.55M361.8 559.5h0.55M367.2 547.5h0.55M366.9 560.4h0.55M365.4 559.7h0.55M371.1 568.3h0.55M363.6 555.1h0.55M370.8 567.8h0.55M369.7 561.9h0.55M361.9 551.4h0.55M376 553.8h0.55M378.3 550.3h0.55M367.2 543.4h0.55M371.4 558.1h0.55M377.7 557.3h0.55M367.4 544.9h0.55M368.1 563.5h0.55M371.9 565.7h0.55M372.4 555.6h0.55M371.2 557.4h0.55M362.5 569.5h0.55M370.2 547.7h0.55M370.3 558.3h0.55M373 567.4h0.55M354.7 560.4h0.55M375.5 548.5h0.55M360 558.2h0.55M370 558.8h0.55M363.5 552.3h0.55M369.4 561.9h0.55M378.5 558.3h0.55M373.4 555h0.55M368 548.2h0.55M371.8 541.8h0.55M369 557h0.55M369.9 566.3h0.55M368 556.7h0.55M372.4 543.7h0.55M367.2 556.5h0.55M372.9 549.6h0.55M372.2 559.1h0.55M361.7 544.3h0.55M362 557.1h0.55M369.4 561.7h0.55M372.2 551.6h0.55M373.4 562.5h0.55M370.7 559.8h0.55M362.6 558.9h0.55M363.8 546.5h0.55M366.9 557.1h0.55M368.3 553.4h0.55M363.9 557.5h0.55M365.1 544.8h0.55M368.9 567.6h0.55M366.6 547.6h0.55M374.8 569.6h0.55M367.2 554.3h0.55M369.5 579.5h0.55M369.1 563.9h0.55M370.5 541.5h0.55M363.5 546.2h0.55M370.5 556.8h0.55M376.7 553.8h0.55M369.9 556.6h0.55M369.1 574.5h0.55M369.8 567.7h0.55M374.4 551.2h0.55M371.6 553h0.55M369 557.3h0.55M368.6 552.3h0.55M375.6 553.9h0.55M371.7 569.4h0.55M371.4 564.2h0.55M374.9 564.7h0.55M376.4 544.6h0.55M377.5 556.2h0.55M360.5 550.9h0.55M362.1 555.8h0.55M361.7 548h0.55M369.9 557.3h0.55M364.8 554.1h0.55M368 556.6h0.55M368.5 554.2h0.55M372.5 543.2h0.55M366.2 557.1h0.55M366.7 551.6h0.55M366.5 557.7h0.55M374.2 554.5h0.55M367.3 558.8h0.55M367.4 540.5h0.55M369.7 553h0.55M365.9 561h0.55M368.7 551.5h0.55M358.5 542.2h0.55M368.6 555.1h0.55M370.5 557.8h0.55M366.3 545.9h0.55M363.5 554.9h0.55M363.2 562h0.55M362.4 541.7h0.55M367.6 541.8h0.55M376 548.1h0.55M368.3 554h0.55M364.7 541.9h0.55M359.9 562.9h0.55M373.2 573.3h0.55M361.8 560.5h0.55M368.4 562.8h0.55M366.1 561.8h0.55M372.6 560.9h0.55M375.2 554.6h0.55M375.6 550.4h0.55M368.6 549.6h0.55M368.5 564.2h0.55M371.8 556.8h0.55M376.3 544.2h0.55M364.8 568.1h0.55M370 539.4h0.55M370.1 546.5h0.55M375.3 565.2h0.55M366 566.3h0.55M364.7 563.4h0.55M371.2 555h0.55M362 553.8h0.55M358 551.5h0.55M360 565.7h0.55M371.2 559h0.55M366.2 572.9h0.55M372.1 556.5h0.55M370.7 563.7h0.55M365.8 544.7h0.55M368.3 542.6h0.55M368.5 562.2h0.55M375.4 558.1h0.55M369.4 562h0.55M374.9 553.4h0.55M362.9 549.7h0.55M362.7 548.9h0.55M367.9 558.7h0.55M369.2 556.6h0.55M366.9 559.4h0.55M372.6 562.1h0.55M375.4 553.7h0.55M367.3 569.6h0.55M351.7 580.2h0.55M349.8 581h0.55M349.6 578.2h0.55M350.8 579h0.55M353.9 579.1h0.55M351.4 579.3h0.55M352.2 578.7h0.55M354.9 577.6h0.55M349.7 578.6h0.55M353.3 579.7h0.55M352.7 579.1h0.55M348.5 578h0.55M349.8 578.9h0.55M352 580.1h0.55M354.4 579.5h0.55M348.4 578.1h0.55M351.2 580.1h0.55M357.8 579.9h0.55M357.2 582.2h0.55M347.3 581.3h0.55M355 581.5h0.55M351 580.9h0.55M349.3 579.5h0.55M351.1 582.1h0.55M350.2 580.9h0.55M372.2 572.2h0.55M372.8 575.6h0.55M369.5 575.6h0.55M369.5 571.8h0.55M372.8 573.4h0.55M368.6 569.9h0.55M372.1 574.6h0.55M370.4 574.5h0.55M366.7 575h0.55M373.5 574.7h0.55M369.9 574.2h0.55M372.5 576.7h0.55M373 574.6h0.55M369.5 576.2h0.55M376.1 572.8h0.55M374.2 574.8h0.55M371.8 570.8h0.55M378.1 569.3h0.55M373.1 573.1h0.55M376 572.9h0.55M372.1 575.5h0.55M373.6 572.7h0.55M374.4 575h0.55M375.5 572.7h0.55M371.8 573h0.55" stroke="#6f7cc0" stroke-width="0.55" fill="none" opacity="0.45"/>
<ellipse cx="339.2" cy="580.4" rx="6.9" ry="5.4" fill="url(#gb)"/>
</g>
<line x1="346.4" y1="537.3" x2="346.4" y2="586.3" stroke="#1a1a1a" stroke-width="0.9"/>
<line x1="331.3" y1="571.3" x2="382.7" y2="571.3" stroke="#1a1a1a" stroke-width="0.9"/>
<text transform="translate(332 541.6)" font-size="4.6" fill="#2e2e2e">0.17%</text>
<text transform="translate(382.2 541.6)" font-size="4.6" text-anchor="end" fill="#2e2e2e">21.6%</text>
<text transform="translate(332 585.6)" font-size="4.6" fill="#333">77.2%</text>
<text transform="translate(382.2 585.6)" font-size="4.6" text-anchor="end" fill="#2e2e2e">21%</text>
<rect x="331.3" y="537.3" width="51.4" height="49" fill="none" stroke="#6d6e71" stroke-width="0.8"/>
<text transform="translate(357.4 596.3) scale(0.74 1)" font-size="10.5" text-anchor="middle" fill="#1a1a1a" stroke="#1a1a1a" stroke-width="0.12">Annexin V</text>
<clipPath id="a3"><rect x="401.2" y="537.3" width="50.4" height="49"/></clipPath>
<g clip-path="url(#a3)">
<g filter="url(#b2)"><ellipse cx="427.5" cy="547.6" rx="4.5" ry="1.3" fill="#cdd2ea" opacity="0.9"/><ellipse cx="427.5" cy="580.5" rx="6.5" ry="1.8" fill="#d0d5ec" opacity="0.9"/></g>
<path d="M424.6 547.8h0.55M428.9 549.2h0.55M426.4 548h0.55M431.5 547.4h0.55M427.7 547.7h0.55M425.1 546.3h0.55M431.4 547.7h0.55M427.2 546h0.55M427.9 548.9h0.55M423.5 546.4h0.55M431.4 549.2h0.55M432.9 546.8h0.55M429.6 546.6h0.55M429.3 547.1h0.55M428.2 549.1h0.55M428.7 547.2h0.55M427.7 547.8h0.55M425.7 547.7h0.55M430.5 583.3h0.55M417.2 578.4h0.55M421.3 582.1h0.55M439.6 580.8h0.55M428.1 582.5h0.55M415.4 580.2h0.55M412 580.8h0.55M425 579.6h0.55M429.2 579.5h0.55M433 580.5h0.55M429.4 585h0.55M425.3 582.2h0.55M423.4 582.7h0.55M432.3 580.8h0.55M432.4 583.4h0.55M434.3 580.5h0.55M427.2 582.5h0.55M420.2 579.4h0.55M429.9 581.5h0.55M436.7 583.6h0.55M429.1 581.3h0.55M421 580.2h0.55M428.8 580.1h0.55M427.8 581.6h0.55M422.8 579.5h0.55M420.7 568.8h0.55M422.9 551.9h0.55M428.3 560.7h0.55M428.9 559.8h0.55M432.3 566.2h0.55M426.4 562.7h0.55M425.4 566.8h0.55M431.9 559.5h0.55M422.8 565.5h0.55M429.2 553.1h0.55" stroke="#6f7cc0" stroke-width="0.55" fill="none" opacity="0.45"/>
<ellipse cx="407" cy="580.3" rx="6.2" ry="5.9" fill="url(#gb)"/>
</g>
<line x1="415" y1="537.3" x2="415" y2="586.3" stroke="#1a1a1a" stroke-width="0.9"/>
<line x1="401.2" y1="573.8" x2="451.6" y2="573.8" stroke="#1a1a1a" stroke-width="0.9"/>
<text transform="translate(401.9 541.6)" font-size="4.6" fill="#2e2e2e">0.21%</text>
<text transform="translate(451.1 541.6)" font-size="4.6" text-anchor="end" fill="#2e2e2e">1.29%</text>
<text transform="translate(451.1 585.6)" font-size="4.6" text-anchor="end" fill="#2e2e2e">2.27%</text>
<rect x="401.2" y="537.3" width="50.4" height="49" fill="none" stroke="#6d6e71" stroke-width="0.8"/>
<text transform="translate(426.8 596.3) scale(0.74 1)" font-size="10.5" text-anchor="middle" fill="#1a1a1a" stroke="#1a1a1a" stroke-width="0.12">Annexin V</text>
<clipPath id="a4"><rect x="468.4" y="537.3" width="51.3" height="49"/></clipPath>
<g clip-path="url(#a4)">
<g filter="url(#b2)"><ellipse cx="496.3" cy="548.1" rx="5" ry="1.5" fill="#c2c8e6" opacity="0.95"/><ellipse cx="498.4" cy="580.4" rx="6" ry="2.2" fill="#9aa8dc" opacity="0.95"/><ellipse cx="498.4" cy="580.4" rx="2.6" ry="1.2" fill="#6274c4" opacity="0.9"/></g>
<path d="M494.1 546.6h0.55M498.4 548.7h0.55M494 546.4h0.55M498.9 545.2h0.55M498.7 547.8h0.55M503.1 549.4h0.55M494.5 547.6h0.55M495.5 547h0.55M496.8 549.3h0.55M491.3 547.7h0.55M501.7 549h0.55M493.7 546.9h0.55M493.5 545.8h0.55M500.5 548.1h0.55M494.1 546h0.55M495.2 547.3h0.55M502.4 547.4h0.55M496.9 549.5h0.55M498.8 547.8h0.55M489 549.9h0.55M498.6 547.4h0.55M496.2 546.7h0.55M493.4 546h0.55M498.2 548.7h0.55M497.1 549.1h0.55M500.6 580.6h0.55M495 581.5h0.55M503.2 581.6h0.55M503.4 579.5h0.55M494.7 582.7h0.55M496.2 580.9h0.55M497.8 580.4h0.55M497.4 579.4h0.55M491.5 584h0.55M499.3 576.8h0.55M494.9 578.3h0.55M495.6 575.6h0.55M500.8 583.5h0.55M497.5 581.8h0.55M500.9 578.1h0.55M503.3 577.3h0.55M496.2 579.7h0.55M503.4 580.6h0.55M498 578.9h0.55M498.9 580.5h0.55M501.4 583h0.55M501.4 580.4h0.55M497.9 583.4h0.55M499.3 580.4h0.55M505.5 583.3h0.55M500.7 580.2h0.55M496 582.4h0.55M496.7 582.2h0.55M495.4 580.6h0.55M500.1 580.7h0.55M499.4 581.1h0.55M494.1 578.3h0.55M497.9 583.8h0.55M498 578.7h0.55M495.9 580.5h0.55M503.1 579.3h0.55M500.7 580.7h0.55M497.1 578.6h0.55M497.9 579.1h0.55M500.6 577.1h0.55M502.9 581.8h0.55M500.8 583.2h0.55M500.9 577.2h0.55M498.7 581.2h0.55M495.8 578.3h0.55M500.2 581.3h0.55M496.8 580h0.55M496.5 579.3h0.55M498.3 582.4h0.55M492.2 579.8h0.55M504.8 581h0.55M499.1 581.9h0.55M494.6 578.2h0.55M492 577.7h0.55M499.5 582h0.55M496.9 579.1h0.55M500.1 581.5h0.55M499.5 576.9h0.55M496.4 575.7h0.55M499.4 578.8h0.55M493.6 572.3h0.55M499.4 565.3h0.55M496.3 563.2h0.55M493.8 561.7h0.55M501.1 556h0.55M493.6 563.1h0.55M498.1 567.7h0.55M492.7 561.1h0.55M494.7 553.6h0.55M495.7 558.7h0.55M498.2 565h0.55M493.2 562.6h0.55M494.5 557.7h0.55M494.1 569.2h0.55M494.3 550.3h0.55M485.1 581.6h0.55M492.2 578h0.55M486.1 579.4h0.55M483.6 580.8h0.55M486.9 580.5h0.55M492.4 579.5h0.55M488.9 581.6h0.55M485.5 578.8h0.55M490.8 581.4h0.55M487.3 577.9h0.55" stroke="#6f7cc0" stroke-width="0.55" fill="none" opacity="0.45"/>
<ellipse cx="475.3" cy="580.4" rx="6" ry="5.8" fill="url(#gb)"/>
</g>
<line x1="482.8" y1="537.3" x2="482.8" y2="586.3" stroke="#1a1a1a" stroke-width="0.9"/>
<line x1="468.4" y1="573.9" x2="519.7" y2="573.9" stroke="#1a1a1a" stroke-width="0.9"/>
<text transform="translate(469.1 541.6)" font-size="4.6" fill="#2e2e2e">0.16%</text>
<text transform="translate(519.2 541.6)" font-size="4.6" text-anchor="end" fill="#2e2e2e">2.72%</text>
<text transform="translate(519.2 585.6)" font-size="4.6" text-anchor="end" fill="#2e2e2e">8.74%</text>
<rect x="468.4" y="537.3" width="51.3" height="49" fill="none" stroke="#6d6e71" stroke-width="0.8"/>
<text transform="translate(494.45 596.3) scale(0.74 1)" font-size="10.5" text-anchor="middle" fill="#1a1a1a" stroke="#1a1a1a" stroke-width="0.12">Annexin V</text>
<text transform="translate(258.3 561.6) rotate(-90) scale(0.78 1)" font-size="10.8" text-anchor="middle" fill="#1a1a1a" stroke="#1a1a1a" stroke-width="0.12">PI</text>
<text transform="translate(323.3 561.6) rotate(-90) scale(0.78 1)" font-size="10.8" text-anchor="middle" fill="#1a1a1a" stroke="#1a1a1a" stroke-width="0.12">PI</text>
<text transform="translate(393.5 561.6) rotate(-90) scale(0.78 1)" font-size="10.8" text-anchor="middle" fill="#1a1a1a" stroke="#1a1a1a" stroke-width="0.12">PI</text>
<text transform="translate(461.8 561.6) rotate(-90) scale(0.78 1)" font-size="10.8" text-anchor="middle" fill="#1a1a1a" stroke="#1a1a1a" stroke-width="0.12">PI</text>
</svg>
</body></html>
